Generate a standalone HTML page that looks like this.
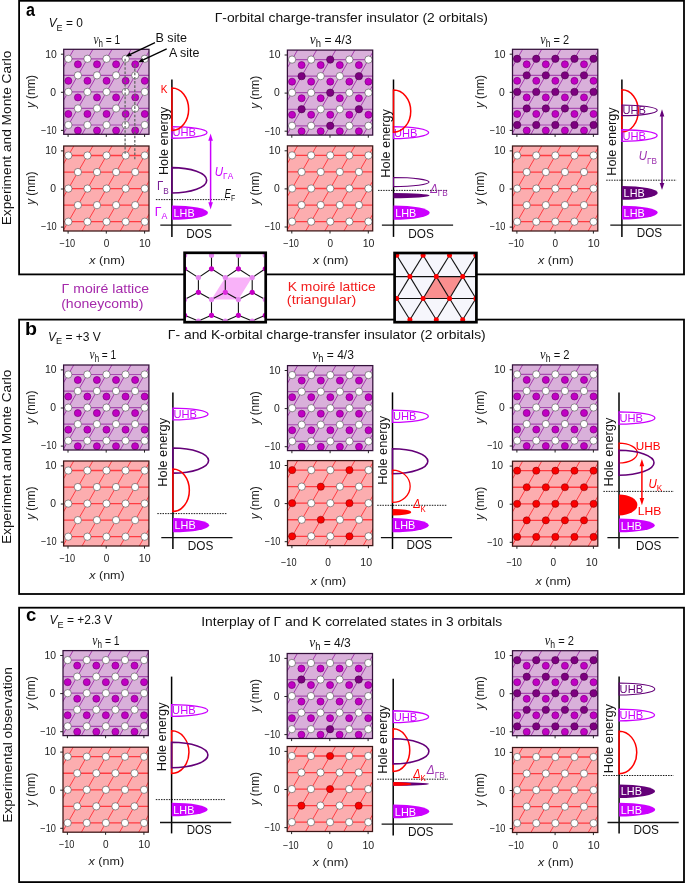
<!DOCTYPE html>
<html><head><meta charset="utf-8"><style>
html,body{margin:0;padding:0;background:#fff;}
svg{display:block;will-change:transform;font-family:"Liberation Sans", sans-serif;}
</style></head><body>
<svg width="685" height="883" viewBox="0 0 685 883" font-family='"Liberation Sans", sans-serif'>
<rect x="0" y="0" width="685" height="883" fill="#fff"/>
<rect x="19.1" y="0.8" width="664.90" height="273.60" fill="none" stroke="#000" stroke-width="1.8"/>
<rect x="19.1" y="319.6" width="664.90" height="274.40" fill="none" stroke="#000" stroke-width="1.8"/>
<rect x="19.1" y="607.7" width="664.90" height="274.40" fill="none" stroke="#000" stroke-width="1.8"/>
<clipPath id="c1"><rect x="63.70" y="49.30" width="85.3" height="85.0"/></clipPath>
<rect x="63.70" y="49.30" width="85.3" height="85.0" fill="#d9b0da"/>
<g clip-path="url(#c1)">
<line x1="61.70" y1="42.25" x2="151.00" y2="42.25" stroke="#a94bb1" stroke-width="1.2"/>
<line x1="61.70" y1="58.80" x2="151.00" y2="58.80" stroke="#a94bb1" stroke-width="1.2"/>
<line x1="61.70" y1="75.35" x2="151.00" y2="75.35" stroke="#a94bb1" stroke-width="1.2"/>
<line x1="61.70" y1="91.90" x2="151.00" y2="91.90" stroke="#a94bb1" stroke-width="1.2"/>
<line x1="61.70" y1="108.45" x2="151.00" y2="108.45" stroke="#a94bb1" stroke-width="1.2"/>
<line x1="61.70" y1="125.00" x2="151.00" y2="125.00" stroke="#a94bb1" stroke-width="1.2"/>
<line x1="61.70" y1="141.55" x2="151.00" y2="141.55" stroke="#a94bb1" stroke-width="1.2"/>
<line x1="-39.61" y1="47.30" x2="-90.97" y2="136.30" stroke="#a53aad" stroke-width="1.0"/>
<line x1="-20.51" y1="47.30" x2="-71.87" y2="136.30" stroke="#a53aad" stroke-width="1.0"/>
<line x1="-1.41" y1="47.30" x2="-52.77" y2="136.30" stroke="#a53aad" stroke-width="1.0"/>
<line x1="17.69" y1="47.30" x2="-33.67" y2="136.30" stroke="#a53aad" stroke-width="1.0"/>
<line x1="36.79" y1="47.30" x2="-14.57" y2="136.30" stroke="#a53aad" stroke-width="1.0"/>
<line x1="55.89" y1="47.30" x2="4.53" y2="136.30" stroke="#a53aad" stroke-width="1.0"/>
<line x1="74.99" y1="47.30" x2="23.63" y2="136.30" stroke="#a53aad" stroke-width="1.0"/>
<line x1="94.09" y1="47.30" x2="42.73" y2="136.30" stroke="#a53aad" stroke-width="1.0"/>
<line x1="113.19" y1="47.30" x2="61.83" y2="136.30" stroke="#a53aad" stroke-width="1.0"/>
<line x1="132.29" y1="47.30" x2="80.93" y2="136.30" stroke="#a53aad" stroke-width="1.0"/>
<line x1="151.39" y1="47.30" x2="100.03" y2="136.30" stroke="#a53aad" stroke-width="1.0"/>
<line x1="170.49" y1="47.30" x2="119.13" y2="136.30" stroke="#a53aad" stroke-width="1.0"/>
<line x1="189.59" y1="47.30" x2="138.23" y2="136.30" stroke="#a53aad" stroke-width="1.0"/>
<line x1="208.69" y1="47.30" x2="157.33" y2="136.30" stroke="#a53aad" stroke-width="1.0"/>
<circle cx="77.90" cy="64.32" r="3.5" fill="#c000c4" stroke="#7a007a" stroke-width="0.7"/>
<circle cx="97.00" cy="64.32" r="3.5" fill="#c000c4" stroke="#7a007a" stroke-width="0.7"/>
<circle cx="116.10" cy="64.32" r="3.5" fill="#c000c4" stroke="#7a007a" stroke-width="0.7"/>
<circle cx="135.20" cy="64.32" r="3.5" fill="#c000c4" stroke="#7a007a" stroke-width="0.7"/>
<circle cx="68.35" cy="80.87" r="3.5" fill="#c000c4" stroke="#7a007a" stroke-width="0.7"/>
<circle cx="87.45" cy="80.87" r="3.5" fill="#c000c4" stroke="#7a007a" stroke-width="0.7"/>
<circle cx="106.55" cy="80.87" r="3.5" fill="#c000c4" stroke="#7a007a" stroke-width="0.7"/>
<circle cx="125.65" cy="80.87" r="3.5" fill="#c000c4" stroke="#7a007a" stroke-width="0.7"/>
<circle cx="144.75" cy="80.87" r="3.5" fill="#c000c4" stroke="#7a007a" stroke-width="0.7"/>
<circle cx="77.90" cy="97.42" r="3.5" fill="#c000c4" stroke="#7a007a" stroke-width="0.7"/>
<circle cx="97.00" cy="97.42" r="3.5" fill="#c000c4" stroke="#7a007a" stroke-width="0.7"/>
<circle cx="116.10" cy="97.42" r="3.5" fill="#c000c4" stroke="#7a007a" stroke-width="0.7"/>
<circle cx="135.20" cy="97.42" r="3.5" fill="#c000c4" stroke="#7a007a" stroke-width="0.7"/>
<circle cx="68.35" cy="113.97" r="3.5" fill="#c000c4" stroke="#7a007a" stroke-width="0.7"/>
<circle cx="87.45" cy="113.97" r="3.5" fill="#c000c4" stroke="#7a007a" stroke-width="0.7"/>
<circle cx="106.55" cy="113.97" r="3.5" fill="#c000c4" stroke="#7a007a" stroke-width="0.7"/>
<circle cx="125.65" cy="113.97" r="3.5" fill="#c000c4" stroke="#7a007a" stroke-width="0.7"/>
<circle cx="144.75" cy="113.97" r="3.5" fill="#c000c4" stroke="#7a007a" stroke-width="0.7"/>
<circle cx="77.90" cy="130.52" r="3.5" fill="#c000c4" stroke="#7a007a" stroke-width="0.7"/>
<circle cx="97.00" cy="130.52" r="3.5" fill="#c000c4" stroke="#7a007a" stroke-width="0.7"/>
<circle cx="116.10" cy="130.52" r="3.5" fill="#c000c4" stroke="#7a007a" stroke-width="0.7"/>
<circle cx="135.20" cy="130.52" r="3.5" fill="#c000c4" stroke="#7a007a" stroke-width="0.7"/>
<circle cx="68.35" cy="58.80" r="3.65" fill="#ffffff" stroke="#4a4a4a" stroke-width="0.6"/>
<circle cx="87.45" cy="58.80" r="3.65" fill="#ffffff" stroke="#4a4a4a" stroke-width="0.6"/>
<circle cx="106.55" cy="58.80" r="3.65" fill="#ffffff" stroke="#4a4a4a" stroke-width="0.6"/>
<circle cx="125.65" cy="58.80" r="3.65" fill="#ffffff" stroke="#4a4a4a" stroke-width="0.6"/>
<circle cx="144.75" cy="58.80" r="3.65" fill="#ffffff" stroke="#4a4a4a" stroke-width="0.6"/>
<circle cx="77.90" cy="75.35" r="3.65" fill="#ffffff" stroke="#4a4a4a" stroke-width="0.6"/>
<circle cx="97.00" cy="75.35" r="3.65" fill="#ffffff" stroke="#4a4a4a" stroke-width="0.6"/>
<circle cx="116.10" cy="75.35" r="3.65" fill="#ffffff" stroke="#4a4a4a" stroke-width="0.6"/>
<circle cx="135.20" cy="75.35" r="3.65" fill="#ffffff" stroke="#4a4a4a" stroke-width="0.6"/>
<circle cx="68.35" cy="91.90" r="3.65" fill="#ffffff" stroke="#4a4a4a" stroke-width="0.6"/>
<circle cx="87.45" cy="91.90" r="3.65" fill="#ffffff" stroke="#4a4a4a" stroke-width="0.6"/>
<circle cx="106.55" cy="91.90" r="3.65" fill="#ffffff" stroke="#4a4a4a" stroke-width="0.6"/>
<circle cx="125.65" cy="91.90" r="3.65" fill="#ffffff" stroke="#4a4a4a" stroke-width="0.6"/>
<circle cx="144.75" cy="91.90" r="3.65" fill="#ffffff" stroke="#4a4a4a" stroke-width="0.6"/>
<circle cx="77.90" cy="108.45" r="3.65" fill="#ffffff" stroke="#4a4a4a" stroke-width="0.6"/>
<circle cx="97.00" cy="108.45" r="3.65" fill="#ffffff" stroke="#4a4a4a" stroke-width="0.6"/>
<circle cx="116.10" cy="108.45" r="3.65" fill="#ffffff" stroke="#4a4a4a" stroke-width="0.6"/>
<circle cx="135.20" cy="108.45" r="3.65" fill="#ffffff" stroke="#4a4a4a" stroke-width="0.6"/>
<circle cx="68.35" cy="125.00" r="3.65" fill="#ffffff" stroke="#4a4a4a" stroke-width="0.6"/>
<circle cx="87.45" cy="125.00" r="3.65" fill="#ffffff" stroke="#4a4a4a" stroke-width="0.6"/>
<circle cx="106.55" cy="125.00" r="3.65" fill="#ffffff" stroke="#4a4a4a" stroke-width="0.6"/>
<circle cx="125.65" cy="125.00" r="3.65" fill="#ffffff" stroke="#4a4a4a" stroke-width="0.6"/>
<circle cx="144.75" cy="125.00" r="3.65" fill="#ffffff" stroke="#4a4a4a" stroke-width="0.6"/>
</g>
<rect x="63.70" y="49.30" width="85.3" height="85.0" fill="none" stroke="#33103a" stroke-width="1.25"/>
<line x1="60.90" y1="54.20" x2="63.70" y2="54.20" stroke="#222" stroke-width="1"/>
<line x1="60.90" y1="92.30" x2="63.70" y2="92.30" stroke="#222" stroke-width="1"/>
<line x1="60.90" y1="130.40" x2="63.70" y2="130.40" stroke="#222" stroke-width="1"/>
<line x1="68.10" y1="134.30" x2="68.10" y2="136.90" stroke="#222" stroke-width="1"/>
<line x1="106.30" y1="134.30" x2="106.30" y2="136.90" stroke="#222" stroke-width="1"/>
<line x1="144.60" y1="134.30" x2="144.60" y2="136.90" stroke="#222" stroke-width="1"/>
<clipPath id="c2"><rect x="63.70" y="146.00" width="85.3" height="85.0"/></clipPath>
<rect x="63.70" y="146.00" width="85.3" height="85.0" fill="#fcadaf"/>
<g clip-path="url(#c2)">
<line x1="61.70" y1="138.95" x2="151.00" y2="138.95" stroke="#ff3c42" stroke-width="1.3"/>
<line x1="61.70" y1="155.50" x2="151.00" y2="155.50" stroke="#ff3c42" stroke-width="1.3"/>
<line x1="61.70" y1="172.05" x2="151.00" y2="172.05" stroke="#ff3c42" stroke-width="1.3"/>
<line x1="61.70" y1="188.60" x2="151.00" y2="188.60" stroke="#ff3c42" stroke-width="1.3"/>
<line x1="61.70" y1="205.15" x2="151.00" y2="205.15" stroke="#ff3c42" stroke-width="1.3"/>
<line x1="61.70" y1="221.70" x2="151.00" y2="221.70" stroke="#ff3c42" stroke-width="1.3"/>
<line x1="61.70" y1="238.25" x2="151.00" y2="238.25" stroke="#ff3c42" stroke-width="1.3"/>
<line x1="-39.61" y1="144.00" x2="-90.97" y2="233.00" stroke="#ff3c42" stroke-width="1.0"/>
<line x1="-20.51" y1="144.00" x2="-71.87" y2="233.00" stroke="#ff3c42" stroke-width="1.0"/>
<line x1="-1.41" y1="144.00" x2="-52.77" y2="233.00" stroke="#ff3c42" stroke-width="1.0"/>
<line x1="17.69" y1="144.00" x2="-33.67" y2="233.00" stroke="#ff3c42" stroke-width="1.0"/>
<line x1="36.79" y1="144.00" x2="-14.57" y2="233.00" stroke="#ff3c42" stroke-width="1.0"/>
<line x1="55.89" y1="144.00" x2="4.53" y2="233.00" stroke="#ff3c42" stroke-width="1.0"/>
<line x1="74.99" y1="144.00" x2="23.63" y2="233.00" stroke="#ff3c42" stroke-width="1.0"/>
<line x1="94.09" y1="144.00" x2="42.73" y2="233.00" stroke="#ff3c42" stroke-width="1.0"/>
<line x1="113.19" y1="144.00" x2="61.83" y2="233.00" stroke="#ff3c42" stroke-width="1.0"/>
<line x1="132.29" y1="144.00" x2="80.93" y2="233.00" stroke="#ff3c42" stroke-width="1.0"/>
<line x1="151.39" y1="144.00" x2="100.03" y2="233.00" stroke="#ff3c42" stroke-width="1.0"/>
<line x1="170.49" y1="144.00" x2="119.13" y2="233.00" stroke="#ff3c42" stroke-width="1.0"/>
<line x1="189.59" y1="144.00" x2="138.23" y2="233.00" stroke="#ff3c42" stroke-width="1.0"/>
<line x1="208.69" y1="144.00" x2="157.33" y2="233.00" stroke="#ff3c42" stroke-width="1.0"/>
<circle cx="68.35" cy="155.50" r="3.65" fill="#ffffff" stroke="#4a4a4a" stroke-width="0.6"/>
<circle cx="87.45" cy="155.50" r="3.65" fill="#ffffff" stroke="#4a4a4a" stroke-width="0.6"/>
<circle cx="106.55" cy="155.50" r="3.65" fill="#ffffff" stroke="#4a4a4a" stroke-width="0.6"/>
<circle cx="125.65" cy="155.50" r="3.65" fill="#ffffff" stroke="#4a4a4a" stroke-width="0.6"/>
<circle cx="144.75" cy="155.50" r="3.65" fill="#ffffff" stroke="#4a4a4a" stroke-width="0.6"/>
<circle cx="77.90" cy="172.05" r="3.65" fill="#ffffff" stroke="#4a4a4a" stroke-width="0.6"/>
<circle cx="97.00" cy="172.05" r="3.65" fill="#ffffff" stroke="#4a4a4a" stroke-width="0.6"/>
<circle cx="116.10" cy="172.05" r="3.65" fill="#ffffff" stroke="#4a4a4a" stroke-width="0.6"/>
<circle cx="135.20" cy="172.05" r="3.65" fill="#ffffff" stroke="#4a4a4a" stroke-width="0.6"/>
<circle cx="68.35" cy="188.60" r="3.65" fill="#ffffff" stroke="#4a4a4a" stroke-width="0.6"/>
<circle cx="87.45" cy="188.60" r="3.65" fill="#ffffff" stroke="#4a4a4a" stroke-width="0.6"/>
<circle cx="106.55" cy="188.60" r="3.65" fill="#ffffff" stroke="#4a4a4a" stroke-width="0.6"/>
<circle cx="125.65" cy="188.60" r="3.65" fill="#ffffff" stroke="#4a4a4a" stroke-width="0.6"/>
<circle cx="144.75" cy="188.60" r="3.65" fill="#ffffff" stroke="#4a4a4a" stroke-width="0.6"/>
<circle cx="77.90" cy="205.15" r="3.65" fill="#ffffff" stroke="#4a4a4a" stroke-width="0.6"/>
<circle cx="97.00" cy="205.15" r="3.65" fill="#ffffff" stroke="#4a4a4a" stroke-width="0.6"/>
<circle cx="116.10" cy="205.15" r="3.65" fill="#ffffff" stroke="#4a4a4a" stroke-width="0.6"/>
<circle cx="135.20" cy="205.15" r="3.65" fill="#ffffff" stroke="#4a4a4a" stroke-width="0.6"/>
<circle cx="68.35" cy="221.70" r="3.65" fill="#ffffff" stroke="#4a4a4a" stroke-width="0.6"/>
<circle cx="87.45" cy="221.70" r="3.65" fill="#ffffff" stroke="#4a4a4a" stroke-width="0.6"/>
<circle cx="106.55" cy="221.70" r="3.65" fill="#ffffff" stroke="#4a4a4a" stroke-width="0.6"/>
<circle cx="125.65" cy="221.70" r="3.65" fill="#ffffff" stroke="#4a4a4a" stroke-width="0.6"/>
<circle cx="144.75" cy="221.70" r="3.65" fill="#ffffff" stroke="#4a4a4a" stroke-width="0.6"/>
</g>
<rect x="63.70" y="146.00" width="85.3" height="85.0" fill="none" stroke="#3a1515" stroke-width="1.25"/>
<line x1="60.90" y1="150.90" x2="63.70" y2="150.90" stroke="#222" stroke-width="1"/>
<line x1="60.90" y1="189.00" x2="63.70" y2="189.00" stroke="#222" stroke-width="1"/>
<line x1="60.90" y1="227.10" x2="63.70" y2="227.10" stroke="#222" stroke-width="1"/>
<line x1="68.10" y1="231.00" x2="68.10" y2="233.60" stroke="#222" stroke-width="1"/>
<line x1="106.30" y1="231.00" x2="106.30" y2="233.60" stroke="#222" stroke-width="1"/>
<line x1="144.60" y1="231.00" x2="144.60" y2="233.60" stroke="#222" stroke-width="1"/>
<clipPath id="c3"><rect x="287.40" y="50.10" width="85.3" height="85.0"/></clipPath>
<rect x="287.40" y="50.10" width="85.3" height="85.0" fill="#d9b0da"/>
<g clip-path="url(#c3)">
<line x1="285.40" y1="43.05" x2="374.70" y2="43.05" stroke="#a94bb1" stroke-width="1.2"/>
<line x1="285.40" y1="59.60" x2="374.70" y2="59.60" stroke="#a94bb1" stroke-width="1.2"/>
<line x1="285.40" y1="76.15" x2="374.70" y2="76.15" stroke="#a94bb1" stroke-width="1.2"/>
<line x1="285.40" y1="92.70" x2="374.70" y2="92.70" stroke="#a94bb1" stroke-width="1.2"/>
<line x1="285.40" y1="109.25" x2="374.70" y2="109.25" stroke="#a94bb1" stroke-width="1.2"/>
<line x1="285.40" y1="125.80" x2="374.70" y2="125.80" stroke="#a94bb1" stroke-width="1.2"/>
<line x1="285.40" y1="142.35" x2="374.70" y2="142.35" stroke="#a94bb1" stroke-width="1.2"/>
<line x1="184.09" y1="48.10" x2="132.73" y2="137.10" stroke="#a53aad" stroke-width="1.0"/>
<line x1="203.19" y1="48.10" x2="151.83" y2="137.10" stroke="#a53aad" stroke-width="1.0"/>
<line x1="222.29" y1="48.10" x2="170.93" y2="137.10" stroke="#a53aad" stroke-width="1.0"/>
<line x1="241.39" y1="48.10" x2="190.03" y2="137.10" stroke="#a53aad" stroke-width="1.0"/>
<line x1="260.49" y1="48.10" x2="209.13" y2="137.10" stroke="#a53aad" stroke-width="1.0"/>
<line x1="279.59" y1="48.10" x2="228.23" y2="137.10" stroke="#a53aad" stroke-width="1.0"/>
<line x1="298.69" y1="48.10" x2="247.33" y2="137.10" stroke="#a53aad" stroke-width="1.0"/>
<line x1="317.79" y1="48.10" x2="266.43" y2="137.10" stroke="#a53aad" stroke-width="1.0"/>
<line x1="336.89" y1="48.10" x2="285.53" y2="137.10" stroke="#a53aad" stroke-width="1.0"/>
<line x1="355.99" y1="48.10" x2="304.63" y2="137.10" stroke="#a53aad" stroke-width="1.0"/>
<line x1="375.09" y1="48.10" x2="323.73" y2="137.10" stroke="#a53aad" stroke-width="1.0"/>
<line x1="394.19" y1="48.10" x2="342.83" y2="137.10" stroke="#a53aad" stroke-width="1.0"/>
<line x1="413.29" y1="48.10" x2="361.93" y2="137.10" stroke="#a53aad" stroke-width="1.0"/>
<line x1="432.39" y1="48.10" x2="381.03" y2="137.10" stroke="#a53aad" stroke-width="1.0"/>
<circle cx="301.60" cy="65.12" r="3.5" fill="#c000c4" stroke="#7a007a" stroke-width="0.7"/>
<circle cx="320.70" cy="65.12" r="3.5" fill="#c000c4" stroke="#7a007a" stroke-width="0.7"/>
<circle cx="339.80" cy="65.12" r="3.5" fill="#c000c4" stroke="#7a007a" stroke-width="0.7"/>
<circle cx="358.90" cy="65.12" r="3.5" fill="#c000c4" stroke="#7a007a" stroke-width="0.7"/>
<circle cx="292.05" cy="81.67" r="3.5" fill="#c000c4" stroke="#7a007a" stroke-width="0.7"/>
<circle cx="311.15" cy="81.67" r="3.5" fill="#c000c4" stroke="#7a007a" stroke-width="0.7"/>
<circle cx="330.25" cy="81.67" r="3.5" fill="#c000c4" stroke="#7a007a" stroke-width="0.7"/>
<circle cx="349.35" cy="81.67" r="3.5" fill="#c000c4" stroke="#7a007a" stroke-width="0.7"/>
<circle cx="368.45" cy="81.67" r="3.5" fill="#c000c4" stroke="#7a007a" stroke-width="0.7"/>
<circle cx="301.60" cy="98.22" r="3.5" fill="#c000c4" stroke="#7a007a" stroke-width="0.7"/>
<circle cx="320.70" cy="98.22" r="3.5" fill="#c000c4" stroke="#7a007a" stroke-width="0.7"/>
<circle cx="339.80" cy="98.22" r="3.5" fill="#c000c4" stroke="#7a007a" stroke-width="0.7"/>
<circle cx="358.90" cy="98.22" r="3.5" fill="#c000c4" stroke="#7a007a" stroke-width="0.7"/>
<circle cx="292.05" cy="114.77" r="3.5" fill="#c000c4" stroke="#7a007a" stroke-width="0.7"/>
<circle cx="311.15" cy="114.77" r="3.5" fill="#c000c4" stroke="#7a007a" stroke-width="0.7"/>
<circle cx="330.25" cy="114.77" r="3.5" fill="#c000c4" stroke="#7a007a" stroke-width="0.7"/>
<circle cx="349.35" cy="114.77" r="3.5" fill="#c000c4" stroke="#7a007a" stroke-width="0.7"/>
<circle cx="368.45" cy="114.77" r="3.5" fill="#c000c4" stroke="#7a007a" stroke-width="0.7"/>
<circle cx="301.60" cy="131.32" r="3.5" fill="#c000c4" stroke="#7a007a" stroke-width="0.7"/>
<circle cx="320.70" cy="131.32" r="3.5" fill="#c000c4" stroke="#7a007a" stroke-width="0.7"/>
<circle cx="339.80" cy="131.32" r="3.5" fill="#c000c4" stroke="#7a007a" stroke-width="0.7"/>
<circle cx="358.90" cy="131.32" r="3.5" fill="#c000c4" stroke="#7a007a" stroke-width="0.7"/>
<circle cx="292.05" cy="59.60" r="3.65" fill="#ffffff" stroke="#4a4a4a" stroke-width="0.6"/>
<circle cx="311.15" cy="59.60" r="3.65" fill="#ffffff" stroke="#4a4a4a" stroke-width="0.6"/>
<circle cx="330.25" cy="59.60" r="3.7" fill="#7d0080" stroke="#3d003d" stroke-width="0.5"/>
<circle cx="349.35" cy="59.60" r="3.65" fill="#ffffff" stroke="#4a4a4a" stroke-width="0.6"/>
<circle cx="368.45" cy="59.60" r="3.65" fill="#ffffff" stroke="#4a4a4a" stroke-width="0.6"/>
<circle cx="301.60" cy="76.15" r="3.7" fill="#7d0080" stroke="#3d003d" stroke-width="0.5"/>
<circle cx="320.70" cy="76.15" r="3.65" fill="#ffffff" stroke="#4a4a4a" stroke-width="0.6"/>
<circle cx="339.80" cy="76.15" r="3.65" fill="#ffffff" stroke="#4a4a4a" stroke-width="0.6"/>
<circle cx="358.90" cy="76.15" r="3.7" fill="#7d0080" stroke="#3d003d" stroke-width="0.5"/>
<circle cx="292.05" cy="92.70" r="3.65" fill="#ffffff" stroke="#4a4a4a" stroke-width="0.6"/>
<circle cx="311.15" cy="92.70" r="3.65" fill="#ffffff" stroke="#4a4a4a" stroke-width="0.6"/>
<circle cx="330.25" cy="92.70" r="3.7" fill="#7d0080" stroke="#3d003d" stroke-width="0.5"/>
<circle cx="349.35" cy="92.70" r="3.65" fill="#ffffff" stroke="#4a4a4a" stroke-width="0.6"/>
<circle cx="368.45" cy="92.70" r="3.65" fill="#ffffff" stroke="#4a4a4a" stroke-width="0.6"/>
<circle cx="301.60" cy="109.25" r="3.7" fill="#7d0080" stroke="#3d003d" stroke-width="0.5"/>
<circle cx="320.70" cy="109.25" r="3.65" fill="#ffffff" stroke="#4a4a4a" stroke-width="0.6"/>
<circle cx="339.80" cy="109.25" r="3.65" fill="#ffffff" stroke="#4a4a4a" stroke-width="0.6"/>
<circle cx="358.90" cy="109.25" r="3.7" fill="#7d0080" stroke="#3d003d" stroke-width="0.5"/>
<circle cx="292.05" cy="125.80" r="3.65" fill="#ffffff" stroke="#4a4a4a" stroke-width="0.6"/>
<circle cx="311.15" cy="125.80" r="3.65" fill="#ffffff" stroke="#4a4a4a" stroke-width="0.6"/>
<circle cx="330.25" cy="125.80" r="3.7" fill="#7d0080" stroke="#3d003d" stroke-width="0.5"/>
<circle cx="349.35" cy="125.80" r="3.65" fill="#ffffff" stroke="#4a4a4a" stroke-width="0.6"/>
<circle cx="368.45" cy="125.80" r="3.65" fill="#ffffff" stroke="#4a4a4a" stroke-width="0.6"/>
</g>
<rect x="287.40" y="50.10" width="85.3" height="85.0" fill="none" stroke="#33103a" stroke-width="1.25"/>
<line x1="284.60" y1="55.00" x2="287.40" y2="55.00" stroke="#222" stroke-width="1"/>
<line x1="284.60" y1="93.10" x2="287.40" y2="93.10" stroke="#222" stroke-width="1"/>
<line x1="284.60" y1="131.20" x2="287.40" y2="131.20" stroke="#222" stroke-width="1"/>
<line x1="291.80" y1="135.10" x2="291.80" y2="137.70" stroke="#222" stroke-width="1"/>
<line x1="330.00" y1="135.10" x2="330.00" y2="137.70" stroke="#222" stroke-width="1"/>
<line x1="368.30" y1="135.10" x2="368.30" y2="137.70" stroke="#222" stroke-width="1"/>
<clipPath id="c4"><rect x="287.40" y="145.90" width="85.3" height="85.0"/></clipPath>
<rect x="287.40" y="145.90" width="85.3" height="85.0" fill="#fcadaf"/>
<g clip-path="url(#c4)">
<line x1="285.40" y1="138.85" x2="374.70" y2="138.85" stroke="#ff3c42" stroke-width="1.3"/>
<line x1="285.40" y1="155.40" x2="374.70" y2="155.40" stroke="#ff3c42" stroke-width="1.3"/>
<line x1="285.40" y1="171.95" x2="374.70" y2="171.95" stroke="#ff3c42" stroke-width="1.3"/>
<line x1="285.40" y1="188.50" x2="374.70" y2="188.50" stroke="#ff3c42" stroke-width="1.3"/>
<line x1="285.40" y1="205.05" x2="374.70" y2="205.05" stroke="#ff3c42" stroke-width="1.3"/>
<line x1="285.40" y1="221.60" x2="374.70" y2="221.60" stroke="#ff3c42" stroke-width="1.3"/>
<line x1="285.40" y1="238.15" x2="374.70" y2="238.15" stroke="#ff3c42" stroke-width="1.3"/>
<line x1="184.09" y1="143.90" x2="132.73" y2="232.90" stroke="#ff3c42" stroke-width="1.0"/>
<line x1="203.19" y1="143.90" x2="151.83" y2="232.90" stroke="#ff3c42" stroke-width="1.0"/>
<line x1="222.29" y1="143.90" x2="170.93" y2="232.90" stroke="#ff3c42" stroke-width="1.0"/>
<line x1="241.39" y1="143.90" x2="190.03" y2="232.90" stroke="#ff3c42" stroke-width="1.0"/>
<line x1="260.49" y1="143.90" x2="209.13" y2="232.90" stroke="#ff3c42" stroke-width="1.0"/>
<line x1="279.59" y1="143.90" x2="228.23" y2="232.90" stroke="#ff3c42" stroke-width="1.0"/>
<line x1="298.69" y1="143.90" x2="247.33" y2="232.90" stroke="#ff3c42" stroke-width="1.0"/>
<line x1="317.79" y1="143.90" x2="266.43" y2="232.90" stroke="#ff3c42" stroke-width="1.0"/>
<line x1="336.89" y1="143.90" x2="285.53" y2="232.90" stroke="#ff3c42" stroke-width="1.0"/>
<line x1="355.99" y1="143.90" x2="304.63" y2="232.90" stroke="#ff3c42" stroke-width="1.0"/>
<line x1="375.09" y1="143.90" x2="323.73" y2="232.90" stroke="#ff3c42" stroke-width="1.0"/>
<line x1="394.19" y1="143.90" x2="342.83" y2="232.90" stroke="#ff3c42" stroke-width="1.0"/>
<line x1="413.29" y1="143.90" x2="361.93" y2="232.90" stroke="#ff3c42" stroke-width="1.0"/>
<line x1="432.39" y1="143.90" x2="381.03" y2="232.90" stroke="#ff3c42" stroke-width="1.0"/>
<circle cx="292.05" cy="155.40" r="3.65" fill="#ffffff" stroke="#4a4a4a" stroke-width="0.6"/>
<circle cx="311.15" cy="155.40" r="3.65" fill="#ffffff" stroke="#4a4a4a" stroke-width="0.6"/>
<circle cx="330.25" cy="155.40" r="3.65" fill="#ffffff" stroke="#4a4a4a" stroke-width="0.6"/>
<circle cx="349.35" cy="155.40" r="3.65" fill="#ffffff" stroke="#4a4a4a" stroke-width="0.6"/>
<circle cx="368.45" cy="155.40" r="3.65" fill="#ffffff" stroke="#4a4a4a" stroke-width="0.6"/>
<circle cx="301.60" cy="171.95" r="3.65" fill="#ffffff" stroke="#4a4a4a" stroke-width="0.6"/>
<circle cx="320.70" cy="171.95" r="3.65" fill="#ffffff" stroke="#4a4a4a" stroke-width="0.6"/>
<circle cx="339.80" cy="171.95" r="3.65" fill="#ffffff" stroke="#4a4a4a" stroke-width="0.6"/>
<circle cx="358.90" cy="171.95" r="3.65" fill="#ffffff" stroke="#4a4a4a" stroke-width="0.6"/>
<circle cx="292.05" cy="188.50" r="3.65" fill="#ffffff" stroke="#4a4a4a" stroke-width="0.6"/>
<circle cx="311.15" cy="188.50" r="3.65" fill="#ffffff" stroke="#4a4a4a" stroke-width="0.6"/>
<circle cx="330.25" cy="188.50" r="3.65" fill="#ffffff" stroke="#4a4a4a" stroke-width="0.6"/>
<circle cx="349.35" cy="188.50" r="3.65" fill="#ffffff" stroke="#4a4a4a" stroke-width="0.6"/>
<circle cx="368.45" cy="188.50" r="3.65" fill="#ffffff" stroke="#4a4a4a" stroke-width="0.6"/>
<circle cx="301.60" cy="205.05" r="3.65" fill="#ffffff" stroke="#4a4a4a" stroke-width="0.6"/>
<circle cx="320.70" cy="205.05" r="3.65" fill="#ffffff" stroke="#4a4a4a" stroke-width="0.6"/>
<circle cx="339.80" cy="205.05" r="3.65" fill="#ffffff" stroke="#4a4a4a" stroke-width="0.6"/>
<circle cx="358.90" cy="205.05" r="3.65" fill="#ffffff" stroke="#4a4a4a" stroke-width="0.6"/>
<circle cx="292.05" cy="221.60" r="3.65" fill="#ffffff" stroke="#4a4a4a" stroke-width="0.6"/>
<circle cx="311.15" cy="221.60" r="3.65" fill="#ffffff" stroke="#4a4a4a" stroke-width="0.6"/>
<circle cx="330.25" cy="221.60" r="3.65" fill="#ffffff" stroke="#4a4a4a" stroke-width="0.6"/>
<circle cx="349.35" cy="221.60" r="3.65" fill="#ffffff" stroke="#4a4a4a" stroke-width="0.6"/>
<circle cx="368.45" cy="221.60" r="3.65" fill="#ffffff" stroke="#4a4a4a" stroke-width="0.6"/>
</g>
<rect x="287.40" y="145.90" width="85.3" height="85.0" fill="none" stroke="#3a1515" stroke-width="1.25"/>
<line x1="284.60" y1="150.80" x2="287.40" y2="150.80" stroke="#222" stroke-width="1"/>
<line x1="284.60" y1="188.90" x2="287.40" y2="188.90" stroke="#222" stroke-width="1"/>
<line x1="284.60" y1="227.00" x2="287.40" y2="227.00" stroke="#222" stroke-width="1"/>
<line x1="291.80" y1="230.90" x2="291.80" y2="233.50" stroke="#222" stroke-width="1"/>
<line x1="330.00" y1="230.90" x2="330.00" y2="233.50" stroke="#222" stroke-width="1"/>
<line x1="368.30" y1="230.90" x2="368.30" y2="233.50" stroke="#222" stroke-width="1"/>
<clipPath id="c5"><rect x="512.50" y="49.30" width="85.3" height="85.0"/></clipPath>
<rect x="512.50" y="49.30" width="85.3" height="85.0" fill="#d9b0da"/>
<g clip-path="url(#c5)">
<line x1="510.50" y1="42.25" x2="599.80" y2="42.25" stroke="#a94bb1" stroke-width="1.2"/>
<line x1="510.50" y1="58.80" x2="599.80" y2="58.80" stroke="#a94bb1" stroke-width="1.2"/>
<line x1="510.50" y1="75.35" x2="599.80" y2="75.35" stroke="#a94bb1" stroke-width="1.2"/>
<line x1="510.50" y1="91.90" x2="599.80" y2="91.90" stroke="#a94bb1" stroke-width="1.2"/>
<line x1="510.50" y1="108.45" x2="599.80" y2="108.45" stroke="#a94bb1" stroke-width="1.2"/>
<line x1="510.50" y1="125.00" x2="599.80" y2="125.00" stroke="#a94bb1" stroke-width="1.2"/>
<line x1="510.50" y1="141.55" x2="599.80" y2="141.55" stroke="#a94bb1" stroke-width="1.2"/>
<line x1="409.19" y1="47.30" x2="357.83" y2="136.30" stroke="#a53aad" stroke-width="1.0"/>
<line x1="428.29" y1="47.30" x2="376.93" y2="136.30" stroke="#a53aad" stroke-width="1.0"/>
<line x1="447.39" y1="47.30" x2="396.03" y2="136.30" stroke="#a53aad" stroke-width="1.0"/>
<line x1="466.49" y1="47.30" x2="415.13" y2="136.30" stroke="#a53aad" stroke-width="1.0"/>
<line x1="485.59" y1="47.30" x2="434.23" y2="136.30" stroke="#a53aad" stroke-width="1.0"/>
<line x1="504.69" y1="47.30" x2="453.33" y2="136.30" stroke="#a53aad" stroke-width="1.0"/>
<line x1="523.79" y1="47.30" x2="472.43" y2="136.30" stroke="#a53aad" stroke-width="1.0"/>
<line x1="542.89" y1="47.30" x2="491.53" y2="136.30" stroke="#a53aad" stroke-width="1.0"/>
<line x1="561.99" y1="47.30" x2="510.63" y2="136.30" stroke="#a53aad" stroke-width="1.0"/>
<line x1="581.09" y1="47.30" x2="529.73" y2="136.30" stroke="#a53aad" stroke-width="1.0"/>
<line x1="600.19" y1="47.30" x2="548.83" y2="136.30" stroke="#a53aad" stroke-width="1.0"/>
<line x1="619.29" y1="47.30" x2="567.93" y2="136.30" stroke="#a53aad" stroke-width="1.0"/>
<line x1="638.39" y1="47.30" x2="587.03" y2="136.30" stroke="#a53aad" stroke-width="1.0"/>
<line x1="657.49" y1="47.30" x2="606.13" y2="136.30" stroke="#a53aad" stroke-width="1.0"/>
<circle cx="526.70" cy="64.32" r="3.5" fill="#c000c4" stroke="#7a007a" stroke-width="0.7"/>
<circle cx="545.80" cy="64.32" r="3.5" fill="#c000c4" stroke="#7a007a" stroke-width="0.7"/>
<circle cx="564.90" cy="64.32" r="3.5" fill="#c000c4" stroke="#7a007a" stroke-width="0.7"/>
<circle cx="584.00" cy="64.32" r="3.5" fill="#c000c4" stroke="#7a007a" stroke-width="0.7"/>
<circle cx="517.15" cy="80.87" r="3.5" fill="#c000c4" stroke="#7a007a" stroke-width="0.7"/>
<circle cx="536.25" cy="80.87" r="3.5" fill="#c000c4" stroke="#7a007a" stroke-width="0.7"/>
<circle cx="555.35" cy="80.87" r="3.5" fill="#c000c4" stroke="#7a007a" stroke-width="0.7"/>
<circle cx="574.45" cy="80.87" r="3.5" fill="#c000c4" stroke="#7a007a" stroke-width="0.7"/>
<circle cx="593.55" cy="80.87" r="3.5" fill="#c000c4" stroke="#7a007a" stroke-width="0.7"/>
<circle cx="526.70" cy="97.42" r="3.5" fill="#c000c4" stroke="#7a007a" stroke-width="0.7"/>
<circle cx="545.80" cy="97.42" r="3.5" fill="#c000c4" stroke="#7a007a" stroke-width="0.7"/>
<circle cx="564.90" cy="97.42" r="3.5" fill="#c000c4" stroke="#7a007a" stroke-width="0.7"/>
<circle cx="584.00" cy="97.42" r="3.5" fill="#c000c4" stroke="#7a007a" stroke-width="0.7"/>
<circle cx="517.15" cy="113.97" r="3.5" fill="#c000c4" stroke="#7a007a" stroke-width="0.7"/>
<circle cx="536.25" cy="113.97" r="3.5" fill="#c000c4" stroke="#7a007a" stroke-width="0.7"/>
<circle cx="555.35" cy="113.97" r="3.5" fill="#c000c4" stroke="#7a007a" stroke-width="0.7"/>
<circle cx="574.45" cy="113.97" r="3.5" fill="#c000c4" stroke="#7a007a" stroke-width="0.7"/>
<circle cx="593.55" cy="113.97" r="3.5" fill="#c000c4" stroke="#7a007a" stroke-width="0.7"/>
<circle cx="526.70" cy="130.52" r="3.5" fill="#c000c4" stroke="#7a007a" stroke-width="0.7"/>
<circle cx="545.80" cy="130.52" r="3.5" fill="#c000c4" stroke="#7a007a" stroke-width="0.7"/>
<circle cx="564.90" cy="130.52" r="3.5" fill="#c000c4" stroke="#7a007a" stroke-width="0.7"/>
<circle cx="584.00" cy="130.52" r="3.5" fill="#c000c4" stroke="#7a007a" stroke-width="0.7"/>
<circle cx="517.15" cy="58.80" r="3.7" fill="#7d0080" stroke="#3d003d" stroke-width="0.5"/>
<circle cx="536.25" cy="58.80" r="3.7" fill="#7d0080" stroke="#3d003d" stroke-width="0.5"/>
<circle cx="555.35" cy="58.80" r="3.7" fill="#7d0080" stroke="#3d003d" stroke-width="0.5"/>
<circle cx="574.45" cy="58.80" r="3.7" fill="#7d0080" stroke="#3d003d" stroke-width="0.5"/>
<circle cx="593.55" cy="58.80" r="3.7" fill="#7d0080" stroke="#3d003d" stroke-width="0.5"/>
<circle cx="526.70" cy="75.35" r="3.7" fill="#7d0080" stroke="#3d003d" stroke-width="0.5"/>
<circle cx="545.80" cy="75.35" r="3.7" fill="#7d0080" stroke="#3d003d" stroke-width="0.5"/>
<circle cx="564.90" cy="75.35" r="3.7" fill="#7d0080" stroke="#3d003d" stroke-width="0.5"/>
<circle cx="584.00" cy="75.35" r="3.7" fill="#7d0080" stroke="#3d003d" stroke-width="0.5"/>
<circle cx="517.15" cy="91.90" r="3.7" fill="#7d0080" stroke="#3d003d" stroke-width="0.5"/>
<circle cx="536.25" cy="91.90" r="3.7" fill="#7d0080" stroke="#3d003d" stroke-width="0.5"/>
<circle cx="555.35" cy="91.90" r="3.7" fill="#7d0080" stroke="#3d003d" stroke-width="0.5"/>
<circle cx="574.45" cy="91.90" r="3.7" fill="#7d0080" stroke="#3d003d" stroke-width="0.5"/>
<circle cx="593.55" cy="91.90" r="3.7" fill="#7d0080" stroke="#3d003d" stroke-width="0.5"/>
<circle cx="526.70" cy="108.45" r="3.7" fill="#7d0080" stroke="#3d003d" stroke-width="0.5"/>
<circle cx="545.80" cy="108.45" r="3.7" fill="#7d0080" stroke="#3d003d" stroke-width="0.5"/>
<circle cx="564.90" cy="108.45" r="3.7" fill="#7d0080" stroke="#3d003d" stroke-width="0.5"/>
<circle cx="584.00" cy="108.45" r="3.7" fill="#7d0080" stroke="#3d003d" stroke-width="0.5"/>
<circle cx="517.15" cy="125.00" r="3.7" fill="#7d0080" stroke="#3d003d" stroke-width="0.5"/>
<circle cx="536.25" cy="125.00" r="3.7" fill="#7d0080" stroke="#3d003d" stroke-width="0.5"/>
<circle cx="555.35" cy="125.00" r="3.7" fill="#7d0080" stroke="#3d003d" stroke-width="0.5"/>
<circle cx="574.45" cy="125.00" r="3.7" fill="#7d0080" stroke="#3d003d" stroke-width="0.5"/>
<circle cx="593.55" cy="125.00" r="3.7" fill="#7d0080" stroke="#3d003d" stroke-width="0.5"/>
</g>
<rect x="512.50" y="49.30" width="85.3" height="85.0" fill="none" stroke="#33103a" stroke-width="1.25"/>
<line x1="509.70" y1="54.20" x2="512.50" y2="54.20" stroke="#222" stroke-width="1"/>
<line x1="509.70" y1="92.30" x2="512.50" y2="92.30" stroke="#222" stroke-width="1"/>
<line x1="509.70" y1="130.40" x2="512.50" y2="130.40" stroke="#222" stroke-width="1"/>
<line x1="516.90" y1="134.30" x2="516.90" y2="136.90" stroke="#222" stroke-width="1"/>
<line x1="555.10" y1="134.30" x2="555.10" y2="136.90" stroke="#222" stroke-width="1"/>
<line x1="593.40" y1="134.30" x2="593.40" y2="136.90" stroke="#222" stroke-width="1"/>
<clipPath id="c6"><rect x="512.50" y="146.00" width="85.3" height="85.0"/></clipPath>
<rect x="512.50" y="146.00" width="85.3" height="85.0" fill="#fcadaf"/>
<g clip-path="url(#c6)">
<line x1="510.50" y1="138.95" x2="599.80" y2="138.95" stroke="#ff3c42" stroke-width="1.3"/>
<line x1="510.50" y1="155.50" x2="599.80" y2="155.50" stroke="#ff3c42" stroke-width="1.3"/>
<line x1="510.50" y1="172.05" x2="599.80" y2="172.05" stroke="#ff3c42" stroke-width="1.3"/>
<line x1="510.50" y1="188.60" x2="599.80" y2="188.60" stroke="#ff3c42" stroke-width="1.3"/>
<line x1="510.50" y1="205.15" x2="599.80" y2="205.15" stroke="#ff3c42" stroke-width="1.3"/>
<line x1="510.50" y1="221.70" x2="599.80" y2="221.70" stroke="#ff3c42" stroke-width="1.3"/>
<line x1="510.50" y1="238.25" x2="599.80" y2="238.25" stroke="#ff3c42" stroke-width="1.3"/>
<line x1="409.19" y1="144.00" x2="357.83" y2="233.00" stroke="#ff3c42" stroke-width="1.0"/>
<line x1="428.29" y1="144.00" x2="376.93" y2="233.00" stroke="#ff3c42" stroke-width="1.0"/>
<line x1="447.39" y1="144.00" x2="396.03" y2="233.00" stroke="#ff3c42" stroke-width="1.0"/>
<line x1="466.49" y1="144.00" x2="415.13" y2="233.00" stroke="#ff3c42" stroke-width="1.0"/>
<line x1="485.59" y1="144.00" x2="434.23" y2="233.00" stroke="#ff3c42" stroke-width="1.0"/>
<line x1="504.69" y1="144.00" x2="453.33" y2="233.00" stroke="#ff3c42" stroke-width="1.0"/>
<line x1="523.79" y1="144.00" x2="472.43" y2="233.00" stroke="#ff3c42" stroke-width="1.0"/>
<line x1="542.89" y1="144.00" x2="491.53" y2="233.00" stroke="#ff3c42" stroke-width="1.0"/>
<line x1="561.99" y1="144.00" x2="510.63" y2="233.00" stroke="#ff3c42" stroke-width="1.0"/>
<line x1="581.09" y1="144.00" x2="529.73" y2="233.00" stroke="#ff3c42" stroke-width="1.0"/>
<line x1="600.19" y1="144.00" x2="548.83" y2="233.00" stroke="#ff3c42" stroke-width="1.0"/>
<line x1="619.29" y1="144.00" x2="567.93" y2="233.00" stroke="#ff3c42" stroke-width="1.0"/>
<line x1="638.39" y1="144.00" x2="587.03" y2="233.00" stroke="#ff3c42" stroke-width="1.0"/>
<line x1="657.49" y1="144.00" x2="606.13" y2="233.00" stroke="#ff3c42" stroke-width="1.0"/>
<circle cx="517.15" cy="155.50" r="3.65" fill="#ffffff" stroke="#4a4a4a" stroke-width="0.6"/>
<circle cx="536.25" cy="155.50" r="3.65" fill="#ffffff" stroke="#4a4a4a" stroke-width="0.6"/>
<circle cx="555.35" cy="155.50" r="3.65" fill="#ffffff" stroke="#4a4a4a" stroke-width="0.6"/>
<circle cx="574.45" cy="155.50" r="3.65" fill="#ffffff" stroke="#4a4a4a" stroke-width="0.6"/>
<circle cx="593.55" cy="155.50" r="3.65" fill="#ffffff" stroke="#4a4a4a" stroke-width="0.6"/>
<circle cx="526.70" cy="172.05" r="3.65" fill="#ffffff" stroke="#4a4a4a" stroke-width="0.6"/>
<circle cx="545.80" cy="172.05" r="3.65" fill="#ffffff" stroke="#4a4a4a" stroke-width="0.6"/>
<circle cx="564.90" cy="172.05" r="3.65" fill="#ffffff" stroke="#4a4a4a" stroke-width="0.6"/>
<circle cx="584.00" cy="172.05" r="3.65" fill="#ffffff" stroke="#4a4a4a" stroke-width="0.6"/>
<circle cx="517.15" cy="188.60" r="3.65" fill="#ffffff" stroke="#4a4a4a" stroke-width="0.6"/>
<circle cx="536.25" cy="188.60" r="3.65" fill="#ffffff" stroke="#4a4a4a" stroke-width="0.6"/>
<circle cx="555.35" cy="188.60" r="3.65" fill="#ffffff" stroke="#4a4a4a" stroke-width="0.6"/>
<circle cx="574.45" cy="188.60" r="3.65" fill="#ffffff" stroke="#4a4a4a" stroke-width="0.6"/>
<circle cx="593.55" cy="188.60" r="3.65" fill="#ffffff" stroke="#4a4a4a" stroke-width="0.6"/>
<circle cx="526.70" cy="205.15" r="3.65" fill="#ffffff" stroke="#4a4a4a" stroke-width="0.6"/>
<circle cx="545.80" cy="205.15" r="3.65" fill="#ffffff" stroke="#4a4a4a" stroke-width="0.6"/>
<circle cx="564.90" cy="205.15" r="3.65" fill="#ffffff" stroke="#4a4a4a" stroke-width="0.6"/>
<circle cx="584.00" cy="205.15" r="3.65" fill="#ffffff" stroke="#4a4a4a" stroke-width="0.6"/>
<circle cx="517.15" cy="221.70" r="3.65" fill="#ffffff" stroke="#4a4a4a" stroke-width="0.6"/>
<circle cx="536.25" cy="221.70" r="3.65" fill="#ffffff" stroke="#4a4a4a" stroke-width="0.6"/>
<circle cx="555.35" cy="221.70" r="3.65" fill="#ffffff" stroke="#4a4a4a" stroke-width="0.6"/>
<circle cx="574.45" cy="221.70" r="3.65" fill="#ffffff" stroke="#4a4a4a" stroke-width="0.6"/>
<circle cx="593.55" cy="221.70" r="3.65" fill="#ffffff" stroke="#4a4a4a" stroke-width="0.6"/>
</g>
<rect x="512.50" y="146.00" width="85.3" height="85.0" fill="none" stroke="#3a1515" stroke-width="1.25"/>
<line x1="509.70" y1="150.90" x2="512.50" y2="150.90" stroke="#222" stroke-width="1"/>
<line x1="509.70" y1="189.00" x2="512.50" y2="189.00" stroke="#222" stroke-width="1"/>
<line x1="509.70" y1="227.10" x2="512.50" y2="227.10" stroke="#222" stroke-width="1"/>
<line x1="516.90" y1="231.00" x2="516.90" y2="233.60" stroke="#222" stroke-width="1"/>
<line x1="555.10" y1="231.00" x2="555.10" y2="233.60" stroke="#222" stroke-width="1"/>
<line x1="593.40" y1="231.00" x2="593.40" y2="233.60" stroke="#222" stroke-width="1"/>
<clipPath id="c7"><rect x="63.60" y="365.00" width="85.3" height="85.0"/></clipPath>
<rect x="63.60" y="365.00" width="85.3" height="85.0" fill="#d9b0da"/>
<g clip-path="url(#c7)">
<line x1="61.60" y1="357.95" x2="150.90" y2="357.95" stroke="#a94bb1" stroke-width="1.2"/>
<line x1="61.60" y1="374.50" x2="150.90" y2="374.50" stroke="#a94bb1" stroke-width="1.2"/>
<line x1="61.60" y1="391.05" x2="150.90" y2="391.05" stroke="#a94bb1" stroke-width="1.2"/>
<line x1="61.60" y1="407.60" x2="150.90" y2="407.60" stroke="#a94bb1" stroke-width="1.2"/>
<line x1="61.60" y1="424.15" x2="150.90" y2="424.15" stroke="#a94bb1" stroke-width="1.2"/>
<line x1="61.60" y1="440.70" x2="150.90" y2="440.70" stroke="#a94bb1" stroke-width="1.2"/>
<line x1="61.60" y1="457.25" x2="150.90" y2="457.25" stroke="#a94bb1" stroke-width="1.2"/>
<line x1="-39.71" y1="363.00" x2="-91.07" y2="452.00" stroke="#a53aad" stroke-width="1.0"/>
<line x1="-20.61" y1="363.00" x2="-71.97" y2="452.00" stroke="#a53aad" stroke-width="1.0"/>
<line x1="-1.51" y1="363.00" x2="-52.87" y2="452.00" stroke="#a53aad" stroke-width="1.0"/>
<line x1="17.59" y1="363.00" x2="-33.77" y2="452.00" stroke="#a53aad" stroke-width="1.0"/>
<line x1="36.69" y1="363.00" x2="-14.67" y2="452.00" stroke="#a53aad" stroke-width="1.0"/>
<line x1="55.79" y1="363.00" x2="4.43" y2="452.00" stroke="#a53aad" stroke-width="1.0"/>
<line x1="74.89" y1="363.00" x2="23.53" y2="452.00" stroke="#a53aad" stroke-width="1.0"/>
<line x1="93.99" y1="363.00" x2="42.63" y2="452.00" stroke="#a53aad" stroke-width="1.0"/>
<line x1="113.09" y1="363.00" x2="61.73" y2="452.00" stroke="#a53aad" stroke-width="1.0"/>
<line x1="132.19" y1="363.00" x2="80.83" y2="452.00" stroke="#a53aad" stroke-width="1.0"/>
<line x1="151.29" y1="363.00" x2="99.93" y2="452.00" stroke="#a53aad" stroke-width="1.0"/>
<line x1="170.39" y1="363.00" x2="119.03" y2="452.00" stroke="#a53aad" stroke-width="1.0"/>
<line x1="189.49" y1="363.00" x2="138.13" y2="452.00" stroke="#a53aad" stroke-width="1.0"/>
<line x1="208.59" y1="363.00" x2="157.23" y2="452.00" stroke="#a53aad" stroke-width="1.0"/>
<circle cx="77.80" cy="380.02" r="3.5" fill="#c000c4" stroke="#7a007a" stroke-width="0.7"/>
<circle cx="96.90" cy="380.02" r="3.5" fill="#c000c4" stroke="#7a007a" stroke-width="0.7"/>
<circle cx="116.00" cy="380.02" r="3.5" fill="#c000c4" stroke="#7a007a" stroke-width="0.7"/>
<circle cx="135.10" cy="380.02" r="3.5" fill="#c000c4" stroke="#7a007a" stroke-width="0.7"/>
<circle cx="68.25" cy="396.57" r="3.5" fill="#c000c4" stroke="#7a007a" stroke-width="0.7"/>
<circle cx="87.35" cy="396.57" r="3.5" fill="#c000c4" stroke="#7a007a" stroke-width="0.7"/>
<circle cx="106.45" cy="396.57" r="3.5" fill="#c000c4" stroke="#7a007a" stroke-width="0.7"/>
<circle cx="125.55" cy="396.57" r="3.5" fill="#c000c4" stroke="#7a007a" stroke-width="0.7"/>
<circle cx="144.65" cy="396.57" r="3.5" fill="#c000c4" stroke="#7a007a" stroke-width="0.7"/>
<circle cx="77.80" cy="413.12" r="3.5" fill="#c000c4" stroke="#7a007a" stroke-width="0.7"/>
<circle cx="96.90" cy="413.12" r="3.5" fill="#c000c4" stroke="#7a007a" stroke-width="0.7"/>
<circle cx="116.00" cy="413.12" r="3.5" fill="#c000c4" stroke="#7a007a" stroke-width="0.7"/>
<circle cx="135.10" cy="413.12" r="3.5" fill="#c000c4" stroke="#7a007a" stroke-width="0.7"/>
<circle cx="68.25" cy="429.67" r="3.5" fill="#c000c4" stroke="#7a007a" stroke-width="0.7"/>
<circle cx="87.35" cy="429.67" r="3.5" fill="#c000c4" stroke="#7a007a" stroke-width="0.7"/>
<circle cx="106.45" cy="429.67" r="3.5" fill="#c000c4" stroke="#7a007a" stroke-width="0.7"/>
<circle cx="125.55" cy="429.67" r="3.5" fill="#c000c4" stroke="#7a007a" stroke-width="0.7"/>
<circle cx="144.65" cy="429.67" r="3.5" fill="#c000c4" stroke="#7a007a" stroke-width="0.7"/>
<circle cx="77.80" cy="446.22" r="3.5" fill="#c000c4" stroke="#7a007a" stroke-width="0.7"/>
<circle cx="96.90" cy="446.22" r="3.5" fill="#c000c4" stroke="#7a007a" stroke-width="0.7"/>
<circle cx="116.00" cy="446.22" r="3.5" fill="#c000c4" stroke="#7a007a" stroke-width="0.7"/>
<circle cx="135.10" cy="446.22" r="3.5" fill="#c000c4" stroke="#7a007a" stroke-width="0.7"/>
<circle cx="68.25" cy="374.50" r="3.65" fill="#ffffff" stroke="#4a4a4a" stroke-width="0.6"/>
<circle cx="87.35" cy="374.50" r="3.65" fill="#ffffff" stroke="#4a4a4a" stroke-width="0.6"/>
<circle cx="106.45" cy="374.50" r="3.65" fill="#ffffff" stroke="#4a4a4a" stroke-width="0.6"/>
<circle cx="125.55" cy="374.50" r="3.65" fill="#ffffff" stroke="#4a4a4a" stroke-width="0.6"/>
<circle cx="144.65" cy="374.50" r="3.65" fill="#ffffff" stroke="#4a4a4a" stroke-width="0.6"/>
<circle cx="77.80" cy="391.05" r="3.65" fill="#ffffff" stroke="#4a4a4a" stroke-width="0.6"/>
<circle cx="96.90" cy="391.05" r="3.65" fill="#ffffff" stroke="#4a4a4a" stroke-width="0.6"/>
<circle cx="116.00" cy="391.05" r="3.65" fill="#ffffff" stroke="#4a4a4a" stroke-width="0.6"/>
<circle cx="135.10" cy="391.05" r="3.65" fill="#ffffff" stroke="#4a4a4a" stroke-width="0.6"/>
<circle cx="68.25" cy="407.60" r="3.65" fill="#ffffff" stroke="#4a4a4a" stroke-width="0.6"/>
<circle cx="87.35" cy="407.60" r="3.65" fill="#ffffff" stroke="#4a4a4a" stroke-width="0.6"/>
<circle cx="106.45" cy="407.60" r="3.65" fill="#ffffff" stroke="#4a4a4a" stroke-width="0.6"/>
<circle cx="125.55" cy="407.60" r="3.65" fill="#ffffff" stroke="#4a4a4a" stroke-width="0.6"/>
<circle cx="144.65" cy="407.60" r="3.65" fill="#ffffff" stroke="#4a4a4a" stroke-width="0.6"/>
<circle cx="77.80" cy="424.15" r="3.65" fill="#ffffff" stroke="#4a4a4a" stroke-width="0.6"/>
<circle cx="96.90" cy="424.15" r="3.65" fill="#ffffff" stroke="#4a4a4a" stroke-width="0.6"/>
<circle cx="116.00" cy="424.15" r="3.65" fill="#ffffff" stroke="#4a4a4a" stroke-width="0.6"/>
<circle cx="135.10" cy="424.15" r="3.65" fill="#ffffff" stroke="#4a4a4a" stroke-width="0.6"/>
<circle cx="68.25" cy="440.70" r="3.65" fill="#ffffff" stroke="#4a4a4a" stroke-width="0.6"/>
<circle cx="87.35" cy="440.70" r="3.65" fill="#ffffff" stroke="#4a4a4a" stroke-width="0.6"/>
<circle cx="106.45" cy="440.70" r="3.65" fill="#ffffff" stroke="#4a4a4a" stroke-width="0.6"/>
<circle cx="125.55" cy="440.70" r="3.65" fill="#ffffff" stroke="#4a4a4a" stroke-width="0.6"/>
<circle cx="144.65" cy="440.70" r="3.65" fill="#ffffff" stroke="#4a4a4a" stroke-width="0.6"/>
</g>
<rect x="63.60" y="365.00" width="85.3" height="85.0" fill="none" stroke="#33103a" stroke-width="1.25"/>
<line x1="60.80" y1="369.90" x2="63.60" y2="369.90" stroke="#222" stroke-width="1"/>
<line x1="60.80" y1="408.00" x2="63.60" y2="408.00" stroke="#222" stroke-width="1"/>
<line x1="60.80" y1="446.10" x2="63.60" y2="446.10" stroke="#222" stroke-width="1"/>
<line x1="68.00" y1="450.00" x2="68.00" y2="452.60" stroke="#222" stroke-width="1"/>
<line x1="106.20" y1="450.00" x2="106.20" y2="452.60" stroke="#222" stroke-width="1"/>
<line x1="144.50" y1="450.00" x2="144.50" y2="452.60" stroke="#222" stroke-width="1"/>
<clipPath id="c8"><rect x="63.60" y="461.00" width="85.3" height="85.0"/></clipPath>
<rect x="63.60" y="461.00" width="85.3" height="85.0" fill="#fcadaf"/>
<g clip-path="url(#c8)">
<line x1="61.60" y1="453.95" x2="150.90" y2="453.95" stroke="#ff3c42" stroke-width="1.3"/>
<line x1="61.60" y1="470.50" x2="150.90" y2="470.50" stroke="#ff3c42" stroke-width="1.3"/>
<line x1="61.60" y1="487.05" x2="150.90" y2="487.05" stroke="#ff3c42" stroke-width="1.3"/>
<line x1="61.60" y1="503.60" x2="150.90" y2="503.60" stroke="#ff3c42" stroke-width="1.3"/>
<line x1="61.60" y1="520.15" x2="150.90" y2="520.15" stroke="#ff3c42" stroke-width="1.3"/>
<line x1="61.60" y1="536.70" x2="150.90" y2="536.70" stroke="#ff3c42" stroke-width="1.3"/>
<line x1="61.60" y1="553.25" x2="150.90" y2="553.25" stroke="#ff3c42" stroke-width="1.3"/>
<line x1="-39.71" y1="459.00" x2="-91.07" y2="548.00" stroke="#ff3c42" stroke-width="1.0"/>
<line x1="-20.61" y1="459.00" x2="-71.97" y2="548.00" stroke="#ff3c42" stroke-width="1.0"/>
<line x1="-1.51" y1="459.00" x2="-52.87" y2="548.00" stroke="#ff3c42" stroke-width="1.0"/>
<line x1="17.59" y1="459.00" x2="-33.77" y2="548.00" stroke="#ff3c42" stroke-width="1.0"/>
<line x1="36.69" y1="459.00" x2="-14.67" y2="548.00" stroke="#ff3c42" stroke-width="1.0"/>
<line x1="55.79" y1="459.00" x2="4.43" y2="548.00" stroke="#ff3c42" stroke-width="1.0"/>
<line x1="74.89" y1="459.00" x2="23.53" y2="548.00" stroke="#ff3c42" stroke-width="1.0"/>
<line x1="93.99" y1="459.00" x2="42.63" y2="548.00" stroke="#ff3c42" stroke-width="1.0"/>
<line x1="113.09" y1="459.00" x2="61.73" y2="548.00" stroke="#ff3c42" stroke-width="1.0"/>
<line x1="132.19" y1="459.00" x2="80.83" y2="548.00" stroke="#ff3c42" stroke-width="1.0"/>
<line x1="151.29" y1="459.00" x2="99.93" y2="548.00" stroke="#ff3c42" stroke-width="1.0"/>
<line x1="170.39" y1="459.00" x2="119.03" y2="548.00" stroke="#ff3c42" stroke-width="1.0"/>
<line x1="189.49" y1="459.00" x2="138.13" y2="548.00" stroke="#ff3c42" stroke-width="1.0"/>
<line x1="208.59" y1="459.00" x2="157.23" y2="548.00" stroke="#ff3c42" stroke-width="1.0"/>
<circle cx="68.25" cy="470.50" r="3.65" fill="#ffffff" stroke="#4a4a4a" stroke-width="0.6"/>
<circle cx="87.35" cy="470.50" r="3.65" fill="#ffffff" stroke="#4a4a4a" stroke-width="0.6"/>
<circle cx="106.45" cy="470.50" r="3.65" fill="#ffffff" stroke="#4a4a4a" stroke-width="0.6"/>
<circle cx="125.55" cy="470.50" r="3.65" fill="#ffffff" stroke="#4a4a4a" stroke-width="0.6"/>
<circle cx="144.65" cy="470.50" r="3.65" fill="#ffffff" stroke="#4a4a4a" stroke-width="0.6"/>
<circle cx="77.80" cy="487.05" r="3.65" fill="#ffffff" stroke="#4a4a4a" stroke-width="0.6"/>
<circle cx="96.90" cy="487.05" r="3.65" fill="#ffffff" stroke="#4a4a4a" stroke-width="0.6"/>
<circle cx="116.00" cy="487.05" r="3.65" fill="#ffffff" stroke="#4a4a4a" stroke-width="0.6"/>
<circle cx="135.10" cy="487.05" r="3.65" fill="#ffffff" stroke="#4a4a4a" stroke-width="0.6"/>
<circle cx="68.25" cy="503.60" r="3.65" fill="#ffffff" stroke="#4a4a4a" stroke-width="0.6"/>
<circle cx="87.35" cy="503.60" r="3.65" fill="#ffffff" stroke="#4a4a4a" stroke-width="0.6"/>
<circle cx="106.45" cy="503.60" r="3.65" fill="#ffffff" stroke="#4a4a4a" stroke-width="0.6"/>
<circle cx="125.55" cy="503.60" r="3.65" fill="#ffffff" stroke="#4a4a4a" stroke-width="0.6"/>
<circle cx="144.65" cy="503.60" r="3.65" fill="#ffffff" stroke="#4a4a4a" stroke-width="0.6"/>
<circle cx="77.80" cy="520.15" r="3.65" fill="#ffffff" stroke="#4a4a4a" stroke-width="0.6"/>
<circle cx="96.90" cy="520.15" r="3.65" fill="#ffffff" stroke="#4a4a4a" stroke-width="0.6"/>
<circle cx="116.00" cy="520.15" r="3.65" fill="#ffffff" stroke="#4a4a4a" stroke-width="0.6"/>
<circle cx="135.10" cy="520.15" r="3.65" fill="#ffffff" stroke="#4a4a4a" stroke-width="0.6"/>
<circle cx="68.25" cy="536.70" r="3.65" fill="#ffffff" stroke="#4a4a4a" stroke-width="0.6"/>
<circle cx="87.35" cy="536.70" r="3.65" fill="#ffffff" stroke="#4a4a4a" stroke-width="0.6"/>
<circle cx="106.45" cy="536.70" r="3.65" fill="#ffffff" stroke="#4a4a4a" stroke-width="0.6"/>
<circle cx="125.55" cy="536.70" r="3.65" fill="#ffffff" stroke="#4a4a4a" stroke-width="0.6"/>
<circle cx="144.65" cy="536.70" r="3.65" fill="#ffffff" stroke="#4a4a4a" stroke-width="0.6"/>
</g>
<rect x="63.60" y="461.00" width="85.3" height="85.0" fill="none" stroke="#3a1515" stroke-width="1.25"/>
<line x1="60.80" y1="465.90" x2="63.60" y2="465.90" stroke="#222" stroke-width="1"/>
<line x1="60.80" y1="504.00" x2="63.60" y2="504.00" stroke="#222" stroke-width="1"/>
<line x1="60.80" y1="542.10" x2="63.60" y2="542.10" stroke="#222" stroke-width="1"/>
<line x1="68.00" y1="546.00" x2="68.00" y2="548.60" stroke="#222" stroke-width="1"/>
<line x1="106.20" y1="546.00" x2="106.20" y2="548.60" stroke="#222" stroke-width="1"/>
<line x1="144.50" y1="546.00" x2="144.50" y2="548.60" stroke="#222" stroke-width="1"/>
<clipPath id="c9"><rect x="287.50" y="365.60" width="85.3" height="85.0"/></clipPath>
<rect x="287.50" y="365.60" width="85.3" height="85.0" fill="#d9b0da"/>
<g clip-path="url(#c9)">
<line x1="285.50" y1="358.55" x2="374.80" y2="358.55" stroke="#a94bb1" stroke-width="1.2"/>
<line x1="285.50" y1="375.10" x2="374.80" y2="375.10" stroke="#a94bb1" stroke-width="1.2"/>
<line x1="285.50" y1="391.65" x2="374.80" y2="391.65" stroke="#a94bb1" stroke-width="1.2"/>
<line x1="285.50" y1="408.20" x2="374.80" y2="408.20" stroke="#a94bb1" stroke-width="1.2"/>
<line x1="285.50" y1="424.75" x2="374.80" y2="424.75" stroke="#a94bb1" stroke-width="1.2"/>
<line x1="285.50" y1="441.30" x2="374.80" y2="441.30" stroke="#a94bb1" stroke-width="1.2"/>
<line x1="285.50" y1="457.85" x2="374.80" y2="457.85" stroke="#a94bb1" stroke-width="1.2"/>
<line x1="184.19" y1="363.60" x2="132.83" y2="452.60" stroke="#a53aad" stroke-width="1.0"/>
<line x1="203.29" y1="363.60" x2="151.93" y2="452.60" stroke="#a53aad" stroke-width="1.0"/>
<line x1="222.39" y1="363.60" x2="171.03" y2="452.60" stroke="#a53aad" stroke-width="1.0"/>
<line x1="241.49" y1="363.60" x2="190.13" y2="452.60" stroke="#a53aad" stroke-width="1.0"/>
<line x1="260.59" y1="363.60" x2="209.23" y2="452.60" stroke="#a53aad" stroke-width="1.0"/>
<line x1="279.69" y1="363.60" x2="228.33" y2="452.60" stroke="#a53aad" stroke-width="1.0"/>
<line x1="298.79" y1="363.60" x2="247.43" y2="452.60" stroke="#a53aad" stroke-width="1.0"/>
<line x1="317.89" y1="363.60" x2="266.53" y2="452.60" stroke="#a53aad" stroke-width="1.0"/>
<line x1="336.99" y1="363.60" x2="285.63" y2="452.60" stroke="#a53aad" stroke-width="1.0"/>
<line x1="356.09" y1="363.60" x2="304.73" y2="452.60" stroke="#a53aad" stroke-width="1.0"/>
<line x1="375.19" y1="363.60" x2="323.83" y2="452.60" stroke="#a53aad" stroke-width="1.0"/>
<line x1="394.29" y1="363.60" x2="342.93" y2="452.60" stroke="#a53aad" stroke-width="1.0"/>
<line x1="413.39" y1="363.60" x2="362.03" y2="452.60" stroke="#a53aad" stroke-width="1.0"/>
<line x1="432.49" y1="363.60" x2="381.13" y2="452.60" stroke="#a53aad" stroke-width="1.0"/>
<circle cx="301.70" cy="380.62" r="3.5" fill="#c000c4" stroke="#7a007a" stroke-width="0.7"/>
<circle cx="320.80" cy="380.62" r="3.5" fill="#c000c4" stroke="#7a007a" stroke-width="0.7"/>
<circle cx="339.90" cy="380.62" r="3.5" fill="#c000c4" stroke="#7a007a" stroke-width="0.7"/>
<circle cx="359.00" cy="380.62" r="3.5" fill="#c000c4" stroke="#7a007a" stroke-width="0.7"/>
<circle cx="292.15" cy="397.17" r="3.5" fill="#c000c4" stroke="#7a007a" stroke-width="0.7"/>
<circle cx="311.25" cy="397.17" r="3.5" fill="#c000c4" stroke="#7a007a" stroke-width="0.7"/>
<circle cx="330.35" cy="397.17" r="3.5" fill="#c000c4" stroke="#7a007a" stroke-width="0.7"/>
<circle cx="349.45" cy="397.17" r="3.5" fill="#c000c4" stroke="#7a007a" stroke-width="0.7"/>
<circle cx="368.55" cy="397.17" r="3.5" fill="#c000c4" stroke="#7a007a" stroke-width="0.7"/>
<circle cx="301.70" cy="413.72" r="3.5" fill="#c000c4" stroke="#7a007a" stroke-width="0.7"/>
<circle cx="320.80" cy="413.72" r="3.5" fill="#c000c4" stroke="#7a007a" stroke-width="0.7"/>
<circle cx="339.90" cy="413.72" r="3.5" fill="#c000c4" stroke="#7a007a" stroke-width="0.7"/>
<circle cx="359.00" cy="413.72" r="3.5" fill="#c000c4" stroke="#7a007a" stroke-width="0.7"/>
<circle cx="292.15" cy="430.27" r="3.5" fill="#c000c4" stroke="#7a007a" stroke-width="0.7"/>
<circle cx="311.25" cy="430.27" r="3.5" fill="#c000c4" stroke="#7a007a" stroke-width="0.7"/>
<circle cx="330.35" cy="430.27" r="3.5" fill="#c000c4" stroke="#7a007a" stroke-width="0.7"/>
<circle cx="349.45" cy="430.27" r="3.5" fill="#c000c4" stroke="#7a007a" stroke-width="0.7"/>
<circle cx="368.55" cy="430.27" r="3.5" fill="#c000c4" stroke="#7a007a" stroke-width="0.7"/>
<circle cx="301.70" cy="446.82" r="3.5" fill="#c000c4" stroke="#7a007a" stroke-width="0.7"/>
<circle cx="320.80" cy="446.82" r="3.5" fill="#c000c4" stroke="#7a007a" stroke-width="0.7"/>
<circle cx="339.90" cy="446.82" r="3.5" fill="#c000c4" stroke="#7a007a" stroke-width="0.7"/>
<circle cx="359.00" cy="446.82" r="3.5" fill="#c000c4" stroke="#7a007a" stroke-width="0.7"/>
<circle cx="292.15" cy="375.10" r="3.65" fill="#ffffff" stroke="#4a4a4a" stroke-width="0.6"/>
<circle cx="311.25" cy="375.10" r="3.65" fill="#ffffff" stroke="#4a4a4a" stroke-width="0.6"/>
<circle cx="330.35" cy="375.10" r="3.65" fill="#ffffff" stroke="#4a4a4a" stroke-width="0.6"/>
<circle cx="349.45" cy="375.10" r="3.65" fill="#ffffff" stroke="#4a4a4a" stroke-width="0.6"/>
<circle cx="368.55" cy="375.10" r="3.65" fill="#ffffff" stroke="#4a4a4a" stroke-width="0.6"/>
<circle cx="301.70" cy="391.65" r="3.65" fill="#ffffff" stroke="#4a4a4a" stroke-width="0.6"/>
<circle cx="320.80" cy="391.65" r="3.65" fill="#ffffff" stroke="#4a4a4a" stroke-width="0.6"/>
<circle cx="339.90" cy="391.65" r="3.65" fill="#ffffff" stroke="#4a4a4a" stroke-width="0.6"/>
<circle cx="359.00" cy="391.65" r="3.65" fill="#ffffff" stroke="#4a4a4a" stroke-width="0.6"/>
<circle cx="292.15" cy="408.20" r="3.65" fill="#ffffff" stroke="#4a4a4a" stroke-width="0.6"/>
<circle cx="311.25" cy="408.20" r="3.65" fill="#ffffff" stroke="#4a4a4a" stroke-width="0.6"/>
<circle cx="330.35" cy="408.20" r="3.65" fill="#ffffff" stroke="#4a4a4a" stroke-width="0.6"/>
<circle cx="349.45" cy="408.20" r="3.65" fill="#ffffff" stroke="#4a4a4a" stroke-width="0.6"/>
<circle cx="368.55" cy="408.20" r="3.65" fill="#ffffff" stroke="#4a4a4a" stroke-width="0.6"/>
<circle cx="301.70" cy="424.75" r="3.65" fill="#ffffff" stroke="#4a4a4a" stroke-width="0.6"/>
<circle cx="320.80" cy="424.75" r="3.65" fill="#ffffff" stroke="#4a4a4a" stroke-width="0.6"/>
<circle cx="339.90" cy="424.75" r="3.65" fill="#ffffff" stroke="#4a4a4a" stroke-width="0.6"/>
<circle cx="359.00" cy="424.75" r="3.65" fill="#ffffff" stroke="#4a4a4a" stroke-width="0.6"/>
<circle cx="292.15" cy="441.30" r="3.65" fill="#ffffff" stroke="#4a4a4a" stroke-width="0.6"/>
<circle cx="311.25" cy="441.30" r="3.65" fill="#ffffff" stroke="#4a4a4a" stroke-width="0.6"/>
<circle cx="330.35" cy="441.30" r="3.65" fill="#ffffff" stroke="#4a4a4a" stroke-width="0.6"/>
<circle cx="349.45" cy="441.30" r="3.65" fill="#ffffff" stroke="#4a4a4a" stroke-width="0.6"/>
<circle cx="368.55" cy="441.30" r="3.65" fill="#ffffff" stroke="#4a4a4a" stroke-width="0.6"/>
</g>
<rect x="287.50" y="365.60" width="85.3" height="85.0" fill="none" stroke="#33103a" stroke-width="1.25"/>
<line x1="284.70" y1="370.50" x2="287.50" y2="370.50" stroke="#222" stroke-width="1"/>
<line x1="284.70" y1="408.60" x2="287.50" y2="408.60" stroke="#222" stroke-width="1"/>
<line x1="284.70" y1="446.70" x2="287.50" y2="446.70" stroke="#222" stroke-width="1"/>
<line x1="291.90" y1="450.60" x2="291.90" y2="453.20" stroke="#222" stroke-width="1"/>
<line x1="330.10" y1="450.60" x2="330.10" y2="453.20" stroke="#222" stroke-width="1"/>
<line x1="368.40" y1="450.60" x2="368.40" y2="453.20" stroke="#222" stroke-width="1"/>
<clipPath id="c10"><rect x="287.50" y="460.60" width="85.3" height="85.0"/></clipPath>
<rect x="287.50" y="460.60" width="85.3" height="85.0" fill="#fcadaf"/>
<g clip-path="url(#c10)">
<line x1="285.50" y1="453.55" x2="374.80" y2="453.55" stroke="#ff3c42" stroke-width="1.3"/>
<line x1="285.50" y1="470.10" x2="374.80" y2="470.10" stroke="#ff3c42" stroke-width="1.3"/>
<line x1="285.50" y1="486.65" x2="374.80" y2="486.65" stroke="#ff3c42" stroke-width="1.3"/>
<line x1="285.50" y1="503.20" x2="374.80" y2="503.20" stroke="#ff3c42" stroke-width="1.3"/>
<line x1="285.50" y1="519.75" x2="374.80" y2="519.75" stroke="#ff3c42" stroke-width="1.3"/>
<line x1="285.50" y1="536.30" x2="374.80" y2="536.30" stroke="#ff3c42" stroke-width="1.3"/>
<line x1="285.50" y1="552.85" x2="374.80" y2="552.85" stroke="#ff3c42" stroke-width="1.3"/>
<line x1="184.19" y1="458.60" x2="132.83" y2="547.60" stroke="#ff3c42" stroke-width="1.0"/>
<line x1="203.29" y1="458.60" x2="151.93" y2="547.60" stroke="#ff3c42" stroke-width="1.0"/>
<line x1="222.39" y1="458.60" x2="171.03" y2="547.60" stroke="#ff3c42" stroke-width="1.0"/>
<line x1="241.49" y1="458.60" x2="190.13" y2="547.60" stroke="#ff3c42" stroke-width="1.0"/>
<line x1="260.59" y1="458.60" x2="209.23" y2="547.60" stroke="#ff3c42" stroke-width="1.0"/>
<line x1="279.69" y1="458.60" x2="228.33" y2="547.60" stroke="#ff3c42" stroke-width="1.0"/>
<line x1="298.79" y1="458.60" x2="247.43" y2="547.60" stroke="#ff3c42" stroke-width="1.0"/>
<line x1="317.89" y1="458.60" x2="266.53" y2="547.60" stroke="#ff3c42" stroke-width="1.0"/>
<line x1="336.99" y1="458.60" x2="285.63" y2="547.60" stroke="#ff3c42" stroke-width="1.0"/>
<line x1="356.09" y1="458.60" x2="304.73" y2="547.60" stroke="#ff3c42" stroke-width="1.0"/>
<line x1="375.19" y1="458.60" x2="323.83" y2="547.60" stroke="#ff3c42" stroke-width="1.0"/>
<line x1="394.29" y1="458.60" x2="342.93" y2="547.60" stroke="#ff3c42" stroke-width="1.0"/>
<line x1="413.39" y1="458.60" x2="362.03" y2="547.60" stroke="#ff3c42" stroke-width="1.0"/>
<line x1="432.49" y1="458.60" x2="381.13" y2="547.60" stroke="#ff3c42" stroke-width="1.0"/>
<circle cx="292.15" cy="470.10" r="3.6" fill="#fa0000" stroke="#7a0000" stroke-width="0.5"/>
<circle cx="311.25" cy="470.10" r="3.65" fill="#ffffff" stroke="#4a4a4a" stroke-width="0.6"/>
<circle cx="330.35" cy="470.10" r="3.65" fill="#ffffff" stroke="#4a4a4a" stroke-width="0.6"/>
<circle cx="349.45" cy="470.10" r="3.6" fill="#fa0000" stroke="#7a0000" stroke-width="0.5"/>
<circle cx="368.55" cy="470.10" r="3.65" fill="#ffffff" stroke="#4a4a4a" stroke-width="0.6"/>
<circle cx="301.70" cy="486.65" r="3.65" fill="#ffffff" stroke="#4a4a4a" stroke-width="0.6"/>
<circle cx="320.80" cy="486.65" r="3.6" fill="#fa0000" stroke="#7a0000" stroke-width="0.5"/>
<circle cx="339.90" cy="486.65" r="3.65" fill="#ffffff" stroke="#4a4a4a" stroke-width="0.6"/>
<circle cx="359.00" cy="486.65" r="3.65" fill="#ffffff" stroke="#4a4a4a" stroke-width="0.6"/>
<circle cx="292.15" cy="503.20" r="3.6" fill="#fa0000" stroke="#7a0000" stroke-width="0.5"/>
<circle cx="311.25" cy="503.20" r="3.65" fill="#ffffff" stroke="#4a4a4a" stroke-width="0.6"/>
<circle cx="330.35" cy="503.20" r="3.65" fill="#ffffff" stroke="#4a4a4a" stroke-width="0.6"/>
<circle cx="349.45" cy="503.20" r="3.6" fill="#fa0000" stroke="#7a0000" stroke-width="0.5"/>
<circle cx="368.55" cy="503.20" r="3.65" fill="#ffffff" stroke="#4a4a4a" stroke-width="0.6"/>
<circle cx="301.70" cy="519.75" r="3.65" fill="#ffffff" stroke="#4a4a4a" stroke-width="0.6"/>
<circle cx="320.80" cy="519.75" r="3.6" fill="#fa0000" stroke="#7a0000" stroke-width="0.5"/>
<circle cx="339.90" cy="519.75" r="3.65" fill="#ffffff" stroke="#4a4a4a" stroke-width="0.6"/>
<circle cx="359.00" cy="519.75" r="3.65" fill="#ffffff" stroke="#4a4a4a" stroke-width="0.6"/>
<circle cx="292.15" cy="536.30" r="3.6" fill="#fa0000" stroke="#7a0000" stroke-width="0.5"/>
<circle cx="311.25" cy="536.30" r="3.65" fill="#ffffff" stroke="#4a4a4a" stroke-width="0.6"/>
<circle cx="330.35" cy="536.30" r="3.65" fill="#ffffff" stroke="#4a4a4a" stroke-width="0.6"/>
<circle cx="349.45" cy="536.30" r="3.6" fill="#fa0000" stroke="#7a0000" stroke-width="0.5"/>
<circle cx="368.55" cy="536.30" r="3.65" fill="#ffffff" stroke="#4a4a4a" stroke-width="0.6"/>
</g>
<rect x="287.50" y="460.60" width="85.3" height="85.0" fill="none" stroke="#3a1515" stroke-width="1.25"/>
<line x1="284.70" y1="465.50" x2="287.50" y2="465.50" stroke="#222" stroke-width="1"/>
<line x1="284.70" y1="503.60" x2="287.50" y2="503.60" stroke="#222" stroke-width="1"/>
<line x1="284.70" y1="541.70" x2="287.50" y2="541.70" stroke="#222" stroke-width="1"/>
<line x1="291.90" y1="545.60" x2="291.90" y2="548.20" stroke="#222" stroke-width="1"/>
<line x1="330.10" y1="545.60" x2="330.10" y2="548.20" stroke="#222" stroke-width="1"/>
<line x1="368.40" y1="545.60" x2="368.40" y2="548.20" stroke="#222" stroke-width="1"/>
<clipPath id="c11"><rect x="512.50" y="364.90" width="85.3" height="85.0"/></clipPath>
<rect x="512.50" y="364.90" width="85.3" height="85.0" fill="#d9b0da"/>
<g clip-path="url(#c11)">
<line x1="510.50" y1="357.85" x2="599.80" y2="357.85" stroke="#a94bb1" stroke-width="1.2"/>
<line x1="510.50" y1="374.40" x2="599.80" y2="374.40" stroke="#a94bb1" stroke-width="1.2"/>
<line x1="510.50" y1="390.95" x2="599.80" y2="390.95" stroke="#a94bb1" stroke-width="1.2"/>
<line x1="510.50" y1="407.50" x2="599.80" y2="407.50" stroke="#a94bb1" stroke-width="1.2"/>
<line x1="510.50" y1="424.05" x2="599.80" y2="424.05" stroke="#a94bb1" stroke-width="1.2"/>
<line x1="510.50" y1="440.60" x2="599.80" y2="440.60" stroke="#a94bb1" stroke-width="1.2"/>
<line x1="510.50" y1="457.15" x2="599.80" y2="457.15" stroke="#a94bb1" stroke-width="1.2"/>
<line x1="409.19" y1="362.90" x2="357.83" y2="451.90" stroke="#a53aad" stroke-width="1.0"/>
<line x1="428.29" y1="362.90" x2="376.93" y2="451.90" stroke="#a53aad" stroke-width="1.0"/>
<line x1="447.39" y1="362.90" x2="396.03" y2="451.90" stroke="#a53aad" stroke-width="1.0"/>
<line x1="466.49" y1="362.90" x2="415.13" y2="451.90" stroke="#a53aad" stroke-width="1.0"/>
<line x1="485.59" y1="362.90" x2="434.23" y2="451.90" stroke="#a53aad" stroke-width="1.0"/>
<line x1="504.69" y1="362.90" x2="453.33" y2="451.90" stroke="#a53aad" stroke-width="1.0"/>
<line x1="523.79" y1="362.90" x2="472.43" y2="451.90" stroke="#a53aad" stroke-width="1.0"/>
<line x1="542.89" y1="362.90" x2="491.53" y2="451.90" stroke="#a53aad" stroke-width="1.0"/>
<line x1="561.99" y1="362.90" x2="510.63" y2="451.90" stroke="#a53aad" stroke-width="1.0"/>
<line x1="581.09" y1="362.90" x2="529.73" y2="451.90" stroke="#a53aad" stroke-width="1.0"/>
<line x1="600.19" y1="362.90" x2="548.83" y2="451.90" stroke="#a53aad" stroke-width="1.0"/>
<line x1="619.29" y1="362.90" x2="567.93" y2="451.90" stroke="#a53aad" stroke-width="1.0"/>
<line x1="638.39" y1="362.90" x2="587.03" y2="451.90" stroke="#a53aad" stroke-width="1.0"/>
<line x1="657.49" y1="362.90" x2="606.13" y2="451.90" stroke="#a53aad" stroke-width="1.0"/>
<circle cx="526.70" cy="379.92" r="3.5" fill="#c000c4" stroke="#7a007a" stroke-width="0.7"/>
<circle cx="545.80" cy="379.92" r="3.5" fill="#c000c4" stroke="#7a007a" stroke-width="0.7"/>
<circle cx="564.90" cy="379.92" r="3.5" fill="#c000c4" stroke="#7a007a" stroke-width="0.7"/>
<circle cx="584.00" cy="379.92" r="3.5" fill="#c000c4" stroke="#7a007a" stroke-width="0.7"/>
<circle cx="517.15" cy="396.47" r="3.5" fill="#c000c4" stroke="#7a007a" stroke-width="0.7"/>
<circle cx="536.25" cy="396.47" r="3.5" fill="#c000c4" stroke="#7a007a" stroke-width="0.7"/>
<circle cx="555.35" cy="396.47" r="3.5" fill="#c000c4" stroke="#7a007a" stroke-width="0.7"/>
<circle cx="574.45" cy="396.47" r="3.5" fill="#c000c4" stroke="#7a007a" stroke-width="0.7"/>
<circle cx="593.55" cy="396.47" r="3.5" fill="#c000c4" stroke="#7a007a" stroke-width="0.7"/>
<circle cx="526.70" cy="413.02" r="3.5" fill="#c000c4" stroke="#7a007a" stroke-width="0.7"/>
<circle cx="545.80" cy="413.02" r="3.5" fill="#c000c4" stroke="#7a007a" stroke-width="0.7"/>
<circle cx="564.90" cy="413.02" r="3.5" fill="#c000c4" stroke="#7a007a" stroke-width="0.7"/>
<circle cx="584.00" cy="413.02" r="3.5" fill="#c000c4" stroke="#7a007a" stroke-width="0.7"/>
<circle cx="517.15" cy="429.57" r="3.5" fill="#c000c4" stroke="#7a007a" stroke-width="0.7"/>
<circle cx="536.25" cy="429.57" r="3.5" fill="#c000c4" stroke="#7a007a" stroke-width="0.7"/>
<circle cx="555.35" cy="429.57" r="3.5" fill="#c000c4" stroke="#7a007a" stroke-width="0.7"/>
<circle cx="574.45" cy="429.57" r="3.5" fill="#c000c4" stroke="#7a007a" stroke-width="0.7"/>
<circle cx="593.55" cy="429.57" r="3.5" fill="#c000c4" stroke="#7a007a" stroke-width="0.7"/>
<circle cx="526.70" cy="446.12" r="3.5" fill="#c000c4" stroke="#7a007a" stroke-width="0.7"/>
<circle cx="545.80" cy="446.12" r="3.5" fill="#c000c4" stroke="#7a007a" stroke-width="0.7"/>
<circle cx="564.90" cy="446.12" r="3.5" fill="#c000c4" stroke="#7a007a" stroke-width="0.7"/>
<circle cx="584.00" cy="446.12" r="3.5" fill="#c000c4" stroke="#7a007a" stroke-width="0.7"/>
<circle cx="517.15" cy="374.40" r="3.65" fill="#ffffff" stroke="#4a4a4a" stroke-width="0.6"/>
<circle cx="536.25" cy="374.40" r="3.65" fill="#ffffff" stroke="#4a4a4a" stroke-width="0.6"/>
<circle cx="555.35" cy="374.40" r="3.65" fill="#ffffff" stroke="#4a4a4a" stroke-width="0.6"/>
<circle cx="574.45" cy="374.40" r="3.65" fill="#ffffff" stroke="#4a4a4a" stroke-width="0.6"/>
<circle cx="593.55" cy="374.40" r="3.65" fill="#ffffff" stroke="#4a4a4a" stroke-width="0.6"/>
<circle cx="526.70" cy="390.95" r="3.65" fill="#ffffff" stroke="#4a4a4a" stroke-width="0.6"/>
<circle cx="545.80" cy="390.95" r="3.65" fill="#ffffff" stroke="#4a4a4a" stroke-width="0.6"/>
<circle cx="564.90" cy="390.95" r="3.65" fill="#ffffff" stroke="#4a4a4a" stroke-width="0.6"/>
<circle cx="584.00" cy="390.95" r="3.65" fill="#ffffff" stroke="#4a4a4a" stroke-width="0.6"/>
<circle cx="517.15" cy="407.50" r="3.65" fill="#ffffff" stroke="#4a4a4a" stroke-width="0.6"/>
<circle cx="536.25" cy="407.50" r="3.65" fill="#ffffff" stroke="#4a4a4a" stroke-width="0.6"/>
<circle cx="555.35" cy="407.50" r="3.65" fill="#ffffff" stroke="#4a4a4a" stroke-width="0.6"/>
<circle cx="574.45" cy="407.50" r="3.65" fill="#ffffff" stroke="#4a4a4a" stroke-width="0.6"/>
<circle cx="593.55" cy="407.50" r="3.65" fill="#ffffff" stroke="#4a4a4a" stroke-width="0.6"/>
<circle cx="526.70" cy="424.05" r="3.65" fill="#ffffff" stroke="#4a4a4a" stroke-width="0.6"/>
<circle cx="545.80" cy="424.05" r="3.65" fill="#ffffff" stroke="#4a4a4a" stroke-width="0.6"/>
<circle cx="564.90" cy="424.05" r="3.65" fill="#ffffff" stroke="#4a4a4a" stroke-width="0.6"/>
<circle cx="584.00" cy="424.05" r="3.65" fill="#ffffff" stroke="#4a4a4a" stroke-width="0.6"/>
<circle cx="517.15" cy="440.60" r="3.65" fill="#ffffff" stroke="#4a4a4a" stroke-width="0.6"/>
<circle cx="536.25" cy="440.60" r="3.65" fill="#ffffff" stroke="#4a4a4a" stroke-width="0.6"/>
<circle cx="555.35" cy="440.60" r="3.65" fill="#ffffff" stroke="#4a4a4a" stroke-width="0.6"/>
<circle cx="574.45" cy="440.60" r="3.65" fill="#ffffff" stroke="#4a4a4a" stroke-width="0.6"/>
<circle cx="593.55" cy="440.60" r="3.65" fill="#ffffff" stroke="#4a4a4a" stroke-width="0.6"/>
</g>
<rect x="512.50" y="364.90" width="85.3" height="85.0" fill="none" stroke="#33103a" stroke-width="1.25"/>
<line x1="509.70" y1="369.80" x2="512.50" y2="369.80" stroke="#222" stroke-width="1"/>
<line x1="509.70" y1="407.90" x2="512.50" y2="407.90" stroke="#222" stroke-width="1"/>
<line x1="509.70" y1="446.00" x2="512.50" y2="446.00" stroke="#222" stroke-width="1"/>
<line x1="516.90" y1="449.90" x2="516.90" y2="452.50" stroke="#222" stroke-width="1"/>
<line x1="555.10" y1="449.90" x2="555.10" y2="452.50" stroke="#222" stroke-width="1"/>
<line x1="593.40" y1="449.90" x2="593.40" y2="452.50" stroke="#222" stroke-width="1"/>
<clipPath id="c12"><rect x="512.50" y="461.20" width="85.3" height="85.0"/></clipPath>
<rect x="512.50" y="461.20" width="85.3" height="85.0" fill="#fcadaf"/>
<g clip-path="url(#c12)">
<line x1="510.50" y1="454.15" x2="599.80" y2="454.15" stroke="#ff3c42" stroke-width="1.3"/>
<line x1="510.50" y1="470.70" x2="599.80" y2="470.70" stroke="#ff3c42" stroke-width="1.3"/>
<line x1="510.50" y1="487.25" x2="599.80" y2="487.25" stroke="#ff3c42" stroke-width="1.3"/>
<line x1="510.50" y1="503.80" x2="599.80" y2="503.80" stroke="#ff3c42" stroke-width="1.3"/>
<line x1="510.50" y1="520.35" x2="599.80" y2="520.35" stroke="#ff3c42" stroke-width="1.3"/>
<line x1="510.50" y1="536.90" x2="599.80" y2="536.90" stroke="#ff3c42" stroke-width="1.3"/>
<line x1="510.50" y1="553.45" x2="599.80" y2="553.45" stroke="#ff3c42" stroke-width="1.3"/>
<line x1="409.19" y1="459.20" x2="357.83" y2="548.20" stroke="#ff3c42" stroke-width="1.0"/>
<line x1="428.29" y1="459.20" x2="376.93" y2="548.20" stroke="#ff3c42" stroke-width="1.0"/>
<line x1="447.39" y1="459.20" x2="396.03" y2="548.20" stroke="#ff3c42" stroke-width="1.0"/>
<line x1="466.49" y1="459.20" x2="415.13" y2="548.20" stroke="#ff3c42" stroke-width="1.0"/>
<line x1="485.59" y1="459.20" x2="434.23" y2="548.20" stroke="#ff3c42" stroke-width="1.0"/>
<line x1="504.69" y1="459.20" x2="453.33" y2="548.20" stroke="#ff3c42" stroke-width="1.0"/>
<line x1="523.79" y1="459.20" x2="472.43" y2="548.20" stroke="#ff3c42" stroke-width="1.0"/>
<line x1="542.89" y1="459.20" x2="491.53" y2="548.20" stroke="#ff3c42" stroke-width="1.0"/>
<line x1="561.99" y1="459.20" x2="510.63" y2="548.20" stroke="#ff3c42" stroke-width="1.0"/>
<line x1="581.09" y1="459.20" x2="529.73" y2="548.20" stroke="#ff3c42" stroke-width="1.0"/>
<line x1="600.19" y1="459.20" x2="548.83" y2="548.20" stroke="#ff3c42" stroke-width="1.0"/>
<line x1="619.29" y1="459.20" x2="567.93" y2="548.20" stroke="#ff3c42" stroke-width="1.0"/>
<line x1="638.39" y1="459.20" x2="587.03" y2="548.20" stroke="#ff3c42" stroke-width="1.0"/>
<line x1="657.49" y1="459.20" x2="606.13" y2="548.20" stroke="#ff3c42" stroke-width="1.0"/>
<circle cx="517.15" cy="470.70" r="3.6" fill="#fa0000" stroke="#7a0000" stroke-width="0.5"/>
<circle cx="536.25" cy="470.70" r="3.6" fill="#fa0000" stroke="#7a0000" stroke-width="0.5"/>
<circle cx="555.35" cy="470.70" r="3.6" fill="#fa0000" stroke="#7a0000" stroke-width="0.5"/>
<circle cx="574.45" cy="470.70" r="3.6" fill="#fa0000" stroke="#7a0000" stroke-width="0.5"/>
<circle cx="593.55" cy="470.70" r="3.6" fill="#fa0000" stroke="#7a0000" stroke-width="0.5"/>
<circle cx="526.70" cy="487.25" r="3.6" fill="#fa0000" stroke="#7a0000" stroke-width="0.5"/>
<circle cx="545.80" cy="487.25" r="3.6" fill="#fa0000" stroke="#7a0000" stroke-width="0.5"/>
<circle cx="564.90" cy="487.25" r="3.6" fill="#fa0000" stroke="#7a0000" stroke-width="0.5"/>
<circle cx="584.00" cy="487.25" r="3.6" fill="#fa0000" stroke="#7a0000" stroke-width="0.5"/>
<circle cx="517.15" cy="503.80" r="3.6" fill="#fa0000" stroke="#7a0000" stroke-width="0.5"/>
<circle cx="536.25" cy="503.80" r="3.6" fill="#fa0000" stroke="#7a0000" stroke-width="0.5"/>
<circle cx="555.35" cy="503.80" r="3.6" fill="#fa0000" stroke="#7a0000" stroke-width="0.5"/>
<circle cx="574.45" cy="503.80" r="3.6" fill="#fa0000" stroke="#7a0000" stroke-width="0.5"/>
<circle cx="593.55" cy="503.80" r="3.6" fill="#fa0000" stroke="#7a0000" stroke-width="0.5"/>
<circle cx="526.70" cy="520.35" r="3.6" fill="#fa0000" stroke="#7a0000" stroke-width="0.5"/>
<circle cx="545.80" cy="520.35" r="3.6" fill="#fa0000" stroke="#7a0000" stroke-width="0.5"/>
<circle cx="564.90" cy="520.35" r="3.6" fill="#fa0000" stroke="#7a0000" stroke-width="0.5"/>
<circle cx="584.00" cy="520.35" r="3.6" fill="#fa0000" stroke="#7a0000" stroke-width="0.5"/>
<circle cx="517.15" cy="536.90" r="3.6" fill="#fa0000" stroke="#7a0000" stroke-width="0.5"/>
<circle cx="536.25" cy="536.90" r="3.6" fill="#fa0000" stroke="#7a0000" stroke-width="0.5"/>
<circle cx="555.35" cy="536.90" r="3.6" fill="#fa0000" stroke="#7a0000" stroke-width="0.5"/>
<circle cx="574.45" cy="536.90" r="3.6" fill="#fa0000" stroke="#7a0000" stroke-width="0.5"/>
<circle cx="593.55" cy="536.90" r="3.6" fill="#fa0000" stroke="#7a0000" stroke-width="0.5"/>
</g>
<rect x="512.50" y="461.20" width="85.3" height="85.0" fill="none" stroke="#3a1515" stroke-width="1.25"/>
<line x1="509.70" y1="466.10" x2="512.50" y2="466.10" stroke="#222" stroke-width="1"/>
<line x1="509.70" y1="504.20" x2="512.50" y2="504.20" stroke="#222" stroke-width="1"/>
<line x1="509.70" y1="542.30" x2="512.50" y2="542.30" stroke="#222" stroke-width="1"/>
<line x1="516.90" y1="546.20" x2="516.90" y2="548.80" stroke="#222" stroke-width="1"/>
<line x1="555.10" y1="546.20" x2="555.10" y2="548.80" stroke="#222" stroke-width="1"/>
<line x1="593.40" y1="546.20" x2="593.40" y2="548.80" stroke="#222" stroke-width="1"/>
<clipPath id="c13"><rect x="63.00" y="650.60" width="85.3" height="85.0"/></clipPath>
<rect x="63.00" y="650.60" width="85.3" height="85.0" fill="#d9b0da"/>
<g clip-path="url(#c13)">
<line x1="61.00" y1="643.55" x2="150.30" y2="643.55" stroke="#a94bb1" stroke-width="1.2"/>
<line x1="61.00" y1="660.10" x2="150.30" y2="660.10" stroke="#a94bb1" stroke-width="1.2"/>
<line x1="61.00" y1="676.65" x2="150.30" y2="676.65" stroke="#a94bb1" stroke-width="1.2"/>
<line x1="61.00" y1="693.20" x2="150.30" y2="693.20" stroke="#a94bb1" stroke-width="1.2"/>
<line x1="61.00" y1="709.75" x2="150.30" y2="709.75" stroke="#a94bb1" stroke-width="1.2"/>
<line x1="61.00" y1="726.30" x2="150.30" y2="726.30" stroke="#a94bb1" stroke-width="1.2"/>
<line x1="61.00" y1="742.85" x2="150.30" y2="742.85" stroke="#a94bb1" stroke-width="1.2"/>
<line x1="-40.31" y1="648.60" x2="-91.67" y2="737.60" stroke="#a53aad" stroke-width="1.0"/>
<line x1="-21.21" y1="648.60" x2="-72.57" y2="737.60" stroke="#a53aad" stroke-width="1.0"/>
<line x1="-2.11" y1="648.60" x2="-53.47" y2="737.60" stroke="#a53aad" stroke-width="1.0"/>
<line x1="16.99" y1="648.60" x2="-34.37" y2="737.60" stroke="#a53aad" stroke-width="1.0"/>
<line x1="36.09" y1="648.60" x2="-15.27" y2="737.60" stroke="#a53aad" stroke-width="1.0"/>
<line x1="55.19" y1="648.60" x2="3.83" y2="737.60" stroke="#a53aad" stroke-width="1.0"/>
<line x1="74.29" y1="648.60" x2="22.93" y2="737.60" stroke="#a53aad" stroke-width="1.0"/>
<line x1="93.39" y1="648.60" x2="42.03" y2="737.60" stroke="#a53aad" stroke-width="1.0"/>
<line x1="112.49" y1="648.60" x2="61.13" y2="737.60" stroke="#a53aad" stroke-width="1.0"/>
<line x1="131.59" y1="648.60" x2="80.23" y2="737.60" stroke="#a53aad" stroke-width="1.0"/>
<line x1="150.69" y1="648.60" x2="99.33" y2="737.60" stroke="#a53aad" stroke-width="1.0"/>
<line x1="169.79" y1="648.60" x2="118.43" y2="737.60" stroke="#a53aad" stroke-width="1.0"/>
<line x1="188.89" y1="648.60" x2="137.53" y2="737.60" stroke="#a53aad" stroke-width="1.0"/>
<line x1="207.99" y1="648.60" x2="156.63" y2="737.60" stroke="#a53aad" stroke-width="1.0"/>
<circle cx="77.20" cy="665.62" r="3.5" fill="#c000c4" stroke="#7a007a" stroke-width="0.7"/>
<circle cx="96.30" cy="665.62" r="3.5" fill="#c000c4" stroke="#7a007a" stroke-width="0.7"/>
<circle cx="115.40" cy="665.62" r="3.5" fill="#c000c4" stroke="#7a007a" stroke-width="0.7"/>
<circle cx="134.50" cy="665.62" r="3.5" fill="#c000c4" stroke="#7a007a" stroke-width="0.7"/>
<circle cx="67.65" cy="682.17" r="3.5" fill="#c000c4" stroke="#7a007a" stroke-width="0.7"/>
<circle cx="86.75" cy="682.17" r="3.5" fill="#c000c4" stroke="#7a007a" stroke-width="0.7"/>
<circle cx="105.85" cy="682.17" r="3.5" fill="#c000c4" stroke="#7a007a" stroke-width="0.7"/>
<circle cx="124.95" cy="682.17" r="3.5" fill="#c000c4" stroke="#7a007a" stroke-width="0.7"/>
<circle cx="144.05" cy="682.17" r="3.5" fill="#c000c4" stroke="#7a007a" stroke-width="0.7"/>
<circle cx="77.20" cy="698.72" r="3.5" fill="#c000c4" stroke="#7a007a" stroke-width="0.7"/>
<circle cx="96.30" cy="698.72" r="3.5" fill="#c000c4" stroke="#7a007a" stroke-width="0.7"/>
<circle cx="115.40" cy="698.72" r="3.5" fill="#c000c4" stroke="#7a007a" stroke-width="0.7"/>
<circle cx="134.50" cy="698.72" r="3.5" fill="#c000c4" stroke="#7a007a" stroke-width="0.7"/>
<circle cx="67.65" cy="715.27" r="3.5" fill="#c000c4" stroke="#7a007a" stroke-width="0.7"/>
<circle cx="86.75" cy="715.27" r="3.5" fill="#c000c4" stroke="#7a007a" stroke-width="0.7"/>
<circle cx="105.85" cy="715.27" r="3.5" fill="#c000c4" stroke="#7a007a" stroke-width="0.7"/>
<circle cx="124.95" cy="715.27" r="3.5" fill="#c000c4" stroke="#7a007a" stroke-width="0.7"/>
<circle cx="144.05" cy="715.27" r="3.5" fill="#c000c4" stroke="#7a007a" stroke-width="0.7"/>
<circle cx="77.20" cy="731.82" r="3.5" fill="#c000c4" stroke="#7a007a" stroke-width="0.7"/>
<circle cx="96.30" cy="731.82" r="3.5" fill="#c000c4" stroke="#7a007a" stroke-width="0.7"/>
<circle cx="115.40" cy="731.82" r="3.5" fill="#c000c4" stroke="#7a007a" stroke-width="0.7"/>
<circle cx="134.50" cy="731.82" r="3.5" fill="#c000c4" stroke="#7a007a" stroke-width="0.7"/>
<circle cx="67.65" cy="660.10" r="3.65" fill="#ffffff" stroke="#4a4a4a" stroke-width="0.6"/>
<circle cx="86.75" cy="660.10" r="3.65" fill="#ffffff" stroke="#4a4a4a" stroke-width="0.6"/>
<circle cx="105.85" cy="660.10" r="3.65" fill="#ffffff" stroke="#4a4a4a" stroke-width="0.6"/>
<circle cx="124.95" cy="660.10" r="3.65" fill="#ffffff" stroke="#4a4a4a" stroke-width="0.6"/>
<circle cx="144.05" cy="660.10" r="3.65" fill="#ffffff" stroke="#4a4a4a" stroke-width="0.6"/>
<circle cx="77.20" cy="676.65" r="3.65" fill="#ffffff" stroke="#4a4a4a" stroke-width="0.6"/>
<circle cx="96.30" cy="676.65" r="3.65" fill="#ffffff" stroke="#4a4a4a" stroke-width="0.6"/>
<circle cx="115.40" cy="676.65" r="3.65" fill="#ffffff" stroke="#4a4a4a" stroke-width="0.6"/>
<circle cx="134.50" cy="676.65" r="3.65" fill="#ffffff" stroke="#4a4a4a" stroke-width="0.6"/>
<circle cx="67.65" cy="693.20" r="3.65" fill="#ffffff" stroke="#4a4a4a" stroke-width="0.6"/>
<circle cx="86.75" cy="693.20" r="3.65" fill="#ffffff" stroke="#4a4a4a" stroke-width="0.6"/>
<circle cx="105.85" cy="693.20" r="3.65" fill="#ffffff" stroke="#4a4a4a" stroke-width="0.6"/>
<circle cx="124.95" cy="693.20" r="3.65" fill="#ffffff" stroke="#4a4a4a" stroke-width="0.6"/>
<circle cx="144.05" cy="693.20" r="3.65" fill="#ffffff" stroke="#4a4a4a" stroke-width="0.6"/>
<circle cx="77.20" cy="709.75" r="3.65" fill="#ffffff" stroke="#4a4a4a" stroke-width="0.6"/>
<circle cx="96.30" cy="709.75" r="3.65" fill="#ffffff" stroke="#4a4a4a" stroke-width="0.6"/>
<circle cx="115.40" cy="709.75" r="3.65" fill="#ffffff" stroke="#4a4a4a" stroke-width="0.6"/>
<circle cx="134.50" cy="709.75" r="3.65" fill="#ffffff" stroke="#4a4a4a" stroke-width="0.6"/>
<circle cx="67.65" cy="726.30" r="3.65" fill="#ffffff" stroke="#4a4a4a" stroke-width="0.6"/>
<circle cx="86.75" cy="726.30" r="3.65" fill="#ffffff" stroke="#4a4a4a" stroke-width="0.6"/>
<circle cx="105.85" cy="726.30" r="3.65" fill="#ffffff" stroke="#4a4a4a" stroke-width="0.6"/>
<circle cx="124.95" cy="726.30" r="3.65" fill="#ffffff" stroke="#4a4a4a" stroke-width="0.6"/>
<circle cx="144.05" cy="726.30" r="3.65" fill="#ffffff" stroke="#4a4a4a" stroke-width="0.6"/>
</g>
<rect x="63.00" y="650.60" width="85.3" height="85.0" fill="none" stroke="#33103a" stroke-width="1.25"/>
<line x1="60.20" y1="655.50" x2="63.00" y2="655.50" stroke="#222" stroke-width="1"/>
<line x1="60.20" y1="693.60" x2="63.00" y2="693.60" stroke="#222" stroke-width="1"/>
<line x1="60.20" y1="731.70" x2="63.00" y2="731.70" stroke="#222" stroke-width="1"/>
<line x1="67.40" y1="735.60" x2="67.40" y2="738.20" stroke="#222" stroke-width="1"/>
<line x1="105.60" y1="735.60" x2="105.60" y2="738.20" stroke="#222" stroke-width="1"/>
<line x1="143.90" y1="735.60" x2="143.90" y2="738.20" stroke="#222" stroke-width="1"/>
<clipPath id="c14"><rect x="63.00" y="747.20" width="85.3" height="85.0"/></clipPath>
<rect x="63.00" y="747.20" width="85.3" height="85.0" fill="#fcadaf"/>
<g clip-path="url(#c14)">
<line x1="61.00" y1="740.15" x2="150.30" y2="740.15" stroke="#ff3c42" stroke-width="1.3"/>
<line x1="61.00" y1="756.70" x2="150.30" y2="756.70" stroke="#ff3c42" stroke-width="1.3"/>
<line x1="61.00" y1="773.25" x2="150.30" y2="773.25" stroke="#ff3c42" stroke-width="1.3"/>
<line x1="61.00" y1="789.80" x2="150.30" y2="789.80" stroke="#ff3c42" stroke-width="1.3"/>
<line x1="61.00" y1="806.35" x2="150.30" y2="806.35" stroke="#ff3c42" stroke-width="1.3"/>
<line x1="61.00" y1="822.90" x2="150.30" y2="822.90" stroke="#ff3c42" stroke-width="1.3"/>
<line x1="61.00" y1="839.45" x2="150.30" y2="839.45" stroke="#ff3c42" stroke-width="1.3"/>
<line x1="-40.31" y1="745.20" x2="-91.67" y2="834.20" stroke="#ff3c42" stroke-width="1.0"/>
<line x1="-21.21" y1="745.20" x2="-72.57" y2="834.20" stroke="#ff3c42" stroke-width="1.0"/>
<line x1="-2.11" y1="745.20" x2="-53.47" y2="834.20" stroke="#ff3c42" stroke-width="1.0"/>
<line x1="16.99" y1="745.20" x2="-34.37" y2="834.20" stroke="#ff3c42" stroke-width="1.0"/>
<line x1="36.09" y1="745.20" x2="-15.27" y2="834.20" stroke="#ff3c42" stroke-width="1.0"/>
<line x1="55.19" y1="745.20" x2="3.83" y2="834.20" stroke="#ff3c42" stroke-width="1.0"/>
<line x1="74.29" y1="745.20" x2="22.93" y2="834.20" stroke="#ff3c42" stroke-width="1.0"/>
<line x1="93.39" y1="745.20" x2="42.03" y2="834.20" stroke="#ff3c42" stroke-width="1.0"/>
<line x1="112.49" y1="745.20" x2="61.13" y2="834.20" stroke="#ff3c42" stroke-width="1.0"/>
<line x1="131.59" y1="745.20" x2="80.23" y2="834.20" stroke="#ff3c42" stroke-width="1.0"/>
<line x1="150.69" y1="745.20" x2="99.33" y2="834.20" stroke="#ff3c42" stroke-width="1.0"/>
<line x1="169.79" y1="745.20" x2="118.43" y2="834.20" stroke="#ff3c42" stroke-width="1.0"/>
<line x1="188.89" y1="745.20" x2="137.53" y2="834.20" stroke="#ff3c42" stroke-width="1.0"/>
<line x1="207.99" y1="745.20" x2="156.63" y2="834.20" stroke="#ff3c42" stroke-width="1.0"/>
<circle cx="67.65" cy="756.70" r="3.65" fill="#ffffff" stroke="#4a4a4a" stroke-width="0.6"/>
<circle cx="86.75" cy="756.70" r="3.65" fill="#ffffff" stroke="#4a4a4a" stroke-width="0.6"/>
<circle cx="105.85" cy="756.70" r="3.65" fill="#ffffff" stroke="#4a4a4a" stroke-width="0.6"/>
<circle cx="124.95" cy="756.70" r="3.65" fill="#ffffff" stroke="#4a4a4a" stroke-width="0.6"/>
<circle cx="144.05" cy="756.70" r="3.65" fill="#ffffff" stroke="#4a4a4a" stroke-width="0.6"/>
<circle cx="77.20" cy="773.25" r="3.65" fill="#ffffff" stroke="#4a4a4a" stroke-width="0.6"/>
<circle cx="96.30" cy="773.25" r="3.65" fill="#ffffff" stroke="#4a4a4a" stroke-width="0.6"/>
<circle cx="115.40" cy="773.25" r="3.65" fill="#ffffff" stroke="#4a4a4a" stroke-width="0.6"/>
<circle cx="134.50" cy="773.25" r="3.65" fill="#ffffff" stroke="#4a4a4a" stroke-width="0.6"/>
<circle cx="67.65" cy="789.80" r="3.65" fill="#ffffff" stroke="#4a4a4a" stroke-width="0.6"/>
<circle cx="86.75" cy="789.80" r="3.65" fill="#ffffff" stroke="#4a4a4a" stroke-width="0.6"/>
<circle cx="105.85" cy="789.80" r="3.65" fill="#ffffff" stroke="#4a4a4a" stroke-width="0.6"/>
<circle cx="124.95" cy="789.80" r="3.65" fill="#ffffff" stroke="#4a4a4a" stroke-width="0.6"/>
<circle cx="144.05" cy="789.80" r="3.65" fill="#ffffff" stroke="#4a4a4a" stroke-width="0.6"/>
<circle cx="77.20" cy="806.35" r="3.65" fill="#ffffff" stroke="#4a4a4a" stroke-width="0.6"/>
<circle cx="96.30" cy="806.35" r="3.65" fill="#ffffff" stroke="#4a4a4a" stroke-width="0.6"/>
<circle cx="115.40" cy="806.35" r="3.65" fill="#ffffff" stroke="#4a4a4a" stroke-width="0.6"/>
<circle cx="134.50" cy="806.35" r="3.65" fill="#ffffff" stroke="#4a4a4a" stroke-width="0.6"/>
<circle cx="67.65" cy="822.90" r="3.65" fill="#ffffff" stroke="#4a4a4a" stroke-width="0.6"/>
<circle cx="86.75" cy="822.90" r="3.65" fill="#ffffff" stroke="#4a4a4a" stroke-width="0.6"/>
<circle cx="105.85" cy="822.90" r="3.65" fill="#ffffff" stroke="#4a4a4a" stroke-width="0.6"/>
<circle cx="124.95" cy="822.90" r="3.65" fill="#ffffff" stroke="#4a4a4a" stroke-width="0.6"/>
<circle cx="144.05" cy="822.90" r="3.65" fill="#ffffff" stroke="#4a4a4a" stroke-width="0.6"/>
</g>
<rect x="63.00" y="747.20" width="85.3" height="85.0" fill="none" stroke="#3a1515" stroke-width="1.25"/>
<line x1="60.20" y1="752.10" x2="63.00" y2="752.10" stroke="#222" stroke-width="1"/>
<line x1="60.20" y1="790.20" x2="63.00" y2="790.20" stroke="#222" stroke-width="1"/>
<line x1="60.20" y1="828.30" x2="63.00" y2="828.30" stroke="#222" stroke-width="1"/>
<line x1="67.40" y1="832.20" x2="67.40" y2="834.80" stroke="#222" stroke-width="1"/>
<line x1="105.60" y1="832.20" x2="105.60" y2="834.80" stroke="#222" stroke-width="1"/>
<line x1="143.90" y1="832.20" x2="143.90" y2="834.80" stroke="#222" stroke-width="1"/>
<clipPath id="c15"><rect x="287.20" y="653.50" width="85.3" height="85.0"/></clipPath>
<rect x="287.20" y="653.50" width="85.3" height="85.0" fill="#d9b0da"/>
<g clip-path="url(#c15)">
<line x1="285.20" y1="646.45" x2="374.50" y2="646.45" stroke="#a94bb1" stroke-width="1.2"/>
<line x1="285.20" y1="663.00" x2="374.50" y2="663.00" stroke="#a94bb1" stroke-width="1.2"/>
<line x1="285.20" y1="679.55" x2="374.50" y2="679.55" stroke="#a94bb1" stroke-width="1.2"/>
<line x1="285.20" y1="696.10" x2="374.50" y2="696.10" stroke="#a94bb1" stroke-width="1.2"/>
<line x1="285.20" y1="712.65" x2="374.50" y2="712.65" stroke="#a94bb1" stroke-width="1.2"/>
<line x1="285.20" y1="729.20" x2="374.50" y2="729.20" stroke="#a94bb1" stroke-width="1.2"/>
<line x1="285.20" y1="745.75" x2="374.50" y2="745.75" stroke="#a94bb1" stroke-width="1.2"/>
<line x1="183.89" y1="651.50" x2="132.53" y2="740.50" stroke="#a53aad" stroke-width="1.0"/>
<line x1="202.99" y1="651.50" x2="151.63" y2="740.50" stroke="#a53aad" stroke-width="1.0"/>
<line x1="222.09" y1="651.50" x2="170.73" y2="740.50" stroke="#a53aad" stroke-width="1.0"/>
<line x1="241.19" y1="651.50" x2="189.83" y2="740.50" stroke="#a53aad" stroke-width="1.0"/>
<line x1="260.29" y1="651.50" x2="208.93" y2="740.50" stroke="#a53aad" stroke-width="1.0"/>
<line x1="279.39" y1="651.50" x2="228.03" y2="740.50" stroke="#a53aad" stroke-width="1.0"/>
<line x1="298.49" y1="651.50" x2="247.13" y2="740.50" stroke="#a53aad" stroke-width="1.0"/>
<line x1="317.59" y1="651.50" x2="266.23" y2="740.50" stroke="#a53aad" stroke-width="1.0"/>
<line x1="336.69" y1="651.50" x2="285.33" y2="740.50" stroke="#a53aad" stroke-width="1.0"/>
<line x1="355.79" y1="651.50" x2="304.43" y2="740.50" stroke="#a53aad" stroke-width="1.0"/>
<line x1="374.89" y1="651.50" x2="323.53" y2="740.50" stroke="#a53aad" stroke-width="1.0"/>
<line x1="393.99" y1="651.50" x2="342.63" y2="740.50" stroke="#a53aad" stroke-width="1.0"/>
<line x1="413.09" y1="651.50" x2="361.73" y2="740.50" stroke="#a53aad" stroke-width="1.0"/>
<line x1="432.19" y1="651.50" x2="380.83" y2="740.50" stroke="#a53aad" stroke-width="1.0"/>
<circle cx="301.40" cy="668.52" r="3.5" fill="#c000c4" stroke="#7a007a" stroke-width="0.7"/>
<circle cx="320.50" cy="668.52" r="3.5" fill="#c000c4" stroke="#7a007a" stroke-width="0.7"/>
<circle cx="339.60" cy="668.52" r="3.5" fill="#c000c4" stroke="#7a007a" stroke-width="0.7"/>
<circle cx="358.70" cy="668.52" r="3.5" fill="#c000c4" stroke="#7a007a" stroke-width="0.7"/>
<circle cx="291.85" cy="685.07" r="3.5" fill="#c000c4" stroke="#7a007a" stroke-width="0.7"/>
<circle cx="310.95" cy="685.07" r="3.5" fill="#c000c4" stroke="#7a007a" stroke-width="0.7"/>
<circle cx="330.05" cy="685.07" r="3.5" fill="#c000c4" stroke="#7a007a" stroke-width="0.7"/>
<circle cx="349.15" cy="685.07" r="3.5" fill="#c000c4" stroke="#7a007a" stroke-width="0.7"/>
<circle cx="368.25" cy="685.07" r="3.5" fill="#c000c4" stroke="#7a007a" stroke-width="0.7"/>
<circle cx="301.40" cy="701.62" r="3.5" fill="#c000c4" stroke="#7a007a" stroke-width="0.7"/>
<circle cx="320.50" cy="701.62" r="3.5" fill="#c000c4" stroke="#7a007a" stroke-width="0.7"/>
<circle cx="339.60" cy="701.62" r="3.5" fill="#c000c4" stroke="#7a007a" stroke-width="0.7"/>
<circle cx="358.70" cy="701.62" r="3.5" fill="#c000c4" stroke="#7a007a" stroke-width="0.7"/>
<circle cx="291.85" cy="718.17" r="3.5" fill="#c000c4" stroke="#7a007a" stroke-width="0.7"/>
<circle cx="310.95" cy="718.17" r="3.5" fill="#c000c4" stroke="#7a007a" stroke-width="0.7"/>
<circle cx="330.05" cy="718.17" r="3.5" fill="#c000c4" stroke="#7a007a" stroke-width="0.7"/>
<circle cx="349.15" cy="718.17" r="3.5" fill="#c000c4" stroke="#7a007a" stroke-width="0.7"/>
<circle cx="368.25" cy="718.17" r="3.5" fill="#c000c4" stroke="#7a007a" stroke-width="0.7"/>
<circle cx="301.40" cy="734.72" r="3.5" fill="#c000c4" stroke="#7a007a" stroke-width="0.7"/>
<circle cx="320.50" cy="734.72" r="3.5" fill="#c000c4" stroke="#7a007a" stroke-width="0.7"/>
<circle cx="339.60" cy="734.72" r="3.5" fill="#c000c4" stroke="#7a007a" stroke-width="0.7"/>
<circle cx="358.70" cy="734.72" r="3.5" fill="#c000c4" stroke="#7a007a" stroke-width="0.7"/>
<circle cx="291.85" cy="663.00" r="3.65" fill="#ffffff" stroke="#4a4a4a" stroke-width="0.6"/>
<circle cx="310.95" cy="663.00" r="3.65" fill="#ffffff" stroke="#4a4a4a" stroke-width="0.6"/>
<circle cx="330.05" cy="663.00" r="3.65" fill="#ffffff" stroke="#4a4a4a" stroke-width="0.6"/>
<circle cx="349.15" cy="663.00" r="3.65" fill="#ffffff" stroke="#4a4a4a" stroke-width="0.6"/>
<circle cx="368.25" cy="663.00" r="3.65" fill="#ffffff" stroke="#4a4a4a" stroke-width="0.6"/>
<circle cx="301.40" cy="679.55" r="3.7" fill="#7d0080" stroke="#3d003d" stroke-width="0.5"/>
<circle cx="320.50" cy="679.55" r="3.65" fill="#ffffff" stroke="#4a4a4a" stroke-width="0.6"/>
<circle cx="339.60" cy="679.55" r="3.65" fill="#ffffff" stroke="#4a4a4a" stroke-width="0.6"/>
<circle cx="358.70" cy="679.55" r="3.7" fill="#7d0080" stroke="#3d003d" stroke-width="0.5"/>
<circle cx="291.85" cy="696.10" r="3.65" fill="#ffffff" stroke="#4a4a4a" stroke-width="0.6"/>
<circle cx="310.95" cy="696.10" r="3.65" fill="#ffffff" stroke="#4a4a4a" stroke-width="0.6"/>
<circle cx="330.05" cy="696.10" r="3.65" fill="#ffffff" stroke="#4a4a4a" stroke-width="0.6"/>
<circle cx="349.15" cy="696.10" r="3.65" fill="#ffffff" stroke="#4a4a4a" stroke-width="0.6"/>
<circle cx="368.25" cy="696.10" r="3.65" fill="#ffffff" stroke="#4a4a4a" stroke-width="0.6"/>
<circle cx="301.40" cy="712.65" r="3.65" fill="#ffffff" stroke="#4a4a4a" stroke-width="0.6"/>
<circle cx="320.50" cy="712.65" r="3.65" fill="#ffffff" stroke="#4a4a4a" stroke-width="0.6"/>
<circle cx="339.60" cy="712.65" r="3.65" fill="#ffffff" stroke="#4a4a4a" stroke-width="0.6"/>
<circle cx="358.70" cy="712.65" r="3.65" fill="#ffffff" stroke="#4a4a4a" stroke-width="0.6"/>
<circle cx="291.85" cy="729.20" r="3.65" fill="#ffffff" stroke="#4a4a4a" stroke-width="0.6"/>
<circle cx="310.95" cy="729.20" r="3.65" fill="#ffffff" stroke="#4a4a4a" stroke-width="0.6"/>
<circle cx="330.05" cy="729.20" r="3.7" fill="#7d0080" stroke="#3d003d" stroke-width="0.5"/>
<circle cx="349.15" cy="729.20" r="3.65" fill="#ffffff" stroke="#4a4a4a" stroke-width="0.6"/>
<circle cx="368.25" cy="729.20" r="3.65" fill="#ffffff" stroke="#4a4a4a" stroke-width="0.6"/>
</g>
<rect x="287.20" y="653.50" width="85.3" height="85.0" fill="none" stroke="#33103a" stroke-width="1.25"/>
<line x1="284.40" y1="658.40" x2="287.20" y2="658.40" stroke="#222" stroke-width="1"/>
<line x1="284.40" y1="696.50" x2="287.20" y2="696.50" stroke="#222" stroke-width="1"/>
<line x1="284.40" y1="734.60" x2="287.20" y2="734.60" stroke="#222" stroke-width="1"/>
<line x1="291.60" y1="738.50" x2="291.60" y2="741.10" stroke="#222" stroke-width="1"/>
<line x1="329.80" y1="738.50" x2="329.80" y2="741.10" stroke="#222" stroke-width="1"/>
<line x1="368.10" y1="738.50" x2="368.10" y2="741.10" stroke="#222" stroke-width="1"/>
<clipPath id="c16"><rect x="287.20" y="746.50" width="85.3" height="85.0"/></clipPath>
<rect x="287.20" y="746.50" width="85.3" height="85.0" fill="#fcadaf"/>
<g clip-path="url(#c16)">
<line x1="285.20" y1="739.45" x2="374.50" y2="739.45" stroke="#ff3c42" stroke-width="1.3"/>
<line x1="285.20" y1="756.00" x2="374.50" y2="756.00" stroke="#ff3c42" stroke-width="1.3"/>
<line x1="285.20" y1="772.55" x2="374.50" y2="772.55" stroke="#ff3c42" stroke-width="1.3"/>
<line x1="285.20" y1="789.10" x2="374.50" y2="789.10" stroke="#ff3c42" stroke-width="1.3"/>
<line x1="285.20" y1="805.65" x2="374.50" y2="805.65" stroke="#ff3c42" stroke-width="1.3"/>
<line x1="285.20" y1="822.20" x2="374.50" y2="822.20" stroke="#ff3c42" stroke-width="1.3"/>
<line x1="285.20" y1="838.75" x2="374.50" y2="838.75" stroke="#ff3c42" stroke-width="1.3"/>
<line x1="183.89" y1="744.50" x2="132.53" y2="833.50" stroke="#ff3c42" stroke-width="1.0"/>
<line x1="202.99" y1="744.50" x2="151.63" y2="833.50" stroke="#ff3c42" stroke-width="1.0"/>
<line x1="222.09" y1="744.50" x2="170.73" y2="833.50" stroke="#ff3c42" stroke-width="1.0"/>
<line x1="241.19" y1="744.50" x2="189.83" y2="833.50" stroke="#ff3c42" stroke-width="1.0"/>
<line x1="260.29" y1="744.50" x2="208.93" y2="833.50" stroke="#ff3c42" stroke-width="1.0"/>
<line x1="279.39" y1="744.50" x2="228.03" y2="833.50" stroke="#ff3c42" stroke-width="1.0"/>
<line x1="298.49" y1="744.50" x2="247.13" y2="833.50" stroke="#ff3c42" stroke-width="1.0"/>
<line x1="317.59" y1="744.50" x2="266.23" y2="833.50" stroke="#ff3c42" stroke-width="1.0"/>
<line x1="336.69" y1="744.50" x2="285.33" y2="833.50" stroke="#ff3c42" stroke-width="1.0"/>
<line x1="355.79" y1="744.50" x2="304.43" y2="833.50" stroke="#ff3c42" stroke-width="1.0"/>
<line x1="374.89" y1="744.50" x2="323.53" y2="833.50" stroke="#ff3c42" stroke-width="1.0"/>
<line x1="393.99" y1="744.50" x2="342.63" y2="833.50" stroke="#ff3c42" stroke-width="1.0"/>
<line x1="413.09" y1="744.50" x2="361.73" y2="833.50" stroke="#ff3c42" stroke-width="1.0"/>
<line x1="432.19" y1="744.50" x2="380.83" y2="833.50" stroke="#ff3c42" stroke-width="1.0"/>
<circle cx="291.85" cy="756.00" r="3.65" fill="#ffffff" stroke="#4a4a4a" stroke-width="0.6"/>
<circle cx="310.95" cy="756.00" r="3.65" fill="#ffffff" stroke="#4a4a4a" stroke-width="0.6"/>
<circle cx="330.05" cy="756.00" r="3.6" fill="#fa0000" stroke="#7a0000" stroke-width="0.5"/>
<circle cx="349.15" cy="756.00" r="3.65" fill="#ffffff" stroke="#4a4a4a" stroke-width="0.6"/>
<circle cx="368.25" cy="756.00" r="3.65" fill="#ffffff" stroke="#4a4a4a" stroke-width="0.6"/>
<circle cx="301.40" cy="772.55" r="3.65" fill="#ffffff" stroke="#4a4a4a" stroke-width="0.6"/>
<circle cx="320.50" cy="772.55" r="3.65" fill="#ffffff" stroke="#4a4a4a" stroke-width="0.6"/>
<circle cx="339.60" cy="772.55" r="3.65" fill="#ffffff" stroke="#4a4a4a" stroke-width="0.6"/>
<circle cx="358.70" cy="772.55" r="3.65" fill="#ffffff" stroke="#4a4a4a" stroke-width="0.6"/>
<circle cx="291.85" cy="789.10" r="3.65" fill="#ffffff" stroke="#4a4a4a" stroke-width="0.6"/>
<circle cx="310.95" cy="789.10" r="3.65" fill="#ffffff" stroke="#4a4a4a" stroke-width="0.6"/>
<circle cx="330.05" cy="789.10" r="3.6" fill="#fa0000" stroke="#7a0000" stroke-width="0.5"/>
<circle cx="349.15" cy="789.10" r="3.65" fill="#ffffff" stroke="#4a4a4a" stroke-width="0.6"/>
<circle cx="368.25" cy="789.10" r="3.65" fill="#ffffff" stroke="#4a4a4a" stroke-width="0.6"/>
<circle cx="301.40" cy="805.65" r="3.6" fill="#fa0000" stroke="#7a0000" stroke-width="0.5"/>
<circle cx="320.50" cy="805.65" r="3.65" fill="#ffffff" stroke="#4a4a4a" stroke-width="0.6"/>
<circle cx="339.60" cy="805.65" r="3.65" fill="#ffffff" stroke="#4a4a4a" stroke-width="0.6"/>
<circle cx="358.70" cy="805.65" r="3.6" fill="#fa0000" stroke="#7a0000" stroke-width="0.5"/>
<circle cx="291.85" cy="822.20" r="3.65" fill="#ffffff" stroke="#4a4a4a" stroke-width="0.6"/>
<circle cx="310.95" cy="822.20" r="3.65" fill="#ffffff" stroke="#4a4a4a" stroke-width="0.6"/>
<circle cx="330.05" cy="822.20" r="3.65" fill="#ffffff" stroke="#4a4a4a" stroke-width="0.6"/>
<circle cx="349.15" cy="822.20" r="3.65" fill="#ffffff" stroke="#4a4a4a" stroke-width="0.6"/>
<circle cx="368.25" cy="822.20" r="3.65" fill="#ffffff" stroke="#4a4a4a" stroke-width="0.6"/>
</g>
<rect x="287.20" y="746.50" width="85.3" height="85.0" fill="none" stroke="#3a1515" stroke-width="1.25"/>
<line x1="284.40" y1="751.40" x2="287.20" y2="751.40" stroke="#222" stroke-width="1"/>
<line x1="284.40" y1="789.50" x2="287.20" y2="789.50" stroke="#222" stroke-width="1"/>
<line x1="284.40" y1="827.60" x2="287.20" y2="827.60" stroke="#222" stroke-width="1"/>
<line x1="291.60" y1="831.50" x2="291.60" y2="834.10" stroke="#222" stroke-width="1"/>
<line x1="329.80" y1="831.50" x2="329.80" y2="834.10" stroke="#222" stroke-width="1"/>
<line x1="368.10" y1="831.50" x2="368.10" y2="834.10" stroke="#222" stroke-width="1"/>
<clipPath id="c17"><rect x="512.50" y="650.70" width="85.3" height="85.0"/></clipPath>
<rect x="512.50" y="650.70" width="85.3" height="85.0" fill="#d9b0da"/>
<g clip-path="url(#c17)">
<line x1="510.50" y1="643.65" x2="599.80" y2="643.65" stroke="#a94bb1" stroke-width="1.2"/>
<line x1="510.50" y1="660.20" x2="599.80" y2="660.20" stroke="#a94bb1" stroke-width="1.2"/>
<line x1="510.50" y1="676.75" x2="599.80" y2="676.75" stroke="#a94bb1" stroke-width="1.2"/>
<line x1="510.50" y1="693.30" x2="599.80" y2="693.30" stroke="#a94bb1" stroke-width="1.2"/>
<line x1="510.50" y1="709.85" x2="599.80" y2="709.85" stroke="#a94bb1" stroke-width="1.2"/>
<line x1="510.50" y1="726.40" x2="599.80" y2="726.40" stroke="#a94bb1" stroke-width="1.2"/>
<line x1="510.50" y1="742.95" x2="599.80" y2="742.95" stroke="#a94bb1" stroke-width="1.2"/>
<line x1="409.19" y1="648.70" x2="357.83" y2="737.70" stroke="#a53aad" stroke-width="1.0"/>
<line x1="428.29" y1="648.70" x2="376.93" y2="737.70" stroke="#a53aad" stroke-width="1.0"/>
<line x1="447.39" y1="648.70" x2="396.03" y2="737.70" stroke="#a53aad" stroke-width="1.0"/>
<line x1="466.49" y1="648.70" x2="415.13" y2="737.70" stroke="#a53aad" stroke-width="1.0"/>
<line x1="485.59" y1="648.70" x2="434.23" y2="737.70" stroke="#a53aad" stroke-width="1.0"/>
<line x1="504.69" y1="648.70" x2="453.33" y2="737.70" stroke="#a53aad" stroke-width="1.0"/>
<line x1="523.79" y1="648.70" x2="472.43" y2="737.70" stroke="#a53aad" stroke-width="1.0"/>
<line x1="542.89" y1="648.70" x2="491.53" y2="737.70" stroke="#a53aad" stroke-width="1.0"/>
<line x1="561.99" y1="648.70" x2="510.63" y2="737.70" stroke="#a53aad" stroke-width="1.0"/>
<line x1="581.09" y1="648.70" x2="529.73" y2="737.70" stroke="#a53aad" stroke-width="1.0"/>
<line x1="600.19" y1="648.70" x2="548.83" y2="737.70" stroke="#a53aad" stroke-width="1.0"/>
<line x1="619.29" y1="648.70" x2="567.93" y2="737.70" stroke="#a53aad" stroke-width="1.0"/>
<line x1="638.39" y1="648.70" x2="587.03" y2="737.70" stroke="#a53aad" stroke-width="1.0"/>
<line x1="657.49" y1="648.70" x2="606.13" y2="737.70" stroke="#a53aad" stroke-width="1.0"/>
<circle cx="526.70" cy="665.72" r="3.5" fill="#c000c4" stroke="#7a007a" stroke-width="0.7"/>
<circle cx="545.80" cy="665.72" r="3.5" fill="#c000c4" stroke="#7a007a" stroke-width="0.7"/>
<circle cx="564.90" cy="665.72" r="3.5" fill="#c000c4" stroke="#7a007a" stroke-width="0.7"/>
<circle cx="584.00" cy="665.72" r="3.5" fill="#c000c4" stroke="#7a007a" stroke-width="0.7"/>
<circle cx="517.15" cy="682.27" r="3.5" fill="#c000c4" stroke="#7a007a" stroke-width="0.7"/>
<circle cx="536.25" cy="682.27" r="3.5" fill="#c000c4" stroke="#7a007a" stroke-width="0.7"/>
<circle cx="555.35" cy="682.27" r="3.5" fill="#c000c4" stroke="#7a007a" stroke-width="0.7"/>
<circle cx="574.45" cy="682.27" r="3.5" fill="#c000c4" stroke="#7a007a" stroke-width="0.7"/>
<circle cx="593.55" cy="682.27" r="3.5" fill="#c000c4" stroke="#7a007a" stroke-width="0.7"/>
<circle cx="526.70" cy="698.82" r="3.5" fill="#c000c4" stroke="#7a007a" stroke-width="0.7"/>
<circle cx="545.80" cy="698.82" r="3.5" fill="#c000c4" stroke="#7a007a" stroke-width="0.7"/>
<circle cx="564.90" cy="698.82" r="3.5" fill="#c000c4" stroke="#7a007a" stroke-width="0.7"/>
<circle cx="584.00" cy="698.82" r="3.5" fill="#c000c4" stroke="#7a007a" stroke-width="0.7"/>
<circle cx="517.15" cy="715.37" r="3.5" fill="#c000c4" stroke="#7a007a" stroke-width="0.7"/>
<circle cx="536.25" cy="715.37" r="3.5" fill="#c000c4" stroke="#7a007a" stroke-width="0.7"/>
<circle cx="555.35" cy="715.37" r="3.5" fill="#c000c4" stroke="#7a007a" stroke-width="0.7"/>
<circle cx="574.45" cy="715.37" r="3.5" fill="#c000c4" stroke="#7a007a" stroke-width="0.7"/>
<circle cx="593.55" cy="715.37" r="3.5" fill="#c000c4" stroke="#7a007a" stroke-width="0.7"/>
<circle cx="526.70" cy="731.92" r="3.5" fill="#c000c4" stroke="#7a007a" stroke-width="0.7"/>
<circle cx="545.80" cy="731.92" r="3.5" fill="#c000c4" stroke="#7a007a" stroke-width="0.7"/>
<circle cx="564.90" cy="731.92" r="3.5" fill="#c000c4" stroke="#7a007a" stroke-width="0.7"/>
<circle cx="584.00" cy="731.92" r="3.5" fill="#c000c4" stroke="#7a007a" stroke-width="0.7"/>
<circle cx="517.15" cy="660.20" r="3.7" fill="#7d0080" stroke="#3d003d" stroke-width="0.5"/>
<circle cx="536.25" cy="660.20" r="3.7" fill="#7d0080" stroke="#3d003d" stroke-width="0.5"/>
<circle cx="555.35" cy="660.20" r="3.7" fill="#7d0080" stroke="#3d003d" stroke-width="0.5"/>
<circle cx="574.45" cy="660.20" r="3.7" fill="#7d0080" stroke="#3d003d" stroke-width="0.5"/>
<circle cx="593.55" cy="660.20" r="3.7" fill="#7d0080" stroke="#3d003d" stroke-width="0.5"/>
<circle cx="526.70" cy="676.75" r="3.7" fill="#7d0080" stroke="#3d003d" stroke-width="0.5"/>
<circle cx="545.80" cy="676.75" r="3.7" fill="#7d0080" stroke="#3d003d" stroke-width="0.5"/>
<circle cx="564.90" cy="676.75" r="3.7" fill="#7d0080" stroke="#3d003d" stroke-width="0.5"/>
<circle cx="584.00" cy="676.75" r="3.7" fill="#7d0080" stroke="#3d003d" stroke-width="0.5"/>
<circle cx="517.15" cy="693.30" r="3.7" fill="#7d0080" stroke="#3d003d" stroke-width="0.5"/>
<circle cx="536.25" cy="693.30" r="3.7" fill="#7d0080" stroke="#3d003d" stroke-width="0.5"/>
<circle cx="555.35" cy="693.30" r="3.7" fill="#7d0080" stroke="#3d003d" stroke-width="0.5"/>
<circle cx="574.45" cy="693.30" r="3.7" fill="#7d0080" stroke="#3d003d" stroke-width="0.5"/>
<circle cx="593.55" cy="693.30" r="3.7" fill="#7d0080" stroke="#3d003d" stroke-width="0.5"/>
<circle cx="526.70" cy="709.85" r="3.7" fill="#7d0080" stroke="#3d003d" stroke-width="0.5"/>
<circle cx="545.80" cy="709.85" r="3.7" fill="#7d0080" stroke="#3d003d" stroke-width="0.5"/>
<circle cx="564.90" cy="709.85" r="3.7" fill="#7d0080" stroke="#3d003d" stroke-width="0.5"/>
<circle cx="584.00" cy="709.85" r="3.7" fill="#7d0080" stroke="#3d003d" stroke-width="0.5"/>
<circle cx="517.15" cy="726.40" r="3.7" fill="#7d0080" stroke="#3d003d" stroke-width="0.5"/>
<circle cx="536.25" cy="726.40" r="3.7" fill="#7d0080" stroke="#3d003d" stroke-width="0.5"/>
<circle cx="555.35" cy="726.40" r="3.7" fill="#7d0080" stroke="#3d003d" stroke-width="0.5"/>
<circle cx="574.45" cy="726.40" r="3.7" fill="#7d0080" stroke="#3d003d" stroke-width="0.5"/>
<circle cx="593.55" cy="726.40" r="3.7" fill="#7d0080" stroke="#3d003d" stroke-width="0.5"/>
</g>
<rect x="512.50" y="650.70" width="85.3" height="85.0" fill="none" stroke="#33103a" stroke-width="1.25"/>
<line x1="509.70" y1="655.60" x2="512.50" y2="655.60" stroke="#222" stroke-width="1"/>
<line x1="509.70" y1="693.70" x2="512.50" y2="693.70" stroke="#222" stroke-width="1"/>
<line x1="509.70" y1="731.80" x2="512.50" y2="731.80" stroke="#222" stroke-width="1"/>
<line x1="516.90" y1="735.70" x2="516.90" y2="738.30" stroke="#222" stroke-width="1"/>
<line x1="555.10" y1="735.70" x2="555.10" y2="738.30" stroke="#222" stroke-width="1"/>
<line x1="593.40" y1="735.70" x2="593.40" y2="738.30" stroke="#222" stroke-width="1"/>
<clipPath id="c18"><rect x="512.50" y="747.50" width="85.3" height="85.0"/></clipPath>
<rect x="512.50" y="747.50" width="85.3" height="85.0" fill="#fcadaf"/>
<g clip-path="url(#c18)">
<line x1="510.50" y1="740.45" x2="599.80" y2="740.45" stroke="#ff3c42" stroke-width="1.3"/>
<line x1="510.50" y1="757.00" x2="599.80" y2="757.00" stroke="#ff3c42" stroke-width="1.3"/>
<line x1="510.50" y1="773.55" x2="599.80" y2="773.55" stroke="#ff3c42" stroke-width="1.3"/>
<line x1="510.50" y1="790.10" x2="599.80" y2="790.10" stroke="#ff3c42" stroke-width="1.3"/>
<line x1="510.50" y1="806.65" x2="599.80" y2="806.65" stroke="#ff3c42" stroke-width="1.3"/>
<line x1="510.50" y1="823.20" x2="599.80" y2="823.20" stroke="#ff3c42" stroke-width="1.3"/>
<line x1="510.50" y1="839.75" x2="599.80" y2="839.75" stroke="#ff3c42" stroke-width="1.3"/>
<line x1="409.19" y1="745.50" x2="357.83" y2="834.50" stroke="#ff3c42" stroke-width="1.0"/>
<line x1="428.29" y1="745.50" x2="376.93" y2="834.50" stroke="#ff3c42" stroke-width="1.0"/>
<line x1="447.39" y1="745.50" x2="396.03" y2="834.50" stroke="#ff3c42" stroke-width="1.0"/>
<line x1="466.49" y1="745.50" x2="415.13" y2="834.50" stroke="#ff3c42" stroke-width="1.0"/>
<line x1="485.59" y1="745.50" x2="434.23" y2="834.50" stroke="#ff3c42" stroke-width="1.0"/>
<line x1="504.69" y1="745.50" x2="453.33" y2="834.50" stroke="#ff3c42" stroke-width="1.0"/>
<line x1="523.79" y1="745.50" x2="472.43" y2="834.50" stroke="#ff3c42" stroke-width="1.0"/>
<line x1="542.89" y1="745.50" x2="491.53" y2="834.50" stroke="#ff3c42" stroke-width="1.0"/>
<line x1="561.99" y1="745.50" x2="510.63" y2="834.50" stroke="#ff3c42" stroke-width="1.0"/>
<line x1="581.09" y1="745.50" x2="529.73" y2="834.50" stroke="#ff3c42" stroke-width="1.0"/>
<line x1="600.19" y1="745.50" x2="548.83" y2="834.50" stroke="#ff3c42" stroke-width="1.0"/>
<line x1="619.29" y1="745.50" x2="567.93" y2="834.50" stroke="#ff3c42" stroke-width="1.0"/>
<line x1="638.39" y1="745.50" x2="587.03" y2="834.50" stroke="#ff3c42" stroke-width="1.0"/>
<line x1="657.49" y1="745.50" x2="606.13" y2="834.50" stroke="#ff3c42" stroke-width="1.0"/>
<circle cx="517.15" cy="757.00" r="3.65" fill="#ffffff" stroke="#4a4a4a" stroke-width="0.6"/>
<circle cx="536.25" cy="757.00" r="3.65" fill="#ffffff" stroke="#4a4a4a" stroke-width="0.6"/>
<circle cx="555.35" cy="757.00" r="3.65" fill="#ffffff" stroke="#4a4a4a" stroke-width="0.6"/>
<circle cx="574.45" cy="757.00" r="3.65" fill="#ffffff" stroke="#4a4a4a" stroke-width="0.6"/>
<circle cx="593.55" cy="757.00" r="3.65" fill="#ffffff" stroke="#4a4a4a" stroke-width="0.6"/>
<circle cx="526.70" cy="773.55" r="3.65" fill="#ffffff" stroke="#4a4a4a" stroke-width="0.6"/>
<circle cx="545.80" cy="773.55" r="3.65" fill="#ffffff" stroke="#4a4a4a" stroke-width="0.6"/>
<circle cx="564.90" cy="773.55" r="3.65" fill="#ffffff" stroke="#4a4a4a" stroke-width="0.6"/>
<circle cx="584.00" cy="773.55" r="3.65" fill="#ffffff" stroke="#4a4a4a" stroke-width="0.6"/>
<circle cx="517.15" cy="790.10" r="3.65" fill="#ffffff" stroke="#4a4a4a" stroke-width="0.6"/>
<circle cx="536.25" cy="790.10" r="3.65" fill="#ffffff" stroke="#4a4a4a" stroke-width="0.6"/>
<circle cx="555.35" cy="790.10" r="3.65" fill="#ffffff" stroke="#4a4a4a" stroke-width="0.6"/>
<circle cx="574.45" cy="790.10" r="3.65" fill="#ffffff" stroke="#4a4a4a" stroke-width="0.6"/>
<circle cx="593.55" cy="790.10" r="3.65" fill="#ffffff" stroke="#4a4a4a" stroke-width="0.6"/>
<circle cx="526.70" cy="806.65" r="3.65" fill="#ffffff" stroke="#4a4a4a" stroke-width="0.6"/>
<circle cx="545.80" cy="806.65" r="3.65" fill="#ffffff" stroke="#4a4a4a" stroke-width="0.6"/>
<circle cx="564.90" cy="806.65" r="3.65" fill="#ffffff" stroke="#4a4a4a" stroke-width="0.6"/>
<circle cx="584.00" cy="806.65" r="3.65" fill="#ffffff" stroke="#4a4a4a" stroke-width="0.6"/>
<circle cx="517.15" cy="823.20" r="3.65" fill="#ffffff" stroke="#4a4a4a" stroke-width="0.6"/>
<circle cx="536.25" cy="823.20" r="3.65" fill="#ffffff" stroke="#4a4a4a" stroke-width="0.6"/>
<circle cx="555.35" cy="823.20" r="3.65" fill="#ffffff" stroke="#4a4a4a" stroke-width="0.6"/>
<circle cx="574.45" cy="823.20" r="3.65" fill="#ffffff" stroke="#4a4a4a" stroke-width="0.6"/>
<circle cx="593.55" cy="823.20" r="3.65" fill="#ffffff" stroke="#4a4a4a" stroke-width="0.6"/>
</g>
<rect x="512.50" y="747.50" width="85.3" height="85.0" fill="none" stroke="#3a1515" stroke-width="1.25"/>
<line x1="509.70" y1="752.40" x2="512.50" y2="752.40" stroke="#222" stroke-width="1"/>
<line x1="509.70" y1="790.50" x2="512.50" y2="790.50" stroke="#222" stroke-width="1"/>
<line x1="509.70" y1="828.60" x2="512.50" y2="828.60" stroke="#222" stroke-width="1"/>
<line x1="516.90" y1="832.50" x2="516.90" y2="835.10" stroke="#222" stroke-width="1"/>
<line x1="555.10" y1="832.50" x2="555.10" y2="835.10" stroke="#222" stroke-width="1"/>
<line x1="593.40" y1="832.50" x2="593.40" y2="835.10" stroke="#222" stroke-width="1"/>
<line x1="171.90" y1="79.50" x2="171.90" y2="236.90" stroke="#000" stroke-width="1.5"/>
<line x1="160.30" y1="225.20" x2="231.50" y2="225.20" stroke="#111" stroke-width="1.3"/>
<path d="M171.90,126.55 A35.15,5.85 0 0 1 171.90,138.25 Z" fill="none" stroke="#cc00ff" stroke-width="1.3"/>
<text x="172.42" y="136.40" font-size="10.3" font-weight="normal" fill="#cc00ff" textLength="23.49" lengthAdjust="spacingAndGlyphs" >UHB</text>
<path d="M171.90,87.95 A16.75,21.30 0 0 1 171.90,130.55 Z" fill="none" stroke="#ff0000" stroke-width="1.5"/>
<path d="M171.90,167.60 A34.80,12.70 0 0 1 171.90,193.00 Z" fill="none" stroke="#640078" stroke-width="1.6"/>
<line x1="155.90" y1="199.60" x2="226.90" y2="199.60" stroke="#000" stroke-width="0.9" stroke-dasharray="1.5,1.1"/>
<path d="M171.90,205.50 A36.10,7.15 0 0 1 171.90,219.80 Z" fill="#cc00ff"/>
<text x="173.59" y="216.75" font-size="10.8" font-weight="normal" fill="#fff" textLength="21.12" lengthAdjust="spacingAndGlyphs" >LHB</text>
<line x1="210.60" y1="139.70" x2="210.60" y2="203.20" stroke="#cc00ff" stroke-width="1.5"/>
<path d="M210.60,133.50 L208.30,140.70 L212.90,140.70 Z" fill="#cc00ff"/>
<path d="M210.60,209.40 L208.30,202.20 L212.90,202.20 Z" fill="#cc00ff"/>
<line x1="393.50" y1="79.50" x2="393.50" y2="236.90" stroke="#000" stroke-width="1.5"/>
<line x1="381.90" y1="225.20" x2="453.10" y2="225.20" stroke="#111" stroke-width="1.3"/>
<path d="M393.50,126.55 A35.15,6.05 0 0 1 393.50,138.65 Z" fill="none" stroke="#cc00ff" stroke-width="1.3"/>
<text x="394.02" y="136.60" font-size="10.3" font-weight="normal" fill="#cc00ff" textLength="23.49" lengthAdjust="spacingAndGlyphs" >UHB</text>
<path d="M393.50,90.05 A17.25,21.10 0 0 1 393.50,132.25 Z" fill="none" stroke="#ff0000" stroke-width="1.5"/>
<path d="M393.50,177.55 A35.65,4.55 0 0 1 393.50,186.65 Z" fill="none" stroke="#640078" stroke-width="1.1"/>
<line x1="378.00" y1="190.40" x2="448.00" y2="190.40" stroke="#000" stroke-width="0.9" stroke-dasharray="1.5,1.1"/>
<path d="M393.50,193.00 A36.20,2.60 0 0 1 393.50,198.20 Z" fill="#640078"/>
<path d="M393.50,205.50 A36.20,7.15 0 0 1 393.50,219.80 Z" fill="#cc00ff"/>
<text x="395.19" y="216.75" font-size="10.8" font-weight="normal" fill="#fff" textLength="21.12" lengthAdjust="spacingAndGlyphs" >LHB</text>
<line x1="621.90" y1="79.50" x2="621.90" y2="236.90" stroke="#000" stroke-width="1.5"/>
<line x1="610.30" y1="225.20" x2="681.50" y2="225.20" stroke="#111" stroke-width="1.3"/>
<path d="M621.90,89.75 A16.35,21.15 0 0 1 621.90,132.05 Z" fill="none" stroke="#ff0000" stroke-width="1.5"/>
<path d="M621.90,104.95 A35.35,5.35 0 0 1 621.90,115.65 Z" fill="none" stroke="#640078" stroke-width="1.1"/>
<path d="M621.90,129.75 A35.25,5.80 0 0 1 621.90,141.35 Z" fill="none" stroke="#cc00ff" stroke-width="1.3"/>
<text x="622.42" y="114.30" font-size="10.3" font-weight="normal" fill="#640078" textLength="23.49" lengthAdjust="spacingAndGlyphs" >UHB</text>
<text x="622.42" y="139.55" font-size="10.3" font-weight="normal" fill="#cc00ff" textLength="23.49" lengthAdjust="spacingAndGlyphs" >UHB</text>
<line x1="606.20" y1="180.20" x2="676.50" y2="180.20" stroke="#000" stroke-width="0.9" stroke-dasharray="1.5,1.1"/>
<path d="M621.90,186.10 A35.90,6.80 0 0 1 621.90,199.70 Z" fill="#640078"/>
<path d="M621.90,205.80 A35.90,6.80 0 0 1 621.90,219.40 Z" fill="#cc00ff"/>
<text x="623.60" y="197.00" font-size="10.8" font-weight="normal" fill="#fff" textLength="21.12" lengthAdjust="spacingAndGlyphs" >LHB</text>
<text x="623.60" y="216.70" font-size="10.8" font-weight="normal" fill="#fff" textLength="21.12" lengthAdjust="spacingAndGlyphs" >LHB</text>
<line x1="662.00" y1="115.40" x2="662.00" y2="183.90" stroke="#640078" stroke-width="1.5"/>
<path d="M662.00,109.20 L659.70,116.40 L664.30,116.40 Z" fill="#640078"/>
<path d="M662.00,190.10 L659.70,182.90 L664.30,182.90 Z" fill="#640078"/>
<line x1="172.90" y1="392.40" x2="172.90" y2="549.00" stroke="#000" stroke-width="1.5"/>
<line x1="161.30" y1="537.70" x2="232.50" y2="537.70" stroke="#111" stroke-width="1.3"/>
<path d="M172.90,408.05 A35.15,5.95 0 0 1 172.90,419.95 Z" fill="none" stroke="#cc00ff" stroke-width="1.3"/>
<path d="M172.90,448.00 A35.70,12.55 0 0 1 172.90,473.10 Z" fill="none" stroke="#640078" stroke-width="1.6"/>
<path d="M172.90,469.05 A16.45,21.25 0 0 1 172.90,511.55 Z" fill="none" stroke="#ff0000" stroke-width="1.5"/>
<line x1="157.30" y1="513.60" x2="227.40" y2="513.60" stroke="#000" stroke-width="0.9" stroke-dasharray="1.5,1.1"/>
<path d="M172.90,518.10 A36.20,7.10 0 0 1 172.90,532.30 Z" fill="#cc00ff"/>
<text x="173.42" y="418.00" font-size="10.3" font-weight="normal" fill="#cc00ff" textLength="23.49" lengthAdjust="spacingAndGlyphs" >UHB</text>
<text x="174.59" y="529.30" font-size="10.8" font-weight="normal" fill="#fff" textLength="21.12" lengthAdjust="spacingAndGlyphs" >LHB</text>
<line x1="392.50" y1="392.40" x2="392.50" y2="549.00" stroke="#000" stroke-width="1.5"/>
<line x1="380.90" y1="537.70" x2="452.10" y2="537.70" stroke="#111" stroke-width="1.3"/>
<path d="M392.50,410.15 A35.85,6.15 0 0 1 392.50,422.45 Z" fill="none" stroke="#cc00ff" stroke-width="1.3"/>
<path d="M392.50,448.70 A35.40,12.55 0 0 1 392.50,473.80 Z" fill="none" stroke="#640078" stroke-width="1.6"/>
<path d="M392.50,470.15 A17.65,16.15 0 0 1 392.50,502.45 Z" fill="none" stroke="#ff0000" stroke-width="1.3"/>
<line x1="377.20" y1="505.30" x2="447.30" y2="505.30" stroke="#000" stroke-width="0.9" stroke-dasharray="1.5,1.1"/>
<path d="M392.50,508.90 A18.70,3.30 0 0 1 392.50,515.50 Z" fill="#ff0000"/>
<path d="M392.50,518.10 A36.20,7.10 0 0 1 392.50,532.30 Z" fill="#cc00ff"/>
<text x="393.02" y="420.30" font-size="10.3" font-weight="normal" fill="#cc00ff" textLength="23.49" lengthAdjust="spacingAndGlyphs" >UHB</text>
<text x="394.19" y="529.30" font-size="10.8" font-weight="normal" fill="#fff" textLength="21.12" lengthAdjust="spacingAndGlyphs" >LHB</text>
<line x1="619.00" y1="392.50" x2="619.00" y2="548.80" stroke="#000" stroke-width="1.5"/>
<line x1="607.40" y1="537.60" x2="678.60" y2="537.60" stroke="#111" stroke-width="1.3"/>
<path d="M619.00,411.95 A36.05,6.05 0 0 1 619.00,424.05 Z" fill="none" stroke="#cc00ff" stroke-width="1.3"/>
<path d="M619.00,443.20 A18.40,9.90 0 0 1 619.00,463.00 Z" fill="none" stroke="#ff0000" stroke-width="1.2"/>
<path d="M619.00,450.30 A35.00,12.45 0 0 1 619.00,475.20 Z" fill="none" stroke="#640078" stroke-width="1.6"/>
<line x1="603.40" y1="491.40" x2="673.80" y2="491.40" stroke="#000" stroke-width="0.9" stroke-dasharray="1.5,1.1"/>
<path d="M619.00,494.40 A18.40,10.50 0 0 1 619.00,515.40 Z" fill="#ff0000"/>
<path d="M619.00,518.60 A35.80,6.80 0 0 1 619.00,532.20 Z" fill="#cc00ff"/>
<text x="619.52" y="422.00" font-size="10.3" font-weight="normal" fill="#cc00ff" textLength="23.49" lengthAdjust="spacingAndGlyphs" >UHB</text>
<text x="620.70" y="529.50" font-size="10.8" font-weight="normal" fill="#fff" textLength="21.12" lengthAdjust="spacingAndGlyphs" >LHB</text>
<line x1="641.90" y1="465.20" x2="641.90" y2="499.10" stroke="#ff0000" stroke-width="1.5"/>
<path d="M641.90,459.00 L639.60,466.20 L644.20,466.20 Z" fill="#ff0000"/>
<path d="M641.90,505.30 L639.60,498.10 L644.20,498.10 Z" fill="#ff0000"/>
<line x1="171.60" y1="676.60" x2="171.60" y2="833.40" stroke="#000" stroke-width="1.5"/>
<line x1="160.00" y1="822.50" x2="231.20" y2="822.50" stroke="#111" stroke-width="1.3"/>
<path d="M171.60,704.55 A36.15,5.90 0 0 1 171.60,716.35 Z" fill="none" stroke="#cc00ff" stroke-width="1.3"/>
<path d="M171.60,730.85 A17.35,21.35 0 0 1 171.60,773.55 Z" fill="none" stroke="#ff0000" stroke-width="1.5"/>
<path d="M171.60,742.30 A36.30,12.70 0 0 1 171.60,767.70 Z" fill="none" stroke="#640078" stroke-width="1.6"/>
<line x1="155.80" y1="799.60" x2="225.90" y2="799.60" stroke="#000" stroke-width="0.9" stroke-dasharray="1.5,1.1"/>
<path d="M171.60,802.80 A36.10,6.70 0 0 1 171.60,816.20 Z" fill="#cc00ff"/>
<text x="172.12" y="714.45" font-size="10.3" font-weight="normal" fill="#cc00ff" textLength="23.49" lengthAdjust="spacingAndGlyphs" >UHB</text>
<text x="173.29" y="813.60" font-size="10.8" font-weight="normal" fill="#fff" textLength="21.12" lengthAdjust="spacingAndGlyphs" >LHB</text>
<line x1="393.20" y1="678.80" x2="393.20" y2="835.40" stroke="#000" stroke-width="1.5"/>
<line x1="381.60" y1="824.20" x2="452.80" y2="824.20" stroke="#111" stroke-width="1.3"/>
<path d="M393.20,710.75 A35.45,5.95 0 0 1 393.20,722.65 Z" fill="none" stroke="#cc00ff" stroke-width="1.3"/>
<path d="M393.20,728.85 A16.55,21.30 0 0 1 393.20,771.45 Z" fill="none" stroke="#ff0000" stroke-width="1.5"/>
<path d="M393.20,738.70 A35.70,12.60 0 0 1 393.20,763.90 Z" fill="none" stroke="#640078" stroke-width="1.6"/>
<line x1="377.20" y1="779.20" x2="448.00" y2="779.20" stroke="#000" stroke-width="0.9" stroke-dasharray="1.5,1.1"/>
<path d="M393.20,782.10 A35.80,1.85 0 0 1 393.20,785.80 Z" fill="#640078"/>
<path d="M393.20,782.10 A18.30,1.85 0 0 1 393.20,785.80 Z" fill="#ff0000"/>
<path d="M393.20,804.50 A36.10,6.90 0 0 1 393.20,818.30 Z" fill="#cc00ff"/>
<text x="393.72" y="720.70" font-size="10.3" font-weight="normal" fill="#cc00ff" textLength="23.49" lengthAdjust="spacingAndGlyphs" >UHB</text>
<text x="394.89" y="815.50" font-size="10.8" font-weight="normal" fill="#fff" textLength="21.12" lengthAdjust="spacingAndGlyphs" >LHB</text>
<line x1="619.10" y1="676.60" x2="619.10" y2="833.50" stroke="#000" stroke-width="1.5"/>
<line x1="607.50" y1="822.50" x2="678.70" y2="822.50" stroke="#111" stroke-width="1.3"/>
<path d="M619.10,683.05 A35.75,6.00 0 0 1 619.10,695.05 Z" fill="none" stroke="#640078" stroke-width="1.1"/>
<path d="M619.10,709.05 A35.45,5.90 0 0 1 619.10,720.85 Z" fill="none" stroke="#cc00ff" stroke-width="1.3"/>
<path d="M619.10,731.15 A17.65,21.25 0 0 1 619.10,773.65 Z" fill="none" stroke="#ff0000" stroke-width="1.5"/>
<line x1="603.10" y1="775.50" x2="673.60" y2="775.50" stroke="#000" stroke-width="0.9" stroke-dasharray="1.5,1.1"/>
<path d="M619.10,784.40 A36.10,6.85 0 0 1 619.10,798.10 Z" fill="#640078"/>
<path d="M619.10,802.80 A36.10,6.85 0 0 1 619.10,816.50 Z" fill="#cc00ff"/>
<text x="619.62" y="693.05" font-size="10.3" font-weight="normal" fill="#640078" textLength="23.49" lengthAdjust="spacingAndGlyphs" >UHB</text>
<text x="619.62" y="718.95" font-size="10.3" font-weight="normal" fill="#cc00ff" textLength="23.49" lengthAdjust="spacingAndGlyphs" >UHB</text>
<text x="620.80" y="795.35" font-size="10.8" font-weight="normal" fill="#fff" textLength="21.12" lengthAdjust="spacingAndGlyphs" >LHB</text>
<text x="620.80" y="813.75" font-size="10.8" font-weight="normal" fill="#fff" textLength="21.12" lengthAdjust="spacingAndGlyphs" >LHB</text>
<line x1="125.1" y1="58.8" x2="125.1" y2="154.5" stroke="#666" stroke-width="1.3" stroke-dasharray="2.6,1.6"/>
<line x1="134.8" y1="64.3" x2="134.8" y2="159.7" stroke="#666" stroke-width="1.3" stroke-dasharray="2.6,1.6"/>
<line x1="155.0" y1="42.6" x2="130.77" y2="54.14" stroke="#000" stroke-width="1.3"/>
<path d="M125.8,56.5 L129.82,52.15 L131.71,56.12 Z" fill="#000"/>
<line x1="166.7" y1="48.9" x2="143.18" y2="59.96" stroke="#000" stroke-width="1.3"/>
<path d="M138.2,62.3 L142.24,57.97 L144.11,61.95 Z" fill="#000"/>
<clipPath id="hc"><rect x="184.6" y="252.8" width="81.1" height="69.39999999999998"/></clipPath>
<rect x="184.6" y="252.8" width="81.1" height="69.39999999999998" fill="#fff"/>
<g clip-path="url(#hc)">
<path d="M211.5,299.6 L238.4,299.6 L252.0,277.6 L225.3,277.6 Z" fill="#f9b2f9"/>
<line x1="130.80" y1="255.20" x2="130.80" y2="268.80" stroke="#111" stroke-width="1.1"/><line x1="157.70" y1="255.20" x2="157.70" y2="268.80" stroke="#111" stroke-width="1.1"/><line x1="184.60" y1="255.20" x2="184.60" y2="268.80" stroke="#111" stroke-width="1.1"/><line x1="211.50" y1="255.20" x2="211.50" y2="268.80" stroke="#111" stroke-width="1.1"/><line x1="238.40" y1="255.20" x2="238.40" y2="268.80" stroke="#111" stroke-width="1.1"/><line x1="265.30" y1="255.20" x2="265.30" y2="268.80" stroke="#111" stroke-width="1.1"/><line x1="292.20" y1="255.20" x2="292.20" y2="268.80" stroke="#111" stroke-width="1.1"/><line x1="319.10" y1="255.20" x2="319.10" y2="268.80" stroke="#111" stroke-width="1.1"/><line x1="130.80" y1="268.80" x2="117.70" y2="277.60" stroke="#111" stroke-width="1.1"/><line x1="130.80" y1="268.80" x2="144.60" y2="277.60" stroke="#111" stroke-width="1.1"/><line x1="157.70" y1="268.80" x2="144.60" y2="277.60" stroke="#111" stroke-width="1.1"/><line x1="157.70" y1="268.80" x2="171.50" y2="277.60" stroke="#111" stroke-width="1.1"/><line x1="184.60" y1="268.80" x2="171.50" y2="277.60" stroke="#111" stroke-width="1.1"/><line x1="184.60" y1="268.80" x2="198.40" y2="277.60" stroke="#111" stroke-width="1.1"/><line x1="211.50" y1="268.80" x2="198.40" y2="277.60" stroke="#111" stroke-width="1.1"/><line x1="211.50" y1="268.80" x2="225.30" y2="277.60" stroke="#111" stroke-width="1.1"/><line x1="238.40" y1="268.80" x2="225.30" y2="277.60" stroke="#111" stroke-width="1.1"/><line x1="238.40" y1="268.80" x2="252.20" y2="277.60" stroke="#111" stroke-width="1.1"/><line x1="265.30" y1="268.80" x2="252.20" y2="277.60" stroke="#111" stroke-width="1.1"/><line x1="265.30" y1="268.80" x2="279.10" y2="277.60" stroke="#111" stroke-width="1.1"/><line x1="292.20" y1="268.80" x2="279.10" y2="277.60" stroke="#111" stroke-width="1.1"/><line x1="292.20" y1="268.80" x2="306.00" y2="277.60" stroke="#111" stroke-width="1.1"/><line x1="319.10" y1="268.80" x2="306.00" y2="277.60" stroke="#111" stroke-width="1.1"/><line x1="117.70" y1="277.60" x2="117.70" y2="292.30" stroke="#111" stroke-width="1.1"/><line x1="144.60" y1="277.60" x2="144.60" y2="292.30" stroke="#111" stroke-width="1.1"/><line x1="171.50" y1="277.60" x2="171.50" y2="292.30" stroke="#111" stroke-width="1.1"/><line x1="198.40" y1="277.60" x2="198.40" y2="292.30" stroke="#111" stroke-width="1.1"/><line x1="225.30" y1="277.60" x2="225.30" y2="292.30" stroke="#111" stroke-width="1.1"/><line x1="252.20" y1="277.60" x2="252.20" y2="292.30" stroke="#111" stroke-width="1.1"/><line x1="279.10" y1="277.60" x2="279.10" y2="292.30" stroke="#111" stroke-width="1.1"/><line x1="306.00" y1="277.60" x2="306.00" y2="292.30" stroke="#111" stroke-width="1.1"/><line x1="117.70" y1="292.30" x2="130.80" y2="299.60" stroke="#111" stroke-width="1.1"/><line x1="144.60" y1="292.30" x2="130.80" y2="299.60" stroke="#111" stroke-width="1.1"/><line x1="144.60" y1="292.30" x2="157.70" y2="299.60" stroke="#111" stroke-width="1.1"/><line x1="171.50" y1="292.30" x2="157.70" y2="299.60" stroke="#111" stroke-width="1.1"/><line x1="171.50" y1="292.30" x2="184.60" y2="299.60" stroke="#111" stroke-width="1.1"/><line x1="198.40" y1="292.30" x2="184.60" y2="299.60" stroke="#111" stroke-width="1.1"/><line x1="198.40" y1="292.30" x2="211.50" y2="299.60" stroke="#111" stroke-width="1.1"/><line x1="225.30" y1="292.30" x2="211.50" y2="299.60" stroke="#111" stroke-width="1.1"/><line x1="225.30" y1="292.30" x2="238.40" y2="299.60" stroke="#111" stroke-width="1.1"/><line x1="252.20" y1="292.30" x2="238.40" y2="299.60" stroke="#111" stroke-width="1.1"/><line x1="252.20" y1="292.30" x2="265.30" y2="299.60" stroke="#111" stroke-width="1.1"/><line x1="279.10" y1="292.30" x2="265.30" y2="299.60" stroke="#111" stroke-width="1.1"/><line x1="279.10" y1="292.30" x2="292.20" y2="299.60" stroke="#111" stroke-width="1.1"/><line x1="306.00" y1="292.30" x2="292.20" y2="299.60" stroke="#111" stroke-width="1.1"/><line x1="306.00" y1="292.30" x2="319.10" y2="299.60" stroke="#111" stroke-width="1.1"/><line x1="130.80" y1="299.60" x2="130.80" y2="315.30" stroke="#111" stroke-width="1.1"/><line x1="157.70" y1="299.60" x2="157.70" y2="315.30" stroke="#111" stroke-width="1.1"/><line x1="184.60" y1="299.60" x2="184.60" y2="315.30" stroke="#111" stroke-width="1.1"/><line x1="211.50" y1="299.60" x2="211.50" y2="315.30" stroke="#111" stroke-width="1.1"/><line x1="238.40" y1="299.60" x2="238.40" y2="315.30" stroke="#111" stroke-width="1.1"/><line x1="265.30" y1="299.60" x2="265.30" y2="315.30" stroke="#111" stroke-width="1.1"/><line x1="292.20" y1="299.60" x2="292.20" y2="315.30" stroke="#111" stroke-width="1.1"/><line x1="319.10" y1="299.60" x2="319.10" y2="315.30" stroke="#111" stroke-width="1.1"/><line x1="130.80" y1="315.30" x2="117.70" y2="321.00" stroke="#111" stroke-width="1.1"/><line x1="130.80" y1="315.30" x2="144.60" y2="321.00" stroke="#111" stroke-width="1.1"/><line x1="157.70" y1="315.30" x2="144.60" y2="321.00" stroke="#111" stroke-width="1.1"/><line x1="157.70" y1="315.30" x2="171.50" y2="321.00" stroke="#111" stroke-width="1.1"/><line x1="184.60" y1="315.30" x2="171.50" y2="321.00" stroke="#111" stroke-width="1.1"/><line x1="184.60" y1="315.30" x2="198.40" y2="321.00" stroke="#111" stroke-width="1.1"/><line x1="211.50" y1="315.30" x2="198.40" y2="321.00" stroke="#111" stroke-width="1.1"/><line x1="211.50" y1="315.30" x2="225.30" y2="321.00" stroke="#111" stroke-width="1.1"/><line x1="238.40" y1="315.30" x2="225.30" y2="321.00" stroke="#111" stroke-width="1.1"/><line x1="238.40" y1="315.30" x2="252.20" y2="321.00" stroke="#111" stroke-width="1.1"/><line x1="265.30" y1="315.30" x2="252.20" y2="321.00" stroke="#111" stroke-width="1.1"/><line x1="265.30" y1="315.30" x2="279.10" y2="321.00" stroke="#111" stroke-width="1.1"/><line x1="292.20" y1="315.30" x2="279.10" y2="321.00" stroke="#111" stroke-width="1.1"/><line x1="292.20" y1="315.30" x2="306.00" y2="321.00" stroke="#111" stroke-width="1.1"/><line x1="319.10" y1="315.30" x2="306.00" y2="321.00" stroke="#111" stroke-width="1.1"/>
<circle cx="130.80" cy="255.20" r="2.6" fill="#e584ef"/>
<circle cx="157.70" cy="255.20" r="2.6" fill="#e584ef"/>
<circle cx="184.60" cy="255.20" r="2.6" fill="#e584ef"/>
<circle cx="211.50" cy="255.20" r="2.6" fill="#e584ef"/>
<circle cx="238.40" cy="255.20" r="2.6" fill="#e584ef"/>
<circle cx="265.30" cy="255.20" r="2.6" fill="#e584ef"/>
<circle cx="292.20" cy="255.20" r="2.6" fill="#e584ef"/>
<circle cx="319.10" cy="255.20" r="2.6" fill="#e584ef"/>
<circle cx="130.80" cy="268.80" r="2.6" fill="#c400c4"/>
<circle cx="157.70" cy="268.80" r="2.6" fill="#c400c4"/>
<circle cx="184.60" cy="268.80" r="2.6" fill="#c400c4"/>
<circle cx="211.50" cy="268.80" r="2.6" fill="#c400c4"/>
<circle cx="238.40" cy="268.80" r="2.6" fill="#c400c4"/>
<circle cx="265.30" cy="268.80" r="2.6" fill="#c400c4"/>
<circle cx="292.20" cy="268.80" r="2.6" fill="#c400c4"/>
<circle cx="319.10" cy="268.80" r="2.6" fill="#c400c4"/>
<circle cx="117.70" cy="277.60" r="2.6" fill="#e584ef"/>
<circle cx="144.60" cy="277.60" r="2.6" fill="#e584ef"/>
<circle cx="171.50" cy="277.60" r="2.6" fill="#e584ef"/>
<circle cx="198.40" cy="277.60" r="2.6" fill="#e584ef"/>
<circle cx="225.30" cy="277.60" r="2.6" fill="#e584ef"/>
<circle cx="252.20" cy="277.60" r="2.6" fill="#e584ef"/>
<circle cx="279.10" cy="277.60" r="2.6" fill="#e584ef"/>
<circle cx="306.00" cy="277.60" r="2.6" fill="#e584ef"/>
<circle cx="117.70" cy="292.30" r="2.6" fill="#c400c4"/>
<circle cx="144.60" cy="292.30" r="2.6" fill="#c400c4"/>
<circle cx="171.50" cy="292.30" r="2.6" fill="#c400c4"/>
<circle cx="198.40" cy="292.30" r="2.6" fill="#c400c4"/>
<circle cx="225.30" cy="292.30" r="2.6" fill="#dc2ddc"/>
<circle cx="252.20" cy="292.30" r="2.6" fill="#c400c4"/>
<circle cx="279.10" cy="292.30" r="2.6" fill="#c400c4"/>
<circle cx="306.00" cy="292.30" r="2.6" fill="#c400c4"/>
<circle cx="130.80" cy="299.60" r="2.6" fill="#e584ef"/>
<circle cx="157.70" cy="299.60" r="2.6" fill="#e584ef"/>
<circle cx="184.60" cy="299.60" r="2.6" fill="#e584ef"/>
<circle cx="211.50" cy="299.60" r="2.6" fill="#e584ef"/>
<circle cx="238.40" cy="299.60" r="2.6" fill="#e584ef"/>
<circle cx="265.30" cy="299.60" r="2.6" fill="#e584ef"/>
<circle cx="292.20" cy="299.60" r="2.6" fill="#e584ef"/>
<circle cx="319.10" cy="299.60" r="2.6" fill="#e584ef"/>
<circle cx="130.80" cy="315.30" r="2.6" fill="#c400c4"/>
<circle cx="157.70" cy="315.30" r="2.6" fill="#c400c4"/>
<circle cx="184.60" cy="315.30" r="2.6" fill="#c400c4"/>
<circle cx="211.50" cy="315.30" r="2.6" fill="#c400c4"/>
<circle cx="238.40" cy="315.30" r="2.6" fill="#c400c4"/>
<circle cx="265.30" cy="315.30" r="2.6" fill="#c400c4"/>
<circle cx="292.20" cy="315.30" r="2.6" fill="#c400c4"/>
<circle cx="319.10" cy="315.30" r="2.6" fill="#c400c4"/>
<circle cx="117.70" cy="321.00" r="2.6" fill="#e584ef"/>
<circle cx="144.60" cy="321.00" r="2.6" fill="#e584ef"/>
<circle cx="171.50" cy="321.00" r="2.6" fill="#e584ef"/>
<circle cx="198.40" cy="321.00" r="2.6" fill="#e584ef"/>
<circle cx="225.30" cy="321.00" r="2.6" fill="#e584ef"/>
<circle cx="252.20" cy="321.00" r="2.6" fill="#e584ef"/>
<circle cx="279.10" cy="321.00" r="2.6" fill="#e584ef"/>
<circle cx="306.00" cy="321.00" r="2.6" fill="#e584ef"/>
</g>
<rect x="184.6" y="252.8" width="81.1" height="69.39999999999998" fill="none" stroke="#000" stroke-width="2.7"/>
<clipPath id="tc"><rect x="394.6" y="253.0" width="81.79999999999995" height="69.19999999999999"/></clipPath>
<rect x="394.6" y="253.0" width="81.79999999999995" height="69.19999999999999" fill="#f6f6fc"/>
<g clip-path="url(#tc)">
<path d="M423.1,298.5 L449.5,298.5 L462.7,276.6 L436.3,276.6 Z" fill="#fa8f8f"/>
<line x1="343.90" y1="255.30" x2="357.10" y2="276.60" stroke="#111" stroke-width="1.1"/><line x1="370.30" y1="255.30" x2="357.10" y2="276.60" stroke="#111" stroke-width="1.1"/><line x1="370.30" y1="255.30" x2="383.50" y2="276.60" stroke="#111" stroke-width="1.1"/><line x1="396.70" y1="255.30" x2="383.50" y2="276.60" stroke="#111" stroke-width="1.1"/><line x1="396.70" y1="255.30" x2="409.90" y2="276.60" stroke="#111" stroke-width="1.1"/><line x1="423.10" y1="255.30" x2="409.90" y2="276.60" stroke="#111" stroke-width="1.1"/><line x1="423.10" y1="255.30" x2="436.30" y2="276.60" stroke="#111" stroke-width="1.1"/><line x1="449.50" y1="255.30" x2="436.30" y2="276.60" stroke="#111" stroke-width="1.1"/><line x1="449.50" y1="255.30" x2="462.70" y2="276.60" stroke="#111" stroke-width="1.1"/><line x1="475.90" y1="255.30" x2="462.70" y2="276.60" stroke="#111" stroke-width="1.1"/><line x1="475.90" y1="255.30" x2="489.10" y2="276.60" stroke="#111" stroke-width="1.1"/><line x1="502.30" y1="255.30" x2="489.10" y2="276.60" stroke="#111" stroke-width="1.1"/><line x1="502.30" y1="255.30" x2="515.50" y2="276.60" stroke="#111" stroke-width="1.1"/><line x1="357.10" y1="276.60" x2="383.50" y2="276.60" stroke="#111" stroke-width="1.1"/><line x1="357.10" y1="276.60" x2="343.90" y2="298.50" stroke="#111" stroke-width="1.1"/><line x1="357.10" y1="276.60" x2="370.30" y2="298.50" stroke="#111" stroke-width="1.1"/><line x1="383.50" y1="276.60" x2="409.90" y2="276.60" stroke="#111" stroke-width="1.1"/><line x1="383.50" y1="276.60" x2="370.30" y2="298.50" stroke="#111" stroke-width="1.1"/><line x1="383.50" y1="276.60" x2="396.70" y2="298.50" stroke="#111" stroke-width="1.1"/><line x1="409.90" y1="276.60" x2="436.30" y2="276.60" stroke="#111" stroke-width="1.1"/><line x1="409.90" y1="276.60" x2="396.70" y2="298.50" stroke="#111" stroke-width="1.1"/><line x1="409.90" y1="276.60" x2="423.10" y2="298.50" stroke="#111" stroke-width="1.1"/><line x1="436.30" y1="276.60" x2="462.70" y2="276.60" stroke="#111" stroke-width="1.1"/><line x1="436.30" y1="276.60" x2="423.10" y2="298.50" stroke="#111" stroke-width="1.1"/><line x1="436.30" y1="276.60" x2="449.50" y2="298.50" stroke="#111" stroke-width="1.1"/><line x1="462.70" y1="276.60" x2="489.10" y2="276.60" stroke="#111" stroke-width="1.1"/><line x1="462.70" y1="276.60" x2="449.50" y2="298.50" stroke="#111" stroke-width="1.1"/><line x1="462.70" y1="276.60" x2="475.90" y2="298.50" stroke="#111" stroke-width="1.1"/><line x1="489.10" y1="276.60" x2="515.50" y2="276.60" stroke="#111" stroke-width="1.1"/><line x1="489.10" y1="276.60" x2="475.90" y2="298.50" stroke="#111" stroke-width="1.1"/><line x1="489.10" y1="276.60" x2="502.30" y2="298.50" stroke="#111" stroke-width="1.1"/><line x1="515.50" y1="276.60" x2="502.30" y2="298.50" stroke="#111" stroke-width="1.1"/><line x1="343.90" y1="298.50" x2="370.30" y2="298.50" stroke="#111" stroke-width="1.1"/><line x1="343.90" y1="298.50" x2="357.10" y2="319.80" stroke="#111" stroke-width="1.1"/><line x1="370.30" y1="298.50" x2="396.70" y2="298.50" stroke="#111" stroke-width="1.1"/><line x1="370.30" y1="298.50" x2="357.10" y2="319.80" stroke="#111" stroke-width="1.1"/><line x1="370.30" y1="298.50" x2="383.50" y2="319.80" stroke="#111" stroke-width="1.1"/><line x1="396.70" y1="298.50" x2="423.10" y2="298.50" stroke="#111" stroke-width="1.1"/><line x1="396.70" y1="298.50" x2="383.50" y2="319.80" stroke="#111" stroke-width="1.1"/><line x1="396.70" y1="298.50" x2="409.90" y2="319.80" stroke="#111" stroke-width="1.1"/><line x1="423.10" y1="298.50" x2="449.50" y2="298.50" stroke="#111" stroke-width="1.1"/><line x1="423.10" y1="298.50" x2="409.90" y2="319.80" stroke="#111" stroke-width="1.1"/><line x1="423.10" y1="298.50" x2="436.30" y2="319.80" stroke="#111" stroke-width="1.1"/><line x1="449.50" y1="298.50" x2="475.90" y2="298.50" stroke="#111" stroke-width="1.1"/><line x1="449.50" y1="298.50" x2="436.30" y2="319.80" stroke="#111" stroke-width="1.1"/><line x1="449.50" y1="298.50" x2="462.70" y2="319.80" stroke="#111" stroke-width="1.1"/><line x1="475.90" y1="298.50" x2="502.30" y2="298.50" stroke="#111" stroke-width="1.1"/><line x1="475.90" y1="298.50" x2="462.70" y2="319.80" stroke="#111" stroke-width="1.1"/><line x1="475.90" y1="298.50" x2="489.10" y2="319.80" stroke="#111" stroke-width="1.1"/><line x1="502.30" y1="298.50" x2="489.10" y2="319.80" stroke="#111" stroke-width="1.1"/><line x1="502.30" y1="298.50" x2="515.50" y2="319.80" stroke="#111" stroke-width="1.1"/>
<circle cx="343.90" cy="255.30" r="2.5" fill="#ff0000"/>
<circle cx="370.30" cy="255.30" r="2.5" fill="#ff0000"/>
<circle cx="396.70" cy="255.30" r="2.5" fill="#ff0000"/>
<circle cx="423.10" cy="255.30" r="2.5" fill="#ff0000"/>
<circle cx="449.50" cy="255.30" r="2.5" fill="#ff0000"/>
<circle cx="475.90" cy="255.30" r="2.5" fill="#ff0000"/>
<circle cx="502.30" cy="255.30" r="2.5" fill="#ff0000"/>
<circle cx="357.10" cy="276.60" r="2.5" fill="#ff0000"/>
<circle cx="383.50" cy="276.60" r="2.5" fill="#ff0000"/>
<circle cx="409.90" cy="276.60" r="2.5" fill="#ff0000"/>
<circle cx="436.30" cy="276.60" r="2.5" fill="#ff0000"/>
<circle cx="462.70" cy="276.60" r="2.5" fill="#ff0000"/>
<circle cx="489.10" cy="276.60" r="2.5" fill="#ff0000"/>
<circle cx="515.50" cy="276.60" r="2.5" fill="#ff0000"/>
<circle cx="343.90" cy="298.50" r="2.5" fill="#ff0000"/>
<circle cx="370.30" cy="298.50" r="2.5" fill="#ff0000"/>
<circle cx="396.70" cy="298.50" r="2.5" fill="#ff0000"/>
<circle cx="423.10" cy="298.50" r="2.5" fill="#ff0000"/>
<circle cx="449.50" cy="298.50" r="2.5" fill="#ff0000"/>
<circle cx="475.90" cy="298.50" r="2.5" fill="#ff0000"/>
<circle cx="502.30" cy="298.50" r="2.5" fill="#ff0000"/>
<circle cx="357.10" cy="319.80" r="2.5" fill="#ff0000"/>
<circle cx="383.50" cy="319.80" r="2.5" fill="#ff0000"/>
<circle cx="409.90" cy="319.80" r="2.5" fill="#ff0000"/>
<circle cx="436.30" cy="319.80" r="2.5" fill="#ff0000"/>
<circle cx="462.70" cy="319.80" r="2.5" fill="#ff0000"/>
<circle cx="489.10" cy="319.80" r="2.5" fill="#ff0000"/>
<circle cx="515.50" cy="319.80" r="2.5" fill="#ff0000"/>
</g>
<rect x="394.6" y="253.0" width="81.79999999999995" height="69.19999999999999" fill="none" stroke="#000" stroke-width="2.7"/>
<text x="26.00" y="15.80" font-size="17.5" font-weight="normal" fill="#000" textLength="8.96" lengthAdjust="spacingAndGlyphs" ><tspan font-weight="bold">a</tspan></text>
<text x="25.08" y="334.90" font-size="17.5" font-weight="normal" fill="#000" textLength="12.01" lengthAdjust="spacingAndGlyphs" ><tspan font-weight="bold">b</tspan></text>
<text x="26.00" y="620.60" font-size="17.5" font-weight="normal" fill="#000" textLength="10.28" lengthAdjust="spacingAndGlyphs" ><tspan font-weight="bold">c</tspan></text>
<text x="48.64" y="27.30" font-size="12.4" font-weight="normal" fill="#111" textLength="34.14" lengthAdjust="spacingAndGlyphs" ><tspan font-style="italic">V</tspan><tspan font-size="9.42" dy="3.30">E</tspan><tspan dy="-3.30"> = 0</tspan></text>
<text x="47.93" y="340.50" font-size="12.4" font-weight="normal" fill="#111" textLength="53.00" lengthAdjust="spacingAndGlyphs" ><tspan font-style="italic">V</tspan><tspan font-size="9.42" dy="3.30">E</tspan><tspan dy="-3.30"> = +3 V</tspan></text>
<text x="49.53" y="624.30" font-size="12.4" font-weight="normal" fill="#111" textLength="62.82" lengthAdjust="spacingAndGlyphs" ><tspan font-style="italic">V</tspan><tspan font-size="9.42" dy="3.30">E</tspan><tspan dy="-3.30"> = +2.3 V</tspan></text>
<text x="214.65" y="21.60" font-size="13.2" font-weight="normal" fill="#111" textLength="273.28" lengthAdjust="spacingAndGlyphs" >Γ-orbital charge-transfer insulator (2 orbitals)</text>
<text x="167.85" y="338.70" font-size="13.2" font-weight="normal" fill="#111" textLength="317.84" lengthAdjust="spacingAndGlyphs" >Γ- and K-orbital charge-transfer insulator (2 orbitals)</text>
<text x="201.25" y="625.70" font-size="13.2" font-weight="normal" fill="#111" textLength="300.94" lengthAdjust="spacingAndGlyphs" >Interplay of Γ and K correlated states in 3 orbitals</text>
<text transform="translate(10.90,225.32) rotate(-90)" x="0" y="0" font-size="12.3" font-weight="normal" fill="#111" textLength="174.71" lengthAdjust="spacingAndGlyphs" >Experiment and Monte Carlo</text>
<text transform="translate(11.00,544.12) rotate(-90)" x="0" y="0" font-size="12.3" font-weight="normal" fill="#111" textLength="174.61" lengthAdjust="spacingAndGlyphs" >Experiment and Monte Carlo</text>
<text transform="translate(11.60,822.82) rotate(-90)" x="0" y="0" font-size="12.3" font-weight="normal" fill="#111" textLength="155.78" lengthAdjust="spacingAndGlyphs" >Experimental observation</text>
<text x="45.18" y="57.50" font-size="10.2" font-weight="normal" fill="#222" textLength="11.57" lengthAdjust="spacingAndGlyphs" >10</text>
<text x="50.30" y="95.60" font-size="10.2" font-weight="normal" fill="#222" textLength="5.77" lengthAdjust="spacingAndGlyphs" >0</text>
<text x="41.00" y="133.70" font-size="10.2" font-weight="normal" fill="#222" textLength="15.65" lengthAdjust="spacingAndGlyphs" >−10</text>
<text transform="translate(35.30,108.03) rotate(-90)" x="0" y="0" font-size="12.0" font-weight="normal" fill="#222" textLength="33.03" lengthAdjust="spacingAndGlyphs" ><tspan font-style="italic">y</tspan> (nm)</text>
<text x="45.18" y="154.20" font-size="10.2" font-weight="normal" fill="#222" textLength="11.57" lengthAdjust="spacingAndGlyphs" >10</text>
<text x="50.30" y="192.30" font-size="10.2" font-weight="normal" fill="#222" textLength="5.77" lengthAdjust="spacingAndGlyphs" >0</text>
<text x="41.00" y="230.40" font-size="10.2" font-weight="normal" fill="#222" textLength="15.65" lengthAdjust="spacingAndGlyphs" >−10</text>
<text x="59.60" y="247.00" font-size="10.2" font-weight="normal" fill="#222" textLength="15.55" lengthAdjust="spacingAndGlyphs" >−10</text>
<text x="103.80" y="247.00" font-size="10.2" font-weight="normal" fill="#222" textLength="5.58" lengthAdjust="spacingAndGlyphs" >0</text>
<text x="138.96" y="247.00" font-size="10.2" font-weight="normal" fill="#222" textLength="11.80" lengthAdjust="spacingAndGlyphs" >10</text>
<text x="89.30" y="264.20" font-size="11.5" font-weight="normal" fill="#222" textLength="35.55" lengthAdjust="spacingAndGlyphs" ><tspan font-style="italic">x</tspan> (nm)</text>
<text transform="translate(35.30,204.73) rotate(-90)" x="0" y="0" font-size="12.0" font-weight="normal" fill="#222" textLength="33.03" lengthAdjust="spacingAndGlyphs" ><tspan font-style="italic">y</tspan> (nm)</text>
<text x="268.88" y="58.30" font-size="10.2" font-weight="normal" fill="#222" textLength="11.57" lengthAdjust="spacingAndGlyphs" >10</text>
<text x="274.00" y="96.40" font-size="10.2" font-weight="normal" fill="#222" textLength="5.77" lengthAdjust="spacingAndGlyphs" >0</text>
<text x="264.70" y="134.50" font-size="10.2" font-weight="normal" fill="#222" textLength="15.65" lengthAdjust="spacingAndGlyphs" >−10</text>
<text transform="translate(259.00,108.83) rotate(-90)" x="0" y="0" font-size="12.0" font-weight="normal" fill="#222" textLength="33.03" lengthAdjust="spacingAndGlyphs" ><tspan font-style="italic">y</tspan> (nm)</text>
<text x="268.88" y="154.10" font-size="10.2" font-weight="normal" fill="#222" textLength="11.57" lengthAdjust="spacingAndGlyphs" >10</text>
<text x="274.00" y="192.20" font-size="10.2" font-weight="normal" fill="#222" textLength="5.77" lengthAdjust="spacingAndGlyphs" >0</text>
<text x="264.70" y="230.30" font-size="10.2" font-weight="normal" fill="#222" textLength="15.65" lengthAdjust="spacingAndGlyphs" >−10</text>
<text x="283.30" y="246.90" font-size="10.2" font-weight="normal" fill="#222" textLength="15.55" lengthAdjust="spacingAndGlyphs" >−10</text>
<text x="327.50" y="246.90" font-size="10.2" font-weight="normal" fill="#222" textLength="5.58" lengthAdjust="spacingAndGlyphs" >0</text>
<text x="362.66" y="246.90" font-size="10.2" font-weight="normal" fill="#222" textLength="11.80" lengthAdjust="spacingAndGlyphs" >10</text>
<text x="313.00" y="264.10" font-size="11.5" font-weight="normal" fill="#222" textLength="35.55" lengthAdjust="spacingAndGlyphs" ><tspan font-style="italic">x</tspan> (nm)</text>
<text transform="translate(259.00,204.63) rotate(-90)" x="0" y="0" font-size="12.0" font-weight="normal" fill="#222" textLength="33.03" lengthAdjust="spacingAndGlyphs" ><tspan font-style="italic">y</tspan> (nm)</text>
<text x="493.98" y="57.50" font-size="10.2" font-weight="normal" fill="#222" textLength="11.57" lengthAdjust="spacingAndGlyphs" >10</text>
<text x="499.10" y="95.60" font-size="10.2" font-weight="normal" fill="#222" textLength="5.77" lengthAdjust="spacingAndGlyphs" >0</text>
<text x="489.80" y="133.70" font-size="10.2" font-weight="normal" fill="#222" textLength="15.65" lengthAdjust="spacingAndGlyphs" >−10</text>
<text transform="translate(484.10,108.03) rotate(-90)" x="0" y="0" font-size="12.0" font-weight="normal" fill="#222" textLength="33.03" lengthAdjust="spacingAndGlyphs" ><tspan font-style="italic">y</tspan> (nm)</text>
<text x="493.98" y="154.20" font-size="10.2" font-weight="normal" fill="#222" textLength="11.57" lengthAdjust="spacingAndGlyphs" >10</text>
<text x="499.10" y="192.30" font-size="10.2" font-weight="normal" fill="#222" textLength="5.77" lengthAdjust="spacingAndGlyphs" >0</text>
<text x="489.80" y="230.40" font-size="10.2" font-weight="normal" fill="#222" textLength="15.65" lengthAdjust="spacingAndGlyphs" >−10</text>
<text x="508.40" y="247.00" font-size="10.2" font-weight="normal" fill="#222" textLength="15.55" lengthAdjust="spacingAndGlyphs" >−10</text>
<text x="552.60" y="247.00" font-size="10.2" font-weight="normal" fill="#222" textLength="5.58" lengthAdjust="spacingAndGlyphs" >0</text>
<text x="587.76" y="247.00" font-size="10.2" font-weight="normal" fill="#222" textLength="11.80" lengthAdjust="spacingAndGlyphs" >10</text>
<text x="538.10" y="264.20" font-size="11.5" font-weight="normal" fill="#222" textLength="35.55" lengthAdjust="spacingAndGlyphs" ><tspan font-style="italic">x</tspan> (nm)</text>
<text transform="translate(484.10,204.73) rotate(-90)" x="0" y="0" font-size="12.0" font-weight="normal" fill="#222" textLength="33.03" lengthAdjust="spacingAndGlyphs" ><tspan font-style="italic">y</tspan> (nm)</text>
<text x="45.08" y="373.20" font-size="10.2" font-weight="normal" fill="#222" textLength="11.57" lengthAdjust="spacingAndGlyphs" >10</text>
<text x="50.20" y="411.30" font-size="10.2" font-weight="normal" fill="#222" textLength="5.77" lengthAdjust="spacingAndGlyphs" >0</text>
<text x="40.90" y="449.40" font-size="10.2" font-weight="normal" fill="#222" textLength="15.65" lengthAdjust="spacingAndGlyphs" >−10</text>
<text transform="translate(35.20,423.73) rotate(-90)" x="0" y="0" font-size="12.0" font-weight="normal" fill="#222" textLength="33.03" lengthAdjust="spacingAndGlyphs" ><tspan font-style="italic">y</tspan> (nm)</text>
<text x="45.08" y="469.20" font-size="10.2" font-weight="normal" fill="#222" textLength="11.57" lengthAdjust="spacingAndGlyphs" >10</text>
<text x="50.20" y="507.30" font-size="10.2" font-weight="normal" fill="#222" textLength="5.77" lengthAdjust="spacingAndGlyphs" >0</text>
<text x="40.90" y="545.40" font-size="10.2" font-weight="normal" fill="#222" textLength="15.65" lengthAdjust="spacingAndGlyphs" >−10</text>
<text x="59.50" y="562.00" font-size="10.2" font-weight="normal" fill="#222" textLength="15.55" lengthAdjust="spacingAndGlyphs" >−10</text>
<text x="103.70" y="562.00" font-size="10.2" font-weight="normal" fill="#222" textLength="5.58" lengthAdjust="spacingAndGlyphs" >0</text>
<text x="138.86" y="562.00" font-size="10.2" font-weight="normal" fill="#222" textLength="11.80" lengthAdjust="spacingAndGlyphs" >10</text>
<text x="89.20" y="579.20" font-size="11.5" font-weight="normal" fill="#222" textLength="35.55" lengthAdjust="spacingAndGlyphs" ><tspan font-style="italic">x</tspan> (nm)</text>
<text transform="translate(35.20,519.73) rotate(-90)" x="0" y="0" font-size="12.0" font-weight="normal" fill="#222" textLength="33.03" lengthAdjust="spacingAndGlyphs" ><tspan font-style="italic">y</tspan> (nm)</text>
<text x="268.98" y="373.80" font-size="10.2" font-weight="normal" fill="#222" textLength="11.57" lengthAdjust="spacingAndGlyphs" >10</text>
<text x="274.10" y="411.90" font-size="10.2" font-weight="normal" fill="#222" textLength="5.77" lengthAdjust="spacingAndGlyphs" >0</text>
<text x="264.80" y="450.00" font-size="10.2" font-weight="normal" fill="#222" textLength="15.65" lengthAdjust="spacingAndGlyphs" >−10</text>
<text transform="translate(259.10,424.33) rotate(-90)" x="0" y="0" font-size="12.0" font-weight="normal" fill="#222" textLength="33.03" lengthAdjust="spacingAndGlyphs" ><tspan font-style="italic">y</tspan> (nm)</text>
<text x="268.98" y="468.80" font-size="10.2" font-weight="normal" fill="#222" textLength="11.57" lengthAdjust="spacingAndGlyphs" >10</text>
<text x="274.10" y="506.90" font-size="10.2" font-weight="normal" fill="#222" textLength="5.77" lengthAdjust="spacingAndGlyphs" >0</text>
<text x="264.80" y="545.00" font-size="10.2" font-weight="normal" fill="#222" textLength="15.65" lengthAdjust="spacingAndGlyphs" >−10</text>
<text x="281.00" y="566.30" font-size="10.2" font-weight="normal" fill="#222" textLength="15.55" lengthAdjust="spacingAndGlyphs" >−10</text>
<text x="325.20" y="566.30" font-size="10.2" font-weight="normal" fill="#222" textLength="5.58" lengthAdjust="spacingAndGlyphs" >0</text>
<text x="360.36" y="566.30" font-size="10.2" font-weight="normal" fill="#222" textLength="11.80" lengthAdjust="spacingAndGlyphs" >10</text>
<text x="310.70" y="584.80" font-size="11.5" font-weight="normal" fill="#222" textLength="35.55" lengthAdjust="spacingAndGlyphs" ><tspan font-style="italic">x</tspan> (nm)</text>
<text transform="translate(259.10,519.33) rotate(-90)" x="0" y="0" font-size="12.0" font-weight="normal" fill="#222" textLength="33.03" lengthAdjust="spacingAndGlyphs" ><tspan font-style="italic">y</tspan> (nm)</text>
<text x="493.98" y="373.10" font-size="10.2" font-weight="normal" fill="#222" textLength="11.57" lengthAdjust="spacingAndGlyphs" >10</text>
<text x="499.10" y="411.20" font-size="10.2" font-weight="normal" fill="#222" textLength="5.77" lengthAdjust="spacingAndGlyphs" >0</text>
<text x="487.20" y="449.30" font-size="10.2" font-weight="normal" fill="#222" textLength="15.65" lengthAdjust="spacingAndGlyphs" >−10</text>
<text transform="translate(484.10,423.63) rotate(-90)" x="0" y="0" font-size="12.0" font-weight="normal" fill="#222" textLength="33.03" lengthAdjust="spacingAndGlyphs" ><tspan font-style="italic">y</tspan> (nm)</text>
<text x="491.38" y="469.40" font-size="10.2" font-weight="normal" fill="#222" textLength="11.57" lengthAdjust="spacingAndGlyphs" >10</text>
<text x="497.60" y="507.50" font-size="10.2" font-weight="normal" fill="#222" textLength="5.77" lengthAdjust="spacingAndGlyphs" >0</text>
<text x="487.20" y="545.60" font-size="10.2" font-weight="normal" fill="#222" textLength="15.65" lengthAdjust="spacingAndGlyphs" >−10</text>
<text x="506.40" y="565.90" font-size="10.2" font-weight="normal" fill="#222" textLength="15.55" lengthAdjust="spacingAndGlyphs" >−10</text>
<text x="550.60" y="565.90" font-size="10.2" font-weight="normal" fill="#222" textLength="5.58" lengthAdjust="spacingAndGlyphs" >0</text>
<text x="585.76" y="565.90" font-size="10.2" font-weight="normal" fill="#222" textLength="11.80" lengthAdjust="spacingAndGlyphs" >10</text>
<text x="535.50" y="584.60" font-size="11.5" font-weight="normal" fill="#222" textLength="35.55" lengthAdjust="spacingAndGlyphs" ><tspan font-style="italic">x</tspan> (nm)</text>
<text transform="translate(484.10,519.93) rotate(-90)" x="0" y="0" font-size="12.0" font-weight="normal" fill="#222" textLength="33.03" lengthAdjust="spacingAndGlyphs" ><tspan font-style="italic">y</tspan> (nm)</text>
<text x="44.48" y="658.80" font-size="10.2" font-weight="normal" fill="#222" textLength="11.57" lengthAdjust="spacingAndGlyphs" >10</text>
<text x="49.60" y="696.90" font-size="10.2" font-weight="normal" fill="#222" textLength="5.77" lengthAdjust="spacingAndGlyphs" >0</text>
<text x="40.30" y="735.00" font-size="10.2" font-weight="normal" fill="#222" textLength="15.65" lengthAdjust="spacingAndGlyphs" >−10</text>
<text transform="translate(34.60,709.33) rotate(-90)" x="0" y="0" font-size="12.0" font-weight="normal" fill="#222" textLength="33.03" lengthAdjust="spacingAndGlyphs" ><tspan font-style="italic">y</tspan> (nm)</text>
<text x="44.48" y="755.40" font-size="10.2" font-weight="normal" fill="#222" textLength="11.57" lengthAdjust="spacingAndGlyphs" >10</text>
<text x="49.60" y="793.50" font-size="10.2" font-weight="normal" fill="#222" textLength="5.77" lengthAdjust="spacingAndGlyphs" >0</text>
<text x="40.30" y="831.60" font-size="10.2" font-weight="normal" fill="#222" textLength="15.65" lengthAdjust="spacingAndGlyphs" >−10</text>
<text x="58.90" y="848.20" font-size="10.2" font-weight="normal" fill="#222" textLength="15.55" lengthAdjust="spacingAndGlyphs" >−10</text>
<text x="103.10" y="848.20" font-size="10.2" font-weight="normal" fill="#222" textLength="5.58" lengthAdjust="spacingAndGlyphs" >0</text>
<text x="138.26" y="848.20" font-size="10.2" font-weight="normal" fill="#222" textLength="11.80" lengthAdjust="spacingAndGlyphs" >10</text>
<text x="88.60" y="865.40" font-size="11.5" font-weight="normal" fill="#222" textLength="35.55" lengthAdjust="spacingAndGlyphs" ><tspan font-style="italic">x</tspan> (nm)</text>
<text transform="translate(34.60,805.93) rotate(-90)" x="0" y="0" font-size="12.0" font-weight="normal" fill="#222" textLength="33.03" lengthAdjust="spacingAndGlyphs" ><tspan font-style="italic">y</tspan> (nm)</text>
<text x="268.68" y="661.70" font-size="10.2" font-weight="normal" fill="#222" textLength="11.57" lengthAdjust="spacingAndGlyphs" >10</text>
<text x="273.80" y="699.80" font-size="10.2" font-weight="normal" fill="#222" textLength="5.77" lengthAdjust="spacingAndGlyphs" >0</text>
<text x="264.50" y="737.90" font-size="10.2" font-weight="normal" fill="#222" textLength="15.65" lengthAdjust="spacingAndGlyphs" >−10</text>
<text transform="translate(258.80,712.23) rotate(-90)" x="0" y="0" font-size="12.0" font-weight="normal" fill="#222" textLength="33.03" lengthAdjust="spacingAndGlyphs" ><tspan font-style="italic">y</tspan> (nm)</text>
<text x="268.68" y="754.70" font-size="10.2" font-weight="normal" fill="#222" textLength="11.57" lengthAdjust="spacingAndGlyphs" >10</text>
<text x="273.80" y="792.80" font-size="10.2" font-weight="normal" fill="#222" textLength="5.77" lengthAdjust="spacingAndGlyphs" >0</text>
<text x="264.50" y="830.90" font-size="10.2" font-weight="normal" fill="#222" textLength="15.65" lengthAdjust="spacingAndGlyphs" >−10</text>
<text x="283.10" y="848.50" font-size="10.2" font-weight="normal" fill="#222" textLength="15.55" lengthAdjust="spacingAndGlyphs" >−10</text>
<text x="327.30" y="848.50" font-size="10.2" font-weight="normal" fill="#222" textLength="5.58" lengthAdjust="spacingAndGlyphs" >0</text>
<text x="362.46" y="848.50" font-size="10.2" font-weight="normal" fill="#222" textLength="11.80" lengthAdjust="spacingAndGlyphs" >10</text>
<text x="312.80" y="865.50" font-size="11.5" font-weight="normal" fill="#222" textLength="35.55" lengthAdjust="spacingAndGlyphs" ><tspan font-style="italic">x</tspan> (nm)</text>
<text transform="translate(258.80,805.23) rotate(-90)" x="0" y="0" font-size="12.0" font-weight="normal" fill="#222" textLength="33.03" lengthAdjust="spacingAndGlyphs" ><tspan font-style="italic">y</tspan> (nm)</text>
<text x="493.98" y="658.90" font-size="10.2" font-weight="normal" fill="#222" textLength="11.57" lengthAdjust="spacingAndGlyphs" >10</text>
<text x="499.10" y="697.00" font-size="10.2" font-weight="normal" fill="#222" textLength="5.77" lengthAdjust="spacingAndGlyphs" >0</text>
<text x="489.80" y="735.10" font-size="10.2" font-weight="normal" fill="#222" textLength="15.65" lengthAdjust="spacingAndGlyphs" >−10</text>
<text transform="translate(484.10,709.43) rotate(-90)" x="0" y="0" font-size="12.0" font-weight="normal" fill="#222" textLength="33.03" lengthAdjust="spacingAndGlyphs" ><tspan font-style="italic">y</tspan> (nm)</text>
<text x="493.98" y="755.70" font-size="10.2" font-weight="normal" fill="#222" textLength="11.57" lengthAdjust="spacingAndGlyphs" >10</text>
<text x="499.10" y="793.80" font-size="10.2" font-weight="normal" fill="#222" textLength="5.77" lengthAdjust="spacingAndGlyphs" >0</text>
<text x="489.80" y="831.90" font-size="10.2" font-weight="normal" fill="#222" textLength="15.65" lengthAdjust="spacingAndGlyphs" >−10</text>
<text x="508.40" y="848.50" font-size="10.2" font-weight="normal" fill="#222" textLength="15.55" lengthAdjust="spacingAndGlyphs" >−10</text>
<text x="552.60" y="848.50" font-size="10.2" font-weight="normal" fill="#222" textLength="5.58" lengthAdjust="spacingAndGlyphs" >0</text>
<text x="587.76" y="848.50" font-size="10.2" font-weight="normal" fill="#222" textLength="11.80" lengthAdjust="spacingAndGlyphs" >10</text>
<text x="538.10" y="865.70" font-size="11.5" font-weight="normal" fill="#222" textLength="35.55" lengthAdjust="spacingAndGlyphs" ><tspan font-style="italic">x</tspan> (nm)</text>
<text transform="translate(484.10,806.23) rotate(-90)" x="0" y="0" font-size="12.0" font-weight="normal" fill="#222" textLength="33.03" lengthAdjust="spacingAndGlyphs" ><tspan font-style="italic">y</tspan> (nm)</text>
<text x="93.40" y="43.90" font-size="13.0" font-weight="normal" fill="#111" textLength="26.82" lengthAdjust="spacingAndGlyphs" ><tspan font-style="italic" font-size="14.56" font-family="Liberation Serif">ν</tspan><tspan font-size="10.14" dy="3.20">h</tspan><tspan dy="-3.20"> = 1</tspan></text>
<text x="309.80" y="43.90" font-size="13.0" font-weight="normal" fill="#111" textLength="41.90" lengthAdjust="spacingAndGlyphs" ><tspan font-style="italic" font-size="14.56" font-family="Liberation Serif">ν</tspan><tspan font-size="10.14" dy="3.20">h</tspan><tspan dy="-3.20"> = 4/3</tspan></text>
<text x="540.30" y="43.90" font-size="13.0" font-weight="normal" fill="#111" textLength="28.83" lengthAdjust="spacingAndGlyphs" ><tspan font-style="italic" font-size="14.56" font-family="Liberation Serif">ν</tspan><tspan font-size="10.14" dy="3.20">h</tspan><tspan dy="-3.20"> = 2</tspan></text>
<text x="89.60" y="358.90" font-size="13.0" font-weight="normal" fill="#111" textLength="26.62" lengthAdjust="spacingAndGlyphs" ><tspan font-style="italic" font-size="14.56" font-family="Liberation Serif">ν</tspan><tspan font-size="10.14" dy="3.20">h</tspan><tspan dy="-3.20"> = 1</tspan></text>
<text x="312.30" y="358.90" font-size="13.0" font-weight="normal" fill="#111" textLength="41.60" lengthAdjust="spacingAndGlyphs" ><tspan font-style="italic" font-size="14.56" font-family="Liberation Serif">ν</tspan><tspan font-size="10.14" dy="3.20">h</tspan><tspan dy="-3.20"> = 4/3</tspan></text>
<text x="540.10" y="358.90" font-size="13.0" font-weight="normal" fill="#111" textLength="29.43" lengthAdjust="spacingAndGlyphs" ><tspan font-style="italic" font-size="14.56" font-family="Liberation Serif">ν</tspan><tspan font-size="10.14" dy="3.20">h</tspan><tspan dy="-3.20"> = 2</tspan></text>
<text x="92.30" y="644.70" font-size="13.0" font-weight="normal" fill="#111" textLength="27.33" lengthAdjust="spacingAndGlyphs" ><tspan font-style="italic" font-size="14.56" font-family="Liberation Serif">ν</tspan><tspan font-size="10.14" dy="3.20">h</tspan><tspan dy="-3.20"> = 1</tspan></text>
<text x="309.20" y="646.80" font-size="13.0" font-weight="normal" fill="#111" textLength="41.60" lengthAdjust="spacingAndGlyphs" ><tspan font-style="italic" font-size="14.56" font-family="Liberation Serif">ν</tspan><tspan font-size="10.14" dy="3.20">h</tspan><tspan dy="-3.20"> = 4/3</tspan></text>
<text x="544.70" y="645.00" font-size="13.0" font-weight="normal" fill="#111" textLength="29.23" lengthAdjust="spacingAndGlyphs" ><tspan font-style="italic" font-size="14.56" font-family="Liberation Serif">ν</tspan><tspan font-size="10.14" dy="3.20">h</tspan><tspan dy="-3.20"> = 2</tspan></text>
<text x="186.21" y="237.60" font-size="11.9" font-weight="normal" fill="#111" textLength="25.58" lengthAdjust="spacingAndGlyphs" >DOS</text>
<text transform="translate(168.40,175.03) rotate(-90)" x="0" y="0" font-size="12.3" font-weight="normal" fill="#111" textLength="68.22" lengthAdjust="spacingAndGlyphs" >Hole energy</text>
<text x="160.83" y="92.60" font-size="11.5" font-weight="normal" fill="#ff0000" textLength="6.69" lengthAdjust="spacingAndGlyphs" >K</text>
<text x="156.95" y="190.00" font-size="12" font-weight="normal" fill="#7a1f96" textLength="11.81" lengthAdjust="spacingAndGlyphs" >Γ<tspan font-size="8.64" dy="3.60">B</tspan></text>
<text x="154.88" y="215.60" font-size="12" font-weight="normal" fill="#cc00ff" textLength="12.60" lengthAdjust="spacingAndGlyphs" >Γ<tspan font-size="8.64" dy="3.60">A</tspan></text>
<text x="224.60" y="197.60" font-size="12" font-weight="normal" fill="#111" textLength="10.74" lengthAdjust="spacingAndGlyphs" ><tspan font-style="italic">E</tspan><tspan font-size="8.64" dy="3.60">F</tspan></text>
<text x="214.74" y="175.50" font-size="12" font-weight="normal" fill="#cc00ff" textLength="18.44" lengthAdjust="spacingAndGlyphs" ><tspan font-style="italic">U</tspan><tspan font-size="8.64" dy="3.60">ΓA</tspan></text>
<text x="408.31" y="237.60" font-size="11.9" font-weight="normal" fill="#111" textLength="25.58" lengthAdjust="spacingAndGlyphs" >DOS</text>
<text transform="translate(390.30,177.63) rotate(-90)" x="0" y="0" font-size="12.3" font-weight="normal" fill="#111" textLength="68.62" lengthAdjust="spacingAndGlyphs" >Hole energy</text>
<text x="430.20" y="192.60" font-size="12" font-weight="normal" fill="#9b2fae" textLength="17.65" lengthAdjust="spacingAndGlyphs" ><tspan font-style="italic">Δ</tspan><tspan font-size="8.64" dy="3.60">ΓB</tspan></text>
<text x="636.72" y="237.40" font-size="11.9" font-weight="normal" fill="#111" textLength="25.37" lengthAdjust="spacingAndGlyphs" >DOS</text>
<text transform="translate(616.10,175.63) rotate(-90)" x="0" y="0" font-size="12.3" font-weight="normal" fill="#111" textLength="68.22" lengthAdjust="spacingAndGlyphs" >Hole energy</text>
<text x="638.75" y="160.20" font-size="12" font-weight="normal" fill="#9b2fae" textLength="18.23" lengthAdjust="spacingAndGlyphs" ><tspan font-style="italic">U</tspan><tspan font-size="8.64" dy="3.60">ΓB</tspan></text>
<text x="187.71" y="549.80" font-size="11.9" font-weight="normal" fill="#111" textLength="25.58" lengthAdjust="spacingAndGlyphs" >DOS</text>
<text transform="translate(167.30,486.64) rotate(-90)" x="0" y="0" font-size="12.3" font-weight="normal" fill="#111" textLength="68.72" lengthAdjust="spacingAndGlyphs" >Hole energy</text>
<text x="406.41" y="549.30" font-size="11.9" font-weight="normal" fill="#111" textLength="25.58" lengthAdjust="spacingAndGlyphs" >DOS</text>
<text transform="translate(386.80,484.64) rotate(-90)" x="0" y="0" font-size="12.3" font-weight="normal" fill="#111" textLength="68.72" lengthAdjust="spacingAndGlyphs" >Hole energy</text>
<text x="413.20" y="508.20" font-size="12" font-weight="normal" fill="#ff0000" textLength="12.45" lengthAdjust="spacingAndGlyphs" ><tspan font-style="italic">Δ</tspan><tspan font-size="8.64" dy="3.60">K</tspan></text>
<text x="636.12" y="550.10" font-size="11.9" font-weight="normal" fill="#111" textLength="25.27" lengthAdjust="spacingAndGlyphs" >DOS</text>
<text transform="translate(613.10,486.54) rotate(-90)" x="0" y="0" font-size="12.3" font-weight="normal" fill="#111" textLength="68.82" lengthAdjust="spacingAndGlyphs" >Hole energy</text>
<text x="635.88" y="449.50" font-size="11.5" font-weight="normal" fill="#ff0000" textLength="24.70" lengthAdjust="spacingAndGlyphs" >UHB</text>
<text x="637.75" y="514.80" font-size="11.5" font-weight="normal" fill="#ff0000" textLength="23.55" lengthAdjust="spacingAndGlyphs" >LHB</text>
<text x="648.44" y="487.60" font-size="12" font-weight="normal" fill="#ff0000" textLength="13.88" lengthAdjust="spacingAndGlyphs" ><tspan font-style="italic">U</tspan><tspan font-size="8.64" dy="3.60">K</tspan></text>
<text x="186.73" y="834.20" font-size="11.9" font-weight="normal" fill="#111" textLength="25.06" lengthAdjust="spacingAndGlyphs" >DOS</text>
<text transform="translate(165.80,771.14) rotate(-90)" x="0" y="0" font-size="12.3" font-weight="normal" fill="#111" textLength="68.72" lengthAdjust="spacingAndGlyphs" >Hole energy</text>
<text x="407.91" y="836.40" font-size="11.9" font-weight="normal" fill="#111" textLength="25.58" lengthAdjust="spacingAndGlyphs" >DOS</text>
<text transform="translate(386.80,773.74) rotate(-90)" x="0" y="0" font-size="12.3" font-weight="normal" fill="#111" textLength="68.72" lengthAdjust="spacingAndGlyphs" >Hole energy</text>
<text x="413.20" y="777.70" font-size="12" font-weight="normal" fill="#ff0000" textLength="12.64" lengthAdjust="spacingAndGlyphs" ><tspan font-style="italic">Δ</tspan><tspan font-size="8.64" dy="3.60">K</tspan></text>
<text x="426.80" y="774.10" font-size="12" font-weight="normal" fill="#9b2fae" textLength="18.06" lengthAdjust="spacingAndGlyphs" ><tspan font-style="italic">Δ</tspan><tspan font-size="8.64" dy="3.60">ΓB</tspan></text>
<text x="633.41" y="834.30" font-size="11.9" font-weight="normal" fill="#111" textLength="25.47" lengthAdjust="spacingAndGlyphs" >DOS</text>
<text transform="translate(613.10,773.14) rotate(-90)" x="0" y="0" font-size="12.3" font-weight="normal" fill="#111" textLength="69.13" lengthAdjust="spacingAndGlyphs" >Hole energy</text>
<text x="155.50" y="42.00" font-size="12.6" font-weight="normal" fill="#111" textLength="31.40" lengthAdjust="spacingAndGlyphs" >B site</text>
<text x="168.90" y="57.00" font-size="12.6" font-weight="normal" fill="#111" textLength="30.51" lengthAdjust="spacingAndGlyphs" >A site</text>
<text x="61.50" y="293.40" font-size="12.8" font-weight="normal" fill="#a529ab" textLength="87.55" lengthAdjust="spacingAndGlyphs" >Γ moiré lattice</text>
<text x="61.20" y="307.70" font-size="12.8" font-weight="normal" fill="#a529ab" textLength="82.16" lengthAdjust="spacingAndGlyphs" >(honeycomb)</text>
<text x="287.72" y="290.90" font-size="12.8" font-weight="normal" fill="#f21c1c" textLength="87.97" lengthAdjust="spacingAndGlyphs" >K moiré lattice</text>
<text x="286.88" y="304.10" font-size="12.8" font-weight="normal" fill="#f21c1c" textLength="69.30" lengthAdjust="spacingAndGlyphs" >(triangular)</text>
</svg>
</body></html>
